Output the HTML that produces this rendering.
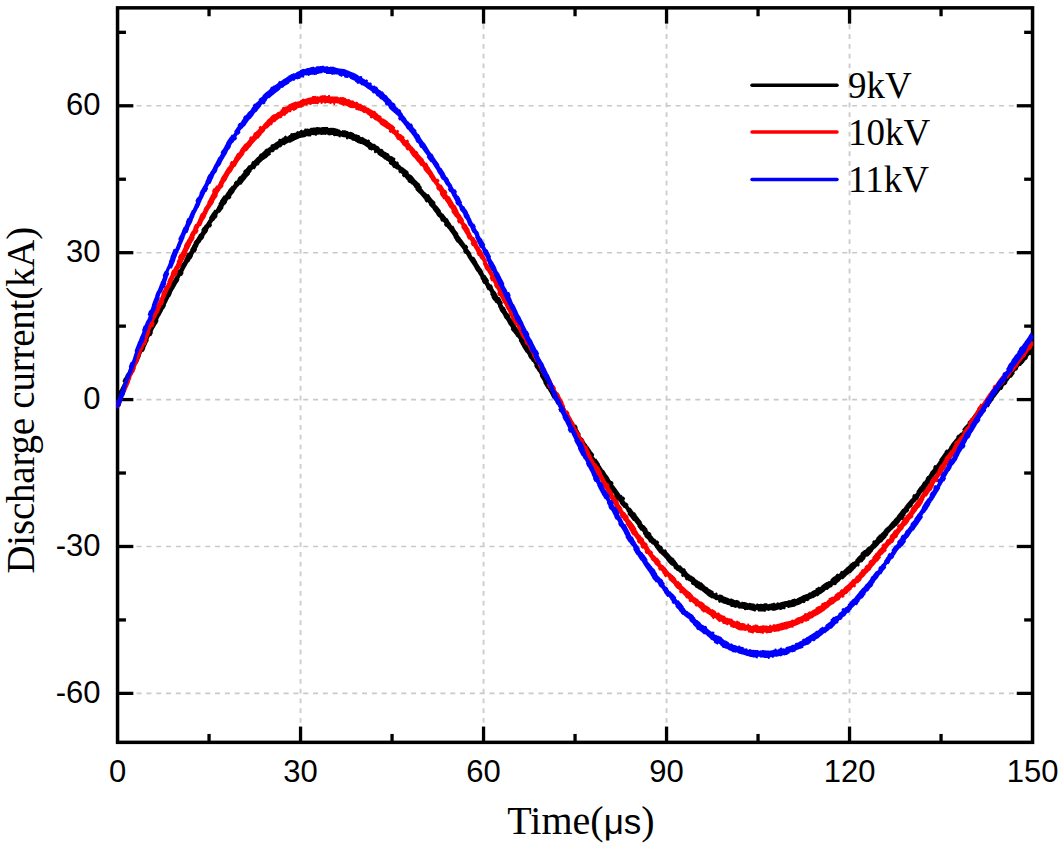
<!DOCTYPE html>
<html><head><meta charset="utf-8"><title>Discharge current</title><style>
html,body{margin:0;padding:0;background:#fff;width:1062px;height:848px;overflow:hidden}
svg{display:block}
text{fill:#000}
</style></head><body>
<svg width="1062" height="848" viewBox="0 0 1062 848">
<line x1="300.55" y1="742.35" x2="300.55" y2="7.85" stroke="#cdcdcd" stroke-width="1.9" stroke-dasharray="4.8 4.97" fill="none"/>
<line x1="483.55" y1="742.35" x2="483.55" y2="7.85" stroke="#cdcdcd" stroke-width="1.9" stroke-dasharray="4.8 4.97" fill="none"/>
<line x1="666.55" y1="742.35" x2="666.55" y2="7.85" stroke="#cdcdcd" stroke-width="1.9" stroke-dasharray="4.8 4.97" fill="none"/>
<line x1="849.55" y1="742.35" x2="849.55" y2="7.85" stroke="#cdcdcd" stroke-width="1.9" stroke-dasharray="4.8 4.97" fill="none"/>
<line x1="117.55" y1="693.38" x2="1032.55" y2="693.38" stroke="#c9c9c9" stroke-width="1.6" stroke-dasharray="5 4.8" stroke-dashoffset="0.5" fill="none"/>
<line x1="117.55" y1="546.48" x2="1032.55" y2="546.48" stroke="#c9c9c9" stroke-width="1.6" stroke-dasharray="5 4.8" stroke-dashoffset="0.5" fill="none"/>
<line x1="117.55" y1="399.58" x2="1032.55" y2="399.58" stroke="#c9c9c9" stroke-width="1.6" stroke-dasharray="5 4.8" stroke-dashoffset="0.5" fill="none"/>
<line x1="117.55" y1="252.68" x2="1032.55" y2="252.68" stroke="#c9c9c9" stroke-width="1.6" stroke-dasharray="5 4.8" stroke-dashoffset="0.5" fill="none"/>
<line x1="117.55" y1="105.78" x2="1032.55" y2="105.78" stroke="#c9c9c9" stroke-width="1.6" stroke-dasharray="5 4.8" stroke-dashoffset="0.5" fill="none"/>
<rect x="117.55" y="7.85" width="915.00" height="734.50" fill="none" stroke="#000" stroke-width="3.5"/>
<line x1="209.05" y1="742.35" x2="209.05" y2="733.95" stroke="#000" stroke-width="3.3"/>
<line x1="209.05" y1="7.85" x2="209.05" y2="16.25" stroke="#000" stroke-width="3.3"/>
<line x1="300.55" y1="742.35" x2="300.55" y2="726.55" stroke="#000" stroke-width="3.3"/>
<line x1="300.55" y1="7.85" x2="300.55" y2="23.65" stroke="#000" stroke-width="3.3"/>
<line x1="392.05" y1="742.35" x2="392.05" y2="733.95" stroke="#000" stroke-width="3.3"/>
<line x1="392.05" y1="7.85" x2="392.05" y2="16.25" stroke="#000" stroke-width="3.3"/>
<line x1="483.55" y1="742.35" x2="483.55" y2="726.55" stroke="#000" stroke-width="3.3"/>
<line x1="483.55" y1="7.85" x2="483.55" y2="23.65" stroke="#000" stroke-width="3.3"/>
<line x1="575.05" y1="742.35" x2="575.05" y2="733.95" stroke="#000" stroke-width="3.3"/>
<line x1="575.05" y1="7.85" x2="575.05" y2="16.25" stroke="#000" stroke-width="3.3"/>
<line x1="666.55" y1="742.35" x2="666.55" y2="726.55" stroke="#000" stroke-width="3.3"/>
<line x1="666.55" y1="7.85" x2="666.55" y2="23.65" stroke="#000" stroke-width="3.3"/>
<line x1="758.05" y1="742.35" x2="758.05" y2="733.95" stroke="#000" stroke-width="3.3"/>
<line x1="758.05" y1="7.85" x2="758.05" y2="16.25" stroke="#000" stroke-width="3.3"/>
<line x1="849.55" y1="742.35" x2="849.55" y2="726.55" stroke="#000" stroke-width="3.3"/>
<line x1="849.55" y1="7.85" x2="849.55" y2="23.65" stroke="#000" stroke-width="3.3"/>
<line x1="941.05" y1="742.35" x2="941.05" y2="733.95" stroke="#000" stroke-width="3.3"/>
<line x1="941.05" y1="7.85" x2="941.05" y2="16.25" stroke="#000" stroke-width="3.3"/>
<line x1="117.55" y1="32.33" x2="125.95" y2="32.33" stroke="#000" stroke-width="3.3"/>
<line x1="1032.55" y1="32.33" x2="1024.15" y2="32.33" stroke="#000" stroke-width="3.3"/>
<line x1="117.55" y1="105.78" x2="133.35" y2="105.78" stroke="#000" stroke-width="3.3"/>
<line x1="1032.55" y1="105.78" x2="1016.75" y2="105.78" stroke="#000" stroke-width="3.3"/>
<line x1="117.55" y1="179.23" x2="125.95" y2="179.23" stroke="#000" stroke-width="3.3"/>
<line x1="1032.55" y1="179.23" x2="1024.15" y2="179.23" stroke="#000" stroke-width="3.3"/>
<line x1="117.55" y1="252.68" x2="133.35" y2="252.68" stroke="#000" stroke-width="3.3"/>
<line x1="1032.55" y1="252.68" x2="1016.75" y2="252.68" stroke="#000" stroke-width="3.3"/>
<line x1="117.55" y1="326.13" x2="125.95" y2="326.13" stroke="#000" stroke-width="3.3"/>
<line x1="1032.55" y1="326.13" x2="1024.15" y2="326.13" stroke="#000" stroke-width="3.3"/>
<line x1="117.55" y1="399.58" x2="133.35" y2="399.58" stroke="#000" stroke-width="3.3"/>
<line x1="1032.55" y1="399.58" x2="1016.75" y2="399.58" stroke="#000" stroke-width="3.3"/>
<line x1="117.55" y1="473.03" x2="125.95" y2="473.03" stroke="#000" stroke-width="3.3"/>
<line x1="1032.55" y1="473.03" x2="1024.15" y2="473.03" stroke="#000" stroke-width="3.3"/>
<line x1="117.55" y1="546.48" x2="133.35" y2="546.48" stroke="#000" stroke-width="3.3"/>
<line x1="1032.55" y1="546.48" x2="1016.75" y2="546.48" stroke="#000" stroke-width="3.3"/>
<line x1="117.55" y1="619.93" x2="125.95" y2="619.93" stroke="#000" stroke-width="3.3"/>
<line x1="1032.55" y1="619.93" x2="1024.15" y2="619.93" stroke="#000" stroke-width="3.3"/>
<line x1="117.55" y1="693.38" x2="133.35" y2="693.38" stroke="#000" stroke-width="3.3"/>
<line x1="1032.55" y1="693.38" x2="1016.75" y2="693.38" stroke="#000" stroke-width="3.3"/>
<g>
<path d="M118.8 405.4l.4 -.9 .4 -.8 .4 -.9 .3 -.9 -.5 -1.6 .4 -.9 .4 -.9 .3 -.8 .4 -.9 .3 -1 .4 -.8 .3 -.9 .4 -.8 .4 -.9 1.1 -.3 .4 -.8 .4 -.9 .4 -.8 .4 -.9 .1 -.9 .4 -.9 .4 -.8 .4 -.8 .3 -.9 .6 -.6 .3 -.9 .4 -.8 .4 -.8 .4 -.9 .2 -.9 .4 -.9 .4 -.8 .4 -.8 .3 -.8 .8 -.7 .4 -.8 .4 -.8 .4 -.8 .3 -.9 .5 -.7 .3 -.9 .4 -.8 .4 -.8 .4 -.8 -.4 -1.2 .4 -.8 .4 -.8 .4 -.8 .3 -.8 1.1 -.5 .4 -.8 .3 -.8 .4 -.8 .4 -.8 .1 -.7 .4 -.8 .4 -.8 .4 -.8 .3 -.8 0 -1 .4 -.8 .4 -.8 .4 -.8 .4 -.8 1.5 -.5 .3 -.8 .4 -.8 .4 -.8 .4 -.8 -.1 -.7 .4 -.8 .4 -.8 .3 -.8 .4 -.8 .5 -1.2 .4 -.7 .4 -.8 .4 -.8 .4 -.8 -.5 -.7 .4 -.8 .4 -.8 .4 -.8 .3 -.8 1.4 -.2 .4 -.7 .4 -.8 .4 -.8 .3 -.8 -.1 -1.5 .4 -.8 .4 -.8 .3 -.8 .4 -.8 .5 -.4 .4 -.8 .4 -.7 .4 -.8 .4 -.8 .6 -.6 .4 -.7 .4 -.8 .4 -.8 .4 -.8 -.3 -1.5 .4 -.7 .3 -.8 .4 -.8 .4 -.8 .6 -.7 .4 -.8 .4 -.7 .4 -.8 .4 -.8 .3 -.4 .4 -.8 .4 -.8 .3 -.7 .4 -.8 .6 -.3 .4 -.8 .4 -.7 .4 -.8 .4 -.7 0 -1.3 .4 -.8 .4 -.7 .4 -.8 .4 -.7 .5 -1.2 .4 -.8 .4 -.7 .3 -.8 .4 -.7 .6 -.3 .4 -.8 .4 -.7 .3 -.8 .4 -.7 .2 -1.1 .3 -.7 .4 -.8 .4 -.7 .4 -.7 .4 -.4 .4 -.7 .4 -.7 .3 -.7 .4 -.8 .5 -.5 .3 -.8 .4 -.7 .4 -.7 .4 -.7 .8 -.9 .4 -.7 .4 -.7 .4 -.7 .3 -.7 -.4 -.7 .4 -.7 .4 -.7 .3 -.7 .4 -.7 1.5 -.3 .4 -.7 .3 -.7 .4 -.7 .4 -.7 -.4 -1.1 .4 -.7 .4 -.7 .4 -.7 .3 -.7 .3 -.6 .4 -.7 .4 -.7 .4 -.6 .4 -.7 .4 -.9 .4 -.7 .4 -.6 .4 -.7 .4 -.7 .7 -.3 .4 -.7 .4 -.7 .3 -.6 .4 -.7 .6 -.3 .4 -.6 .3 -.7 .4 -.7 .4 -.6 .2 -1.2 .3 -.7 .4 -.6 .4 -.7 .4 -.6 .9 -.1 .3 -.7 .4 -.6 .4 -.7 .4 -.6 -.2 -1.1 .3 -.6 .4 -.7 .4 -.6 .4 -.6 .1 -.8 .3 -.6 .4 -.7 .4 -.6 .4 -.6 .6 -.4 .3 -.6 .4 -.6 .4 -.7 .4 -.6 .8 -.4 .4 -.6 .4 -.7 .3 -.6 .4 -.6 0 -.9 .3 -.6 .4 -.6 .4 -.6 .4 -.7 .8 -.5 .4 -.7 .4 -.6 .4 -.6 .3 -.6 -.1 -.8 .4 -.6 .3 -.6 .4 -.6 .4 -.6 1 .1 .4 -.6 .4 -.6 .4 -.6 .4 -.6 -.6 -1.5 .4 -.6 .4 -.6 .4 -.6 .3 -.6 .9 -.2 .4 -.6 .4 -.6 .4 -.6 .3 -.6 .7 -.1 .4 -.6 .4 -.6 .3 -.6 .4 -.5 -.2 -1.4 .3 -.6 .4 -.5 .4 -.6 .4 -.6 .9 .4 .3 -.5 .4 -.6 .4 -.5 .4 -.6 .7 -.8 .4 -.5 .4 -.6 .4 -.5 .3 -.6 -.2 -.9 .3 -.5 .4 -.5 .4 -.6 .4 -.5 .7 -.3 .4 -.6 .3 -.5 .4 -.5 .4 -.6 .1 -.9 .3 -.6 .4 -.5 .4 -.5 .4 -.5 1.3 0 .4 -.5 .4 -.5 .3 -.5 .4 -.5 -.3 -1 .4 -.6 .4 -.5 .3 -.5 .4 -.5 .3 -.2 .4 -.5 .4 -.5 .4 -.5 .4 -.5 .2 -1.1 .4 -.5 .4 -.5 .4 -.4 .4 -.5 -.1 0 .4 -.5 .4 -.5 .3 -.5 .4 -.4 .8 -.8 .4 -.4 .4 -.5 .4 -.5 .3 -.4 1.1 .4 .4 -.5 .3 -.4 .4 -.5 .4 -.5 .3 -.5 .4 -.5 .4 -.4 .3 -.5 .4 -.4 .4 -.6 .4 -.4 .4 -.5 .3 -.4 .4 -.5 .1 -.2 .4 -.5 .4 -.4 .3 -.4 .4 -.5 .6 -.5 .4 -.4 .4 -.5 .4 -.4 .3 -.4 0 -.8 .4 -.5 .4 -.4 .4 -.4 .4 -.4 0 -.9 .3 -.4 .4 -.4 .4 -.5 .4 -.4 1.2 .5 .4 -.4 .3 -.4 .4 -.4 .4 -.4 .1 -1.1 .4 -.4 .4 -.4 .4 -.4 .4 -.4 .4 .6 .4 -.4 .4 -.3 .3 -.4 .4 -.4 .2 -.8 .3 -.4 .4 -.3 .4 -.4 .4 -.4 .6 -.5 .4 -.3 .3 -.4 .4 -.3 .4 -.4 .4 -.1 .4 -.3 .4 -.3 .4 -.4 .3 -.3 .8 -.1 .3 -.3 .4 -.3 .4 -.3 .4 -.4 .1 -.2 .3 -.4 .4 -.3 .4 -.3 .4 -.3 .5 -.2 .4 -.3 .4 -.3 .4 -.3 .3 -.3 -.5 -1.3 .4 -.3 .4 -.3 .3 -.3 .4 -.3 .9 .5 .4 -.3 .3 -.2 .4 -.3 .4 -.3 .2 -.8 .4 -.2 .4 -.3 .4 -.3 .3 -.2 .7 .4 .4 -.3 .4 -.2 .3 -.3 .4 -.2 0 -.6 .4 -.3 .4 -.2 .3 -.3 .4 -.2 .5 .1 .4 -.2 .4 -.2 .3 -.2 .4 -.3 .3 -.7 .3 -.2 .4 -.3 .4 -.2 .4 -.2 .5 .5 .4 -.2 .4 -.2 .3 -.2 .4 -.2 .2 -.5 .4 -.2 .4 -.2 .3 -.2 .4 -.1 .4 -.3 .4 -.2 .3 -.1 .4 -.2 .4 -.2 .6 .6 .3 -.2 .4 -.1 .4 -.2 .3 -.2 .3 -.3 .4 -.2 .3 -.1 .4 -.2 .3 -.1 .5 -.4 .3 -.1 .4 -.2 .4 -.1 .3 -.2 .3 -.3 .3 -.1 .4 -.1 .4 -.2 .3 -.1 .4 -.2 .3 -.1 .4 -.2 .4 -.1 .3 -.1 .4 -.4 .4 -.1 .3 -.2 .4 -.1 .4 -.1 .2 0 .4 -.1 .3 -.1 .4 -.1 .4 -.1 .5 .1 .4 -.1 .3 -.1 .4 -.1 .4 -.1 .3 0 .4 -.1 .3 0 .4 -.1 .4 -.1 .3 -.6 .4 -.1 .4 0 .3 -.1 .4 -.1 .4 .5 .4 -.1 .4 -.1 .3 0 .4 -.1 .4 .2 .3 0 .4 -.1 .4 -.1 .3 0 .3 -1.2 .3 -.1 .4 0 .4 -.1 .3 0 .4 .4 .4 -.1 .4 0 .3 0 .4 -.1 .5 .7 .3 0 .4 0 .3 -.1 .4 0 .3 -.9 .4 -.1 .3 0 .4 0 .4 0 .3 -.2 .4 0 .4 0 .3 -.1 .4 0 .4 .6 .3 -.1 .4 0 .3 0 .4 0 .4 -.1 .3 0 .4 0 .4 0 .3 0 .4 0 .4 0 .3 0 .4 .1 .4 0 .3 -.3 .4 0 .3 0 .4 0 .4 0 .3 .7 .4 0 .4 0 .3 0 .4 .1 .4 -.2 .3 0 .4 .1 .4 0 .3 0 .4 -.4 .3 .1 .4 0 .4 .1 .3 0 .4 1 .3 0 .4 .1 .4 0 .3 .1 .4 -.4 .4 .1 .3 0 .4 .1 .4 .1 .4 -.1 .3 .1 .4 .1 .4 0 .3 .1 .3 .8 .4 .1 .4 0 .3 .1 .4 .1 .5 -1 .4 .1 .4 .1 .4 .1 .3 .1 .3 .1 .4 .1 .3 .1 .4 .1 .4 .1 .4 -.2 .4 .1 .4 .1 .4 .1 .3 .1 0 1.5 .4 .1 .3 .1 .4 .2 .4 .1 .6 -1 .4 .1 .3 .1 .4 .1 .4 .2 .4 0 .4 .2 .3 .1 .4 .1 .4 .2 .2 .6 .4 .2 .4 .1 .3 .1 .4 .2 .4 -.2 .4 .1 .4 .2 .4 .1 .3 .2 .3 .5 .4 .2 .3 .1 .4 .2 .4 .1 .3 .4 .4 .2 .4 .1 .3 .2 .4 .2 .3 -.1 .4 .2 .4 .2 .3 .2 .4 .1 .7 -.2 .4 .1 .4 .2 .3 .2 .4 .2 .3 .2 .4 .1 .4 .2 .4 .2 .3 .2 .2 .4 .4 .2 .4 .2 .3 .2 .4 .2 .4 .4 .4 .2 .3 .2 .4 .2 .4 .2 0 1.1 .4 .3 .3 .2 .4 .2 .4 .2 .5 -.1 .3 .2 .4 .3 .4 .2 .3 .2 1.2 -.8 .3 .2 .4 .2 .4 .3 .4 .2 -.4 1.6 .4 .2 .3 .3 .4 .2 .4 .3 .8 -.8 .4 .3 .4 .2 .4 .3 .3 .3 0 .7 .4 .3 .3 .2 .4 .3 .4 .3 .3 .3 .4 .2 .4 .3 .4 .3 .3 .3 .8 .2 .4 .3 .4 .3 .3 .3 .4 .3 .2 .3 .4 .3 .4 .3 .4 .3 .3 .3 .6 0 .4 .3 .3 .3 .4 .3 .4 .3 .5 -.1 .3 .3 .4 .3 .4 .4 .4 .3 -.2 1.4 .4 .3 .4 .3 .3 .3 .4 .4 .6 0 .4 .3 .4 .4 .4 .3 .3 .3 0 .7 .3 .3 .4 .3 .4 .4 .4 .3 .9 -.2 .3 .4 .4 .3 .4 .4 .4 .3 .8 -.2 .4 .3 .4 .4 .3 .3 .4 .4 -.2 1.3 .4 .4 .3 .3 .4 .4 .4 .4 .9 -.3 .4 .4 .4 .3 .4 .4 .3 .4 -.3 1.2 .4 .3 .4 .4 .3 .4 .4 .4 .9 -.2 .4 .4 .3 .4 .4 .4 .4 .4 .2 .4 .3 .4 .4 .4 .4 .4 .4 .4 .1 .8 .3 .4 .4 .4 .4 .4 .4 .4 .9 -.1 .4 .4 .4 .4 .3 .4 .4 .4 .6 0 .4 .4 .4 .5 .4 .4 .4 .4 .1 .7 .4 .4 .4 .4 .4 .4 .4 .5 -.1 .9 .3 .4 .4 .5 .4 .4 .4 .4 .6 .6 .4 .4 .4 .5 .4 .4 .3 .4 .6 .2 .4 .5 .4 .4 .4 .5 .4 .4 .2 .3 .4 .5 .4 .4 .4 .5 .4 .4 .2 .5 .4 .4 .4 .5 .4 .4 .3 .5 .2 1 .4 .4 .4 .5 .4 .4 .3 .5 1 -.7 .4 .4 .4 .5 .4 .5 .4 .4 -.1 .8 .3 .5 .4 .5 .4 .5 .4 .4 .7 .6 .4 .5 .4 .4 .4 .5 .4 .5 .2 .7 .4 .5 .4 .5 .4 .5 .4 .5 .2 .3 .4 .5 .4 .5 .4 .5 .3 .5 .4 .8 .4 .5 .4 .5 .4 .5 .4 .5 .4 0 .4 .5 .4 .4 .4 .5 .4 .5 .1 1.1 .4 .5 .4 .5 .4 .5 .3 .5 1.1 -.4 .3 .5 .4 .5 .4 .5 .4 .5 -.4 1.2 .4 .5 .4 .5 .4 .5 .4 .5 1 .3 .4 .6 .3 .5 .4 .5 .4 .5 .2 0 .3 .5 .4 .5 .4 .5 .4 .6 .6 .7 .4 .6 .3 .5 .4 .5 .4 .5 .4 .8 .4 .5 .3 .5 .4 .6 .4 .5 -.2 .6 .3 .6 .4 .5 .4 .5 .4 .6 .3 .7 .4 .6 .4 .5 .3 .5 .4 .6 .8 .1 .4 .5 .4 .6 .4 .5 .4 .6 .6 .5 .4 .5 .4 .6 .3 .5 .4 .6 .5 .5 .4 .6 .4 .5 .4 .6 .3 .6 -.2 1 .3 .6 .4 .6 .4 .5 .4 .6 1.1 .3 .4 .6 .4 .6 .4 .5 .3 .6 .2 .8 .4 .6 .3 .5 .4 .6 .4 .6 .3 .4 .4 .6 .3 .6 .4 .6 .4 .6 .4 .5 .4 .5 .4 .6 .4 .6 .4 .6 .3 .5 .4 .6 .3 .6 .4 .6 .4 .6 .4 1.1 .4 .6 .4 .6 .3 .6 .4 .6 .4 0 .4 .6 .4 .6 .3 .7 .4 .6 .5 .8 .4 .6 .4 .6 .4 .7 .4 .6 0 1.1 .3 .6 .4 .6 .4 .6 .4 .7 0 .7 .4 .6 .4 .6 .4 .6 .4 .7 1 .1 .3 .7 .4 .6 .4 .7 .4 .6 .1 1 .4 .6 .3 .6 .4 .7 .4 .6 1.2 .1 .4 .6 .4 .7 .4 .6 .4 .7 -.3 1.4 .4 .6 .4 .6 .3 .7 .4 .6 -.1 .9 .4 .6 .4 .7 .4 .6 .3 .7 .8 .1 .4 .6 .4 .7 .4 .6 .3 .7 1.2 .2 .4 .6 .4 .7 .4 .6 .3 .6 0 1.1 .4 .7 .4 .6 .4 .7 .3 .6 0 .5 .3 .7 .4 .6 .4 .6 .4 .7 .8 .6 .3 .6 .4 .6 .4 .7 .4 .6 .3 1 .4 .6 .3 .7 .4 .6 .4 .6 .5 .2 .4 .6 .4 .6 .4 .6 .4 .7 .2 .7 .4 .6 .3 .7 .4 .6 .4 .6 .7 .7 .4 .6 .4 .6 .4 .6 .3 .7 -.5 .9 .4 .6 .4 .6 .4 .6 .4 .6 .6 .2 .4 .6 .4 .6 .4 .6 .3 .6 .7 .5 .4 .6 .3 .6 .4 .6 .4 .6 1 .4 .4 .6 .3 .6 .4 .6 .4 .6 -.3 1 .4 .6 .4 .6 .4 .6 .4 .6 0 .4 .3 .6 .4 .6 .4 .7 .4 .6 .3 .8 .4 .6 .4 .6 .3 .6 .4 .6 .7 .9 .3 .7 .4 .6 .4 .6 .4 .6 .6 .1 .4 .6 .4 .7 .4 .6 .4 .6 .2 1.1 .4 .6 .4 .7 .4 .6 .3 .7 .7 .2 .4 .6 .4 .7 .3 .6 .4 .7 .9 .3 .4 .7 .4 .6 .4 .7 .4 .6 -.3 1.3 .4 .6 .4 .7 .4 .7 .3 .6 .6 .2 .3 .6 .4 .7 .4 .7 .4 .6 .6 .5 .4 .7 .4 .7 .4 .6 .3 .7 0 1.5 .4 .7 .4 .7 .4 .6 .4 .7 .4 .4 .4 .7 .3 .7 .4 .7 .4 .6 0 1.1 .4 .7 .4 .6 .4 .7 .4 .7 .4 .5 .4 .7 .4 .7 .3 .7 .4 .6 .6 .1 .3 .6 .4 .7 .4 .7 .4 .7 .6 .9 .4 .7 .3 .6 .4 .7 .4 .7 .2 .8 .4 .7 .4 .6 .4 .7 .4 .6 .9 .1 .3 .7 .4 .6 .4 .7 .4 .6 .1 .7 .4 .7 .4 .6 .4 .7 .3 .6 .9 .4 .4 .7 .4 .6 .4 .7 .3 .6 -1 1.8 .4 .6 .4 .7 .3 .6 .4 .7 1.3 0 .4 .7 .4 .6 .4 .7 .4 .6 .3 .7 .4 .6 .4 .7 .3 .6 .4 .6 0 1 .4 .6 .4 .6 .3 .7 .4 .6 1.1 .7 .4 .7 .4 .6 .4 .6 .4 .6 .5 .1 .3 .7 .4 .6 .4 .6 .4 .7 -.2 .7 .4 .6 .4 .6 .4 .6 .4 .7 -.3 1.6 .4 .6 .4 .6 .4 .6 .3 .6 .9 -.2 .4 .6 .4 .6 .3 .6 .4 .6 .9 .8 .4 .6 .4 .6 .3 .6 .4 .6 -.3 1.4 .3 .6 .4 .6 .4 .6 .4 .7 .7 -.2 .4 .6 .4 .6 .4 .6 .3 .6 .4 .9 .4 .6 .4 .6 .4 .6 .4 .6 .4 .3 .4 .6 .4 .6 .4 .6 .3 .6 .1 .8 .4 .6 .3 .6 .4 .6 .4 .6 1 .3 .4 .6 .4 .6 .4 .6 .3 .6 -.1 1.2 .4 .6 .4 .5 .3 .6 .4 .6 .3 .4 .4 .5 .4 .6 .4 .6 .3 .6 .9 .6 .4 .6 .4 .6 .3 .6 .4 .5 1.1 0 .4 .6 .3 .6 .4 .6 .4 .6 -.2 .8 .4 .6 .3 .5 .4 .6 .4 .6 .2 1 .4 .6 .4 .6 .4 .6 .4 .5 1 -.4 .4 .6 .4 .5 .3 .6 .4 .6 -.1 1.2 .4 .6 .4 .5 .4 .6 .4 .6 .3 .7 .4 .5 .3 .6 .4 .5 .4 .6 -.1 .6 .4 .6 .3 .5 .4 .6 .4 .5 .9 .5 .4 .5 .4 .6 .4 .5 .3 .6 0 .7 .4 .5 .3 .6 .4 .5 .4 .6 1.1 .4 .4 .5 .3 .5 .4 .6 .4 .5 -.6 1.2 .4 .5 .4 .6 .4 .5 .3 .5 .2 .6 .4 .6 .3 .5 .4 .5 .4 .6 1.1 -.6 .4 .5 .4 .5 .4 .5 .3 .6 .2 .8 .4 .6 .4 .5 .4 .5 .4 .5 .9 .7 .4 .5 .4 .5 .4 .5 .3 .5 1 -.1 .4 .6 .4 .5 .4 .5 .4 .5 -.1 .7 .4 .5 .4 .5 .4 .5 .4 .5 -.6 1 .4 .5 .4 .5 .4 .5 .4 .5 .6 .4 .4 .5 .3 .5 .4 .5 .4 .5 .5 .6 .4 .5 .4 .5 .4 .5 .3 .5 .9 0 .4 .5 .4 .5 .3 .5 .4 .5 .5 .5 .3 .5 .4 .5 .4 .5 .4 .5 -.1 1 .4 .5 .4 .5 .3 .5 .4 .4 .3 .5 .3 .5 .4 .5 .4 .5 .4 .4 .8 0 .4 .5 .4 .5 .4 .5 .4 .4 -.2 1.1 .4 .5 .4 .5 .4 .5 .3 .4 .1 .9 .4 .5 .4 .4 .4 .5 .4 .5 .6 .1 .4 .4 .4 .5 .4 .4 .4 .5 0 .6 .4 .5 .4 .5 .3 .4 .4 .5 .8 0 .4 .4 .4 .5 .3 .4 .4 .5 1 0 .4 .5 .4 .4 .3 .5 .4 .4 .2 .6 .3 .5 .4 .4 .4 .5 .4 .4 .3 .8 .4 .4 .4 .5 .3 .4 .4 .4 .4 .6 .3 .5 .4 .4 .4 .4 .4 .5 .4 -.2 .4 .5 .4 .4 .4 .4 .3 .4 .5 .3 .4 .4 .4 .4 .4 .5 .4 .4 .5 .6 .4 .4 .4 .4 .4 .4 .4 .4 .1 .7 .4 .4 .4 .4 .3 .4 .4 .4 .2 .5 .4 .4 .4 .4 .4 .4 .4 .4 .2 .2 .4 .4 .3 .4 .4 .4 .4 .4 .9 -.1 .4 .4 .4 .3 .3 .4 .4 .4 0 1 .4 .4 .3 .4 .4 .4 .4 .3 .5 .1 .4 .4 .3 .4 .4 .3 .4 .4 1 .2 .4 .3 .3 .4 .4 .4 .4 .3 .3 -.1 .3 .3 .4 .4 .4 .3 .4 .4 -.3 1.8 .4 .4 .4 .4 .4 .3 .4 .4 .9 -.7 .4 .3 .3 .4 .4 .3 .4 .4 0 1.2 .4 .4 .4 .3 .4 .4 .3 .3 1.1 -.3 .4 .3 .4 .3 .3 .4 .4 .3 .5 -.3 .4 .3 .4 .3 .4 .3 .3 .4 -.3 1.1 .4 .3 .4 .4 .4 .3 .3 .3 .8 0 .4 .4 .4 .3 .4 .3 .4 .3 .1 .6 .3 .3 .4 .3 .4 .3 .4 .3 .6 .1 .4 .3 .4 .3 .4 .3 .4 .3 .4 0 .4 .3 .4 .3 .4 .3 .4 .2 .7 .1 .3 .2 .4 .3 .4 .3 .4 .3 .3 .4 .3 .2 .4 .3 .4 .3 .4 .2 .2 .4 .4 .3 .4 .2 .4 .3 .4 .2 .4 .8 .4 .2 .4 .3 .4 .2 .4 .3 .1 .3 .4 .3 .4 .2 .4 .2 .4 .3 .5 .1 .4 .2 .4 .3 .4 .2 .4 .2 .7 -.4 .3 .2 .4 .3 .4 .2 .4 .2 .3 .5 .3 .2 .4 .2 .4 .2 .4 .2 .5 -.5 .5 .2 .4 .2 .3 .2 .4 .2 -.1 1.4 .4 .2 .4 .2 .4 .2 .4 .2 .9 -.7 .4 .2 .4 .2 .4 .1 .3 .2 .4 .3 .4 .2 .4 .2 .4 .1 .4 .2 .5 -.2 .4 .2 .4 .1 .4 .2 .4 .1 .4 .4 .4 .1 .4 .1 .3 .2 .4 .1 .4 -.1 .4 .1 .4 .2 .4 .1 .4 .1 .1 1 .4 .1 .4 .2 .4 .1 .4 .1 .5 -.2 .4 .1 .4 .1 .4 .1 .4 .1 .3 .3 .4 .1 .4 .1 .4 .1 .3 .1 .7 -.6 .4 .1 .4 .1 .4 0 .4 .1 .2 .7 .4 .1 .4 .1 .4 .1 .4 .1 .4 -.3 .4 .1 .4 0 .4 .1 .4 .1 .4 0 .4 0 .4 .1 .4 .1 .4 .1 .2 1 .4 0 .4 .1 .4 .1 .4 0 .6 -.5 .4 .1 .3 0 .4 .1 .4 .1 .5 -.4 .3 .1 .4 0 .4 .1 .4 .1 .4 .2 .4 .1 .4 0 .4 .1 .3 0 .4 .3 .4 .1 .4 0 .4 .1 .4 0 .4 .5 .4 0 .3 0 .4 .1 .4 0 .5 -1.4 .4 .1 .4 0 .4 0 .4 0 .3 1.3 .4 0 .4 .1 .4 0 .4 0 .4 -.2 .4 0 .4 0 .4 0 .4 0 .4 0 .4 0 .4 0 .4 0 .4 0 .4 .3 .4 0 .4 0 .4 0 .4 0 .4 -1.1 .4 -.1 .4 0 .4 0 .4 0 .4 .4 .4 0 .4 -.1 .4 0 .4 0 .3 -.5 .4 -.1 .4 0 .4 0 .4 -.1 .5 .7 .4 0 .3 -.1 .4 0 .4 0 .5 .1 .4 0 .4 -.1 .4 0 .4 -.1 .3 -.4 .4 0 .4 -.1 .4 0 .4 -.1 .4 -.4 .4 0 .4 -.1 .3 0 .4 -.1 .5 .8 .4 -.1 .4 0 .4 -.1 .4 -.1 .4 -.6 .3 -.1 .4 0 .4 -.1 .4 -.1 .5 .4 .4 -.1 .4 -.1 .4 -.1 .3 0 .2 -1.9 .3 -.1 .4 -.1 .4 -.1 .4 -.1 .6 1.3 .4 0 .4 -.1 .4 -.1 .4 -.1 .5 -.2 .4 -.1 .4 -.1 .3 -.1 .4 -.1 .4 .1 .4 -.1 .4 -.1 .4 -.2 .4 -.1 .4 .2 .4 -.1 .4 -.2 .4 -.1 .4 -.1 .3 -.6 .4 -.1 .4 -.2 .4 -.1 .4 -.1 .4 -.1 .4 -.2 .4 -.1 .4 -.1 .4 -.2 .3 -.2 .4 -.1 .4 -.2 .4 -.1 .4 -.2 .4 -.6 .4 -.1 .4 -.2 .3 -.1 .4 -.2 .7 .5 .4 -.2 .4 -.1 .4 -.2 .4 -.2 0 -.9 .4 -.1 .4 -.2 .4 -.2 .4 -.2 .7 .3 .4 -.2 .4 -.2 .4 -.2 .4 -.2 0 -.8 .4 -.2 .4 -.1 .4 -.2 .4 -.2 .4 -.1 .4 -.2 .4 -.2 .4 -.2 .4 -.2 .4 .2 .4 -.3 .4 -.2 .4 -.2 .4 -.2 .4 -.4 .4 -.2 .4 -.2 .4 -.2 .3 -.2 .8 .4 .4 -.2 .3 -.3 .4 -.2 .4 -.2 .2 -.7 .4 -.3 .4 -.2 .3 -.2 .4 -.3 .5 -.2 .4 -.3 .4 -.2 .3 -.3 .4 -.2 .2 -.2 .4 -.3 .4 -.2 .4 -.2 .4 -.3 .4 -.7 .4 -.2 .4 -.3 .4 -.2 .4 -.3 .7 .3 .3 -.2 .4 -.3 .4 -.3 .4 -.2 .1 -.5 .4 -.2 .4 -.3 .3 -.3 .4 -.2 .7 0 .3 -.2 .4 -.3 .4 -.3 .4 -.2 -.1 -.7 .4 -.3 .4 -.3 .4 -.3 .3 -.2 1 .7 .4 -.3 .4 -.2 .4 -.3 .4 -.3 .3 -.9 .4 -.3 .4 -.3 .4 -.3 .4 -.3 .1 -.2 .4 -.3 .4 -.3 .4 -.3 .4 -.3 .1 -.7 .4 -.3 .4 -.3 .3 -.3 .4 -.3 1 .5 .4 -.4 .4 -.3 .4 -.3 .4 -.3 .3 -.6 .4 -.3 .3 -.3 .4 -.3 .4 -.4 .3 -.4 .3 -.3 .4 -.4 .4 -.3 .4 -.3 .6 -.3 .4 -.3 .4 -.4 .4 -.3 .3 -.3 .4 .2 .4 -.3 .4 -.4 .4 -.3 .4 -.3 .2 -.4 .4 -.4 .3 -.3 .4 -.3 .4 -.4 .4 -.6 .4 -.4 .4 -.3 .4 -.4 .4 -.3 .2 -.7 .4 -.3 .4 -.4 .4 -.3 .4 -.4 .7 .8 .4 -.4 .4 -.3 .3 -.4 .4 -.4 -.4 -1.6 .4 -.4 .4 -.4 .3 -.3 .4 -.4 .9 .4 .4 -.4 .4 -.3 .4 -.4 .4 -.4 .4 -.7 .4 -.4 .4 -.3 .4 -.4 .4 -.4 0 -1.1 .4 -.4 .4 -.4 .4 -.3 .4 -.4 .9 .4 .4 -.4 .4 -.3 .4 -.4 .3 -.4 .4 -.3 .3 -.4 .4 -.4 .4 -.4 .4 -.4 .3 -.6 .3 -.4 .4 -.4 .4 -.4 .4 -.4 .1 -.8 .4 -.3 .4 -.4 .3 -.4 .4 -.4 .5 -.2 .4 -.4 .4 -.4 .4 -.4 .4 -.4 .5 -.5 .4 -.4 .4 -.4 .4 -.5 .4 -.4 .2 -.3 .4 -.4 .3 -.4 .4 -.5 .4 -.4 1 -.2 .4 -.4 .4 -.4 .3 -.4 .4 -.4 .2 -.4 .3 -.4 .4 -.4 .4 -.4 .4 -.4 .2 0 .4 -.4 .4 -.5 .4 -.4 .3 -.4 .1 -.7 .4 -.4 .4 -.4 .4 -.4 .4 -.4 .1 -1.2 .4 -.4 .4 -.4 .3 -.4 .4 -.4 .3 -.3 .4 -.4 .3 -.4 .4 -.4 .4 -.5 .5 -.1 .4 -.4 .3 -.5 .4 -.4 .4 -.4 .5 -.2 .4 -.4 .4 -.4 .4 -.4 .3 -.5 .7 -.3 .4 -.4 .4 -.4 .4 -.5 .4 -.4 .4 -.4 .4 -.5 .4 -.4 .3 -.4 .4 -.5 .4 -.8 .4 -.5 .4 -.4 .3 -.5 .4 -.4 1 .7 .4 -.5 .4 -.4 .4 -.5 .3 -.4 .1 -1.5 .3 -.5 .4 -.5 .4 -.4 .4 -.5 -.3 -.8 .4 -.4 .4 -.5 .3 -.5 .4 -.5 .8 -.1 .3 -.4 .4 -.5 .4 -.5 .4 -.5 -.4 -.8 .4 -.5 .3 -.5 .4 -.5 .4 -.4 1.1 -.3 .4 -.5 .4 -.5 .3 -.5 .4 -.5 -.2 -.8 .4 -.5 .4 -.5 .4 -.5 .3 -.5 .8 -.3 .4 -.5 .4 -.5 .4 -.5 .4 -.6 .9 -.3 .4 -.5 .4 -.6 .4 -.5 .4 -.5 -.1 -.6 .4 -.6 .4 -.5 .4 -.5 .4 -.6 .2 -.6 .3 -.6 .4 -.5 .4 -.5 .4 -.6 1.1 .5 .3 -.6 .4 -.5 .4 -.6 .4 -.5 .3 -1.1 .4 -.6 .4 -.5 .3 -.5 .4 -.6 .4 -.5 .4 -.6 .3 -.5 .4 -.5 .4 -.6 .2 0 .4 -.5 .4 -.5 .4 -.6 .3 -.5 0 -1.2 .4 -.5 .3 -.6 .4 -.5 .4 -.5 .7 -.2 .4 -.5 .4 -.5 .4 -.6 .3 -.5 .1 -.8 .4 -.6 .4 -.5 .4 -.5 .3 -.6 .9 -.5 .4 -.5 .3 -.5 .4 -.6 .4 -.5 .5 -.2 .4 -.5 .3 -.6 .4 -.5 .4 -.5 .3 -.8 .4 -.5 .4 -.5 .4 -.5 .4 -.5 .3 -.7 .4 -.5 .4 -.5 .3 -.5 .4 -.5 0 -.7 .4 -.5 .4 -.5 .4 -.5 .4 -.6 .5 -.2 .4 -.5 .3 -.5 .4 -.6 .4 -.5 .6 -.6 .4 -.5 .3 -.5 .4 -.5 .4 -.5 .5 -.2 .4 -.5 .4 -.5 .4 -.5 .4 -.5 .1 -.9 .4 -.5 .4 -.5 .4 -.5 .3 -.5 .1 -.5 .4 -.5 .4 -.5 .4 -.5 .4 -.5 .8 -.4 .4 -.5 .4 -.5 .4 -.4 .3 -.5 .3 -.6 .4 -.5 .4 -.5 .4 -.5 .4 -.4 0 -.7 .4 -.5 .4 -.5 .3 -.5 .4 -.5 1 -.3 .4 -.5 .3 -.4 .4 -.5 .4 -.5 .2 -.2 .4 -.5 .4 -.5 .4 -.5 .4 -.5 -.2 -.9 .3 -.5 .4 -.5 .4 -.5 .4 -.4 1.3 -.1 .4 -.5 .4 -.5 .4 -.4 .3 -.5 -.3 -.5 .4 -.4 .4 -.5 .4 -.5 .4 -.5 .9 0 .4 -.5 .3 -.4 .4 -.5 .4 -.5 -.1 -.9 .4 -.5 .4 -.5 .4 -.4 .4 -.5 .3 -1 .3 -.5 .4 -.4 .4 -.5 .4 -.5 1.1 .3 .4 -.5 .4 -.5 .4 -.5 .4 -.5 .3 -.4 .4 -.5 .4 -.5 .4 -.5 .4 -.5 .3 -.4 .4 -.5 .4 -.5 .4 -.5 .3 -.4 -.2 -1.1 .3 -.5 .4 -.5 .4 -.5 .4 -.4 1 .3 .4 -.5 .4 -.5 .4 -.4 .4 -.5 -.7 -1.7 .4 -.5 .4 -.5 .3 -.5 .4 -.5 1.3 .6 .4 -.5 .4 -.5 .4 -.5 .3 -.5 .1 -1 .4 -.5 .4 -.5 .4 -.5 .3 -.5 .4 -.4 .4 -.5 .4 -.5 .4 -.5 .4 -.5 .4 -.9 .3 -.5 .4 -.5 .4 -.5 .4 -.5 0 -.2 .4 -.5 .4 -.5 .3 -.5 .4 -.5 .7 -.9 .4 -.5 .4 -.5 .4 -.5 .4 -.5 .1 -.3 .4 -.5 .4 -.5 .4 -.5 .4 -.5 .9 .3 .4 -.5 .4 -.5 .3 -.5 .4 -.4 0 -1 .4 -.5 .3 -.5 .4 -.5 .4 -.4 1 -.1 .4 -.5 .4 -.5 .4 -.5 .4 -.4 -.1 -1.1 .4 -.5 .4 -.4 .3 -.5 .4 -.5 .2 -.5 .4 -.5 .4 -.5 .4 -.5 .3 -.4 .9 0 .4 -.4 .4 -.5 .4 -.5 .3 -.4 .4 -.6 .3 -.4 .4 -.5 .4 -.5 .4 -.4 -.4 -1.2 .4 -.5 .4 -.4 .4 -.5 .3 -.4 .8 .1 .3 -.4 .4 -.5 .4 -.4 .4 -.5 -.1 -1 .4 -.5 .3 -.4 .4 -.5 .4 -.4 1.1 0 .4 -.4 .4 -.5 .3 -.4 .4 -.5 .6 -.4 .4 -.4 .4 -.4 .3 -.5 .4 -.4 0 -.3 .4 -.5 .4 -.4 .4 -.4 .4 -.5 .5 -.2 .4 -.5 .4 -.4 .4 -.4 .4 -.5 -.1 -1.3 .4 -.4 .4 -.4 .4 -.4 .4 -.5 .9 .1 .4 -.4 .4 -.4 .4 -.5 .4 -.4 -.2 -.6 .4 -.4 .4 -.4 .4 -.4 .3 -.5 0 -.4 0 -.4 0 -.4 0 -.4 0 -.5 0 -1 -1.9 -3.7 -.6 .6 -.4 .4 -.4 .5 -.4 .4 -.3 .4 .1 1 -.4 .4 -.4 .4 -.4 .5 -.4 .4 -.5 -.1 -.4 .4 -.4 .5 -.4 .4 -.4 .4 -.8 .1 -.4 .4 -.4 .5 -.3 .4 -.4 .4 .4 1.7 -.4 .4 -.3 .5 -.4 .4 -.4 .5 -.2 .6 -.4 .4 -.3 .5 -.4 .4 -.4 .4 -1.2 -.7 -.4 .4 -.4 .5 -.4 .4 -.4 .5 -.5 .5 -.4 .4 -.3 .5 -.4 .4 -.4 .5 -.3 .6 -.4 .4 -.4 .5 -.4 .5 -.4 .4 -.8 .3 -.4 .4 -.4 .5 -.4 .4 -.3 .5 -.3 .2 -.4 .5 -.4 .4 -.3 .5 -.4 .5 .3 1.1 -.4 .5 -.4 .4 -.4 .5 -.4 .5 -.4 .4 -.4 .5 -.4 .4 -.4 .5 -.4 .5 -.2 .5 -.3 .5 -.4 .5 -.4 .4 -.4 .5 -.6 .2 -.4 .5 -.4 .5 -.3 .5 -.4 .5 .2 1.1 -.4 .5 -.4 .5 -.3 .5 -.4 .5 -1.1 0 -.4 .5 -.4 .5 -.4 .5 -.4 .5 -.6 .4 -.4 .5 -.3 .5 -.4 .5 -.4 .5 -.2 .2 -.4 .5 -.4 .5 -.4 .5 -.4 .5 -.8 -.1 -.3 .5 -.4 .5 -.4 .5 -.4 .5 .8 2 -.4 .5 -.4 .5 -.4 .5 -.3 .5 -1 -.5 -.4 .5 -.4 .5 -.4 .5 -.3 .5 -.2 1.1 -.3 .5 -.4 .5 -.4 .5 -.4 .5 -.8 0 -.4 .5 -.4 .5 -.4 .5 -.4 .5 -.6 .7 -.3 .4 -.4 .5 -.4 .5 -.4 .5 .5 .8 -.3 .5 -.4 .5 -.4 .5 -.4 .5 -1.4 0 -.4 .5 -.3 .5 -.4 .5 -.4 .5 0 .4 -.4 .5 -.4 .5 -.4 .5 -.3 .4 -.7 .3 -.4 .5 -.4 .5 -.3 .5 -.4 .5 -.5 .3 -.3 .5 -.4 .5 -.4 .4 -.4 .5 -.2 .7 -.3 .4 -.4 .5 -.4 .5 -.4 .4 -.2 .6 -.3 .5 -.4 .4 -.4 .5 -.4 .5 -.9 .5 -.4 .4 -.4 .5 -.4 .5 -.3 .4 0 1 -.3 .5 -.4 .4 -.4 .5 -.4 .5 -.6 .3 -.4 .4 -.4 .5 -.4 .5 -.3 .5 -.2 .1 -.4 .4 -.3 .5 -.4 .5 -.4 .5 .5 1.5 -.4 .5 -.4 .5 -.4 .4 -.4 .5 -.9 .1 -.4 .4 -.4 .5 -.4 .5 -.4 .5 -.8 -.3 -.4 .5 -.4 .5 -.4 .5 -.4 .5 .1 1.1 -.4 .5 -.3 .5 -.4 .5 -.4 .5 -.5 .3 -.3 .5 -.4 .6 -.4 .4 -.4 .5 -.4 .5 -.4 .5 -.4 .5 -.3 .5 -.4 .5 -.3 .8 -.4 .5 -.4 .5 -.4 .5 -.3 .6 0 .4 -.4 .6 -.4 .5 -.4 .5 -.4 .5 -1.5 -.1 -.3 .5 -.4 .5 -.4 .5 -.4 .5 0 .6 -.4 .5 -.4 .5 -.3 .5 -.4 .5 -.5 .7 -.3 .5 -.4 .6 -.4 .5 -.4 .5 -.3 .4 -.4 .5 -.4 .5 -.4 .6 -.3 .5 .2 .8 -.4 .5 -.4 .5 -.4 .6 -.4 .5 -.2 .7 -.4 .5 -.4 .5 -.4 .5 -.3 .6 -1.6 -.1 -.3 .5 -.4 .5 -.4 .5 -.4 .6 .5 .9 -.4 .5 -.4 .5 -.4 .6 -.4 .5 -.7 .6 -.4 .5 -.4 .5 -.4 .6 -.4 .5 -.1 .8 -.3 .6 -.4 .5 -.4 .5 -.4 .6 -.8 .1 -.3 .5 -.4 .5 -.4 .6 -.4 .5 -.1 1.1 -.3 .6 -.4 .5 -.4 .5 -.4 .6 -.4 -.2 -.4 .5 -.4 .6 -.4 .5 -.4 .6 -.1 .6 -.4 .6 -.4 .5 -.4 .5 -.4 .6 -.9 .6 -.4 .6 -.4 .5 -.4 .5 -.3 .6 -.1 .2 -.4 .6 -.4 .5 -.4 .5 -.3 .6 .1 .8 -.4 .6 -.4 .5 -.4 .5 -.4 .5 -1.3 -.3 -.4 .5 -.4 .5 -.3 .5 -.4 .5 .3 1.3 -.4 .5 -.4 .5 -.4 .5 -.4 .5 -.7 .3 -.4 .6 -.4 .5 -.4 .5 -.4 .5 -.3 .2 -.4 .5 -.4 .5 -.4 .4 -.4 .5 -.5 .7 -.4 .5 -.4 .5 -.4 .5 -.4 .4 0 .4 -.4 .5 -.3 .5 -.4 .4 -.4 .5 -.7 .1 -.4 .5 -.3 .4 -.4 .5 -.4 .4 -.1 .5 -.4 .5 -.4 .4 -.3 .5 -.4 .4 -.7 .9 -.4 .4 -.4 .5 -.3 .4 -.4 .5 .2 .3 -.4 .4 -.4 .5 -.4 .4 -.4 .4 -.6 .6 -.4 .4 -.4 .5 -.4 .4 -.3 .4 -.4 .5 -.4 .4 -.4 .4 -.4 .4 -.4 .5 -.5 .4 -.3 .5 -.4 .4 -.4 .4 -.4 .4 -.1 .5 -.4 .4 -.4 .5 -.3 .4 -.4 .4 -.6 .1 -.4 .4 -.4 .4 -.4 .4 -.3 .4 -.4 .2 -.4 .4 -.3 .4 -.4 .4 -.4 .4 -.4 1 -.4 .4 -.4 .4 -.3 .4 -.4 .4 -.5 .3 -.4 .4 -.4 .4 -.3 .5 -.4 .4 -.5 -.2 -.3 .4 -.4 .4 -.4 .4 -.4 .4 -.2 .3 -.4 .4 -.4 .4 -.4 .4 -.4 .4 -.1 1 -.3 .4 -.4 .4 -.4 .4 -.4 .4 -.9 -.3 -.4 .4 -.4 .4 -.4 .4 -.4 .4 .3 1.3 -.4 .4 -.4 .4 -.3 .4 -.4 .4 -.3 .4 -.4 .4 -.4 .4 -.3 .4 -.4 .4 -.9 -.1 -.4 .4 -.4 .4 -.4 .4 -.3 .4 -.4 .5 -.4 .4 -.4 .4 -.3 .4 -.4 .3 -.8 -.1 -.4 .4 -.4 .3 -.3 .4 -.4 .4 -.4 .1 -.4 .3 -.4 .4 -.4 .4 -.4 .3 .1 1.2 -.4 .4 -.4 .4 -.4 .3 -.3 .4 -.7 .5 -.3 .4 -.4 .3 -.4 .4 -.4 .4 0 .4 -.4 .4 -.4 .3 -.4 .4 -.3 .3 -.2 1.1 -.4 .3 -.4 .4 -.3 .3 -.4 .4 -.5 -.6 -.4 .4 -.4 .3 -.3 .4 -.4 .3 -.6 .3 -.4 .4 -.4 .3 -.3 .3 -.4 .4 -.4 .6 -.4 .3 -.3 .4 -.4 .3 -.4 .3 -.4 .2 -.4 .3 -.4 .3 -.3 .3 -.4 .3 0 .2 -.4 .4 -.4 .3 -.3 .3 -.4 .3 -.3 .6 -.4 .3 -.4 .3 -.4 .3 -.4 .3 -.9 -.4 -.4 .3 -.3 .3 -.4 .3 -.4 .3 0 1 -.4 .3 -.4 .3 -.3 .3 -.4 .3 -1.2 -.7 -.3 .3 -.4 .3 -.4 .3 -.4 .3 -.1 .7 -.4 .2 -.4 .3 -.3 .3 -.4 .3 -.3 .1 -.4 .2 -.3 .3 -.4 .3 -.4 .3 -.5 .5 -.4 .3 -.4 .3 -.4 .2 -.3 .3 .2 1 -.4 .3 -.3 .2 -.4 .3 -.4 .3 -.5 -.2 -.4 .2 -.4 .3 -.3 .2 -.4 .3 -.6 -.1 -.4 .3 -.4 .2 -.4 .3 -.3 .2 -.3 .1 -.4 .3 -.4 .2 -.4 .3 -.3 .2 -.3 .3 -.4 .3 -.4 .2 -.4 .2 -.3 .3 -.3 .9 -.3 .3 -.4 .2 -.4 .2 -.4 .3 -.7 -.7 -.4 .2 -.4 .2 -.3 .2 -.4 .3 -.5 .2 -.4 .2 -.3 .2 -.4 .2 -.4 .2 0 1 -.3 .2 -.4 .2 -.4 .2 -.4 .3 -.5 -.1 -.4 .2 -.3 .2 -.4 .2 -.4 .2 -.3 .5 -.4 .2 -.3 .2 -.4 .2 -.4 .2 -.4 -.1 -.4 .2 -.3 .1 -.4 .2 -.4 .2 -.2 .5 -.3 .2 -.4 .1 -.4 .2 -.4 .2 -.4 -.1 -.4 .2 -.4 .1 -.3 .2 -.4 .2 -.6 -.1 -.4 .2 -.4 .1 -.4 .2 -.3 .1 -.2 .5 -.4 .1 -.4 .2 -.3 .1 -.4 .2 -.3 .3 -.4 .1 -.3 .2 -.4 .1 -.4 .1 -.4 .4 -.4 .2 -.3 .1 -.4 .1 -.4 .2 -.2 .4 -.3 .1 -.4 .2 -.4 .1 -.4 .1 -.6 -.7 -.4 .1 -.3 .1 -.4 .2 -.4 .1 -.4 .1 -.4 .1 -.3 .1 -.4 .1 -.4 .1 -.2 .6 -.4 .1 -.4 .1 -.3 .1 -.4 .1 -.4 -.4 -.4 .1 -.3 .1 -.4 .1 -.4 .1 -.4 .4 -.3 .1 -.4 0 -.4 .1 -.3 .1 -.3 -.1 -.4 .1 -.4 .1 -.4 .1 -.3 0 -.5 .2 -.4 .1 -.3 .1 -.4 0 -.4 .1 -.3 .2 -.4 .1 -.3 0 -.4 .1 -.4 .1 -.3 .3 -.4 .1 -.4 .1 -.3 0 -.4 .1 -.5 -.7 -.3 .1 -.4 0 -.4 .1 -.3 0 -.3 .9 -.4 .1 -.4 0 -.3 .1 -.4 0 -.5 -.9 -.3 .1 -.4 0 -.4 .1 -.3 0 -.4 .4 -.4 .1 -.3 0 -.4 0 -.4 .1 -.3 .3 -.4 0 -.3 .1 -.4 0 -.4 0 -.3 .3 -.4 0 -.3 .1 -.4 0 -.4 0 -.4 -1 -.4 0 -.3 0 -.4 .1 -.4 0 -.3 -.1 -.4 0 -.4 0 -.3 0 -.4 0 -.4 .7 -.3 0 -.4 0 -.4 0 -.3 0 -.4 -.1 -.4 0 -.3 -.1 -.4 0 -.4 0 -.3 .2 -.4 0 -.4 0 -.3 0 -.4 0 -.4 -.5 -.3 0 -.4 0 -.4 0 -.3 0 -.5 1 -.3 0 -.4 0 -.4 -.1 -.3 0 -.3 -.7 -.4 -.1 -.4 0 -.3 0 -.4 -.1 -.4 0 -.4 -.1 -.3 0 -.4 -.1 -.4 0 -.3 -.2 -.4 -.1 -.3 0 -.4 -.1 -.4 0 -.4 .5 -.4 -.1 -.3 0 -.4 -.1 -.4 -.1 -.3 -.5 -.4 -.1 -.4 0 -.4 -.1 -.3 0 -.4 -.1 -.4 -.1 -.3 0 -.4 -.1 -.4 -.1 -.4 0 -.3 -.1 -.4 0 -.4 -.1 -.3 -.1 -.6 .8 -.3 0 -.4 -.1 -.4 -.1 -.4 -.1 -.1 -1.2 -.3 -.1 -.4 -.1 -.4 -.1 -.3 -.1 -.5 -.3 -.4 -.1 -.3 -.1 -.4 -.1 -.4 -.1 -.4 .5 -.4 -.1 -.4 -.1 -.3 -.1 -.4 -.1 -.3 -.4 -.4 -.1 -.3 -.1 -.4 -.1 -.4 -.1 -.3 -.4 -.3 -.1 -.4 -.1 -.4 -.1 -.3 -.1 -.5 .6 -.4 -.1 -.4 -.1 -.3 -.1 -.4 -.2 -.3 -.3 -.4 -.1 -.3 -.2 -.4 -.1 -.4 -.1 -.4 -.2 -.4 -.2 -.3 -.1 -.4 -.1 -.3 -.2 -.5 0 -.3 -.2 -.4 -.1 -.4 -.2 -.3 -.1 -.3 -.7 -.3 -.2 -.4 -.1 -.4 -.2 -.3 -.2 -.6 0 -.3 -.1 -.4 -.2 -.4 -.2 -.3 -.1 -.8 1 -.3 -.2 -.4 -.2 -.4 -.2 -.4 -.1 .3 -1.4 -.4 -.2 -.3 -.2 -.4 -.2 -.4 -.2 -1 1.1 -.4 -.2 -.4 -.3 -.3 -.2 -.4 -.2 .1 -1.1 -.4 -.2 -.4 -.2 -.3 -.2 -.4 -.2 -.3 -.2 -.3 -.2 -.4 -.2 -.4 -.3 -.4 -.2 -.7 -.2 -.3 -.3 -.4 -.2 -.4 -.3 -.4 -.2 -.1 -.5 -.3 -.3 -.4 -.2 -.4 -.3 -.4 -.2 -.4 -.1 -.4 -.2 -.4 -.3 -.3 -.2 -.4 -.3 -.2 -.7 -.3 -.3 -.4 -.2 -.4 -.3 -.4 -.3 -.1 -.5 -.3 -.2 -.4 -.3 -.4 -.3 -.4 -.3 -.7 .1 -.3 -.3 -.4 -.3 -.4 -.3 -.4 -.3 -.5 0 -.3 -.3 -.4 -.3 -.4 -.2 -.4 -.3 -.6 -.3 -.4 -.3 -.4 -.3 -.3 -.3 -.4 -.3 -.1 -.6 -.4 -.3 -.3 -.3 -.4 -.4 -.4 -.3 -.3 .2 -.4 -.3 -.4 -.3 -.4 -.4 -.3 -.3 -.8 .1 -.4 -.4 -.4 -.3 -.3 -.3 -.4 -.4 -.7 -.4 -.3 -.4 -.4 -.3 -.4 -.3 -.4 -.4 .1 -.4 -.3 -.4 -.4 -.3 -.4 -.4 -.4 -.3 -.1 -1.3 -.4 -.4 -.4 -.3 -.4 -.4 -.4 -.3 -.6 .5 -.3 -.3 -.4 -.4 -.4 -.3 -.4 -.4 -.4 -.7 -.4 -.3 -.4 -.4 -.4 -.4 -.4 -.3 -.9 .4 -.4 -.4 -.3 -.3 -.4 -.4 -.4 -.4 -.1 -.8 -.4 -.4 -.4 -.4 -.3 -.4 -.4 -.3 -.1 -.7 -.4 -.4 -.4 -.3 -.4 -.4 -.3 -.4 0 -.5 -.4 -.3 -.4 -.4 -.3 -.4 -.4 -.4 -.8 0 -.4 -.4 -.3 -.4 -.4 -.3 -.4 -.4 -.3 -.6 -.4 -.4 -.3 -.4 -.4 -.4 -.4 -.4 -.5 -.6 -.4 -.4 -.4 -.4 -.3 -.4 -.4 -.4 0 -.8 -.4 -.4 -.3 -.4 -.4 -.4 -.4 -.4 -1.1 .7 -.4 -.4 -.4 -.4 -.4 -.4 -.4 -.4 .2 -1.1 -.4 -.4 -.4 -.4 -.4 -.4 -.4 -.5 -1 0 -.4 -.5 -.4 -.4 -.4 -.4 -.4 -.5 .7 -1.3 -.4 -.4 -.3 -.5 -.4 -.4 -.4 -.4 -1.1 0 -.4 -.4 -.4 -.5 -.3 -.4 -.4 -.5 -.7 0 -.4 -.5 -.4 -.4 -.3 -.4 -.4 -.5 -.3 -.4 -.4 -.5 -.4 -.4 -.3 -.5 -.4 -.4 .3 -.9 -.4 -.5 -.4 -.4 -.4 -.5 -.3 -.4 -1.1 -.1 -.4 -.5 -.3 -.4 -.4 -.5 -.4 -.5 .1 -1 -.4 -.5 -.4 -.5 -.4 -.4 -.4 -.5 -.3 -.4 -.4 -.5 -.4 -.4 -.3 -.5 -.4 -.5 -.8 0 -.4 -.5 -.3 -.5 -.4 -.5 -.4 -.5 .1 -1 -.4 -.5 -.4 -.5 -.3 -.5 -.4 -.4 -.5 -.5 -.4 -.5 -.4 -.5 -.3 -.5 -.4 -.5 -.4 -.4 -.4 -.5 -.4 -.5 -.4 -.5 -.3 -.4 -.2 -.9 -.4 -.5 -.4 -.5 -.3 -.5 -.4 -.5 -1 -.1 -.3 -.5 -.4 -.5 -.4 -.5 -.4 -.5 -.2 -.4 -.4 -.5 -.4 -.5 -.4 -.5 -.3 -.5 -.9 0 -.4 -.5 -.3 -.6 -.4 -.5 -.4 -.5 .3 -.9 -.3 -.5 -.4 -.5 -.4 -.5 -.4 -.5 -1.3 -.4 -.4 -.5 -.4 -.6 -.4 -.5 -.3 -.5 1 -1.8 -.4 -.5 -.3 -.5 -.4 -.5 -.4 -.5 -.8 .3 -.4 -.5 -.3 -.5 -.4 -.5 -.4 -.6 -.9 0 -.4 -.5 -.4 -.6 -.3 -.5 -.4 -.5 -.3 -.6 -.4 -.6 -.3 -.5 -.4 -.5 -.4 -.5 -.6 -.8 -.4 -.5 -.4 -.5 -.4 -.6 -.4 -.5 -.3 -.4 -.4 -.6 -.4 -.5 -.4 -.5 -.4 -.6 .5 -1.3 -.4 -.6 -.4 -.5 -.4 -.6 -.4 -.5 -.9 .1 -.4 -.5 -.4 -.6 -.4 -.5 -.4 -.6 -.2 -.8 -.3 -.5 -.4 -.6 -.4 -.5 -.4 -.6 -.7 -.7 -.4 -.5 -.4 -.6 -.3 -.6 -.4 -.5 0 -.3 -.4 -.6 -.4 -.5 -.3 -.6 -.4 -.6 -1 -.6 -.3 -.5 -.4 -.6 -.4 -.6 -.4 -.5 -.2 -.6 -.4 -.6 -.4 -.5 -.4 -.6 -.3 -.6 0 -.7 -.4 -.6 -.4 -.5 -.4 -.6 -.3 -.6 -.7 -.8 -.4 -.5 -.3 -.6 -.4 -.6 -.4 -.6 -1 .2 -.4 -.6 -.4 -.6 -.4 -.6 -.4 -.6 .7 -1.5 -.4 -.6 -.4 -.6 -.4 -.6 -.3 -.6 -.8 -.4 -.3 -.6 -.4 -.6 -.4 -.6 -.4 -.6 -.4 -.6 -.4 -.6 -.4 -.6 -.3 -.6 -.4 -.6 -.5 -.2 -.4 -.6 -.4 -.6 -.3 -.6 -.4 -.6 -.8 -.7 -.4 -.6 -.3 -.6 -.4 -.6 -.4 -.6 .1 -.4 -.4 -.6 -.3 -.6 -.4 -.6 -.4 -.6 -1.2 -.5 -.3 -.6 -.4 -.6 -.4 -.6 -.4 -.6 .4 -1.5 -.4 -.6 -.4 -.6 -.4 -.6 -.4 -.6 0 -.3 -.4 -.6 -.4 -.6 -.3 -.6 -.4 -.6 .1 -1.6 -.4 -.6 -.4 -.6 -.3 -.6 -.4 -.7 -1.4 .3 -.4 -.6 -.4 -.6 -.4 -.6 -.4 -.7 0 -.3 -.4 -.7 -.4 -.6 -.4 -.6 -.3 -.7 -.4 -1.1 -.4 -.6 -.4 -.7 -.4 -.6 -.4 -.6 -.6 -.6 -.4 -.6 -.3 -.6 -.4 -.7 -.4 -.6 -.7 -.4 -.4 -.7 -.4 -.6 -.4 -.7 -.4 -.6 .3 -1 -.4 -.6 -.4 -.7 -.3 -.6 -.4 -.7 -.9 -.6 -.3 -.7 -.4 -.6 -.4 -.7 -.4 -.6 -.5 -.6 -.4 -.6 -.4 -.7 -.4 -.6 -.3 -.7 -.4 -.5 -.4 -.7 -.4 -.6 -.3 -.7 -.4 -.7 -.1 -.5 -.4 -.7 -.4 -.6 -.3 -.7 -.4 -.6 -.5 -.7 -.4 -.7 -.3 -.7 -.4 -.6 -.4 -.7 -.3 -1.1 -.4 -.7 -.4 -.6 -.4 -.7 -.4 -.7 0 -.3 -.4 -.7 -.3 -.7 -.4 -.6 -.4 -.7 -.7 -.4 -.3 -.7 -.4 -.7 -.4 -.6 -.4 -.7 -.2 -1 -.4 -.6 -.3 -.7 -.4 -.7 -.4 -.7 -.9 -.1 -.4 -.7 -.4 -.7 -.4 -.6 -.3 -.7 -.8 -1.1 -.4 -.7 -.4 -.6 -.3 -.7 -.4 -.7 .5 -1.1 -.4 -.7 -.4 -.7 -.4 -.6 -.3 -.7 -.5 -.2 -.4 -.6 -.4 -.7 -.4 -.6 -.4 -.7 -1 -.5 -.4 -.7 -.3 -.7 -.4 -.6 -.4 -.7 0 -.8 -.4 -.6 -.4 -.7 -.4 -.7 -.4 -.6 -.6 -.3 -.4 -.6 -.4 -.7 -.4 -.6 -.3 -.6 0 -1.3 -.3 -.6 -.4 -.7 -.4 -.6 -.4 -.7 -.3 -.3 -.4 -.6 -.4 -.6 -.3 -.6 -.4 -.7 -.2 -1.1 -.4 -.7 -.4 -.6 -.4 -.6 -.3 -.7 -.9 -.4 -.4 -.6 -.4 -.6 -.4 -.7 -.3 -.6 -.5 -.2 -.4 -.6 -.4 -.6 -.3 -.6 -.4 -.6 -.6 -.4 -.4 -.6 -.4 -.6 -.4 -.6 -.4 -.6 .1 -1.1 -.4 -.6 -.4 -.6 -.4 -.6 -.3 -.6 -.2 -.7 -.4 -.6 -.4 -.6 -.4 -.6 -.4 -.6 -.6 -.3 -.4 -.6 -.4 -.6 -.4 -.6 -.4 -.5 .1 -.7 -.3 -.6 -.4 -.6 -.4 -.6 -.4 -.6 -.4 -.9 -.4 -.6 -.4 -.6 -.4 -.6 -.4 -.7 -.9 -.3 -.4 -.6 -.3 -.6 -.4 -.6 -.4 -.6 .3 -.7 -.4 -.6 -.4 -.6 -.4 -.6 -.4 -.7 -1 -.6 -.4 -.6 -.3 -.6 -.4 -.6 -.4 -.7 -.2 -.9 -.4 -.6 -.4 -.7 -.3 -.6 -.4 -.6 -.7 -.1 -.3 -.6 -.4 -.7 -.4 -.6 -.4 -.7 .6 -1.4 -.4 -.6 -.4 -.6 -.4 -.7 -.4 -.6 -.2 -.8 -.4 -.6 -.4 -.7 -.3 -.6 -.4 -.7 -1.1 .1 -.4 -.7 -.3 -.6 -.4 -.7 -.4 -.6 -.2 -.7 -.3 -.6 -.4 -.7 -.4 -.6 -.4 -.7 -.9 -.7 -.4 -.6 -.3 -.7 -.4 -.6 -.4 -.7 .1 -.8 -.4 -.7 -.3 -.6 -.4 -.7 -.4 -.6 -1.4 -.2 -.4 -.7 -.4 -.6 -.3 -.6 -.4 -.7 .4 -1 -.3 -.7 -.4 -.6 -.4 -.6 -.4 -.7 -.4 -.4 -.4 -.6 -.4 -.7 -.4 -.6 -.4 -.6 -1 -.5 -.4 -.6 -.4 -.6 -.3 -.7 -.4 -.6 -.1 -1.1 -.4 -.6 -.4 -.6 -.3 -.7 -.4 -.6 -.3 -.1 -.4 -.6 -.4 -.6 -.4 -.6 -.4 -.6 -.6 -.9 -.4 -.6 -.3 -.6 -.4 -.6 -.4 -.6 -.1 -.7 -.4 -.6 -.4 -.6 -.3 -.6 -.4 -.6 -.2 -.6 -.4 -.6 -.4 -.6 -.4 -.6 -.4 -.6 -1.2 .2 -.4 -.6 -.4 -.6 -.3 -.5 -.4 -.6 .1 -1 -.4 -.5 -.4 -.6 -.3 -.6 -.4 -.6 -.7 -.6 -.4 -.6 -.4 -.5 -.4 -.6 -.4 -.6 .7 -1.3 -.4 -.6 -.4 -.5 -.4 -.6 -.4 -.6 -1.1 0 -.4 -.6 -.4 -.6 -.4 -.5 -.4 -.6 -.4 -.6 -.4 -.6 -.4 -.5 -.3 -.6 -.4 -.5 -.4 -.4 -.4 -.6 -.4 -.5 -.4 -.6 -.4 -.5 -.5 -.6 -.4 -.6 -.3 -.5 -.4 -.6 -.4 -.5 .3 -.7 -.4 -.5 -.4 -.6 -.4 -.5 -.3 -.5 -.7 -.6 -.3 -.5 -.4 -.6 -.4 -.5 -.4 -.5 -.2 -1.1 -.4 -.5 -.3 -.6 -.4 -.5 -.4 -.5 -.6 .3 -.4 -.5 -.4 -.5 -.3 -.5 -.4 -.6 -.4 -.8 -.4 -.5 -.4 -.5 -.4 -.5 -.3 -.5 -.2 -.8 -.4 -.5 -.4 -.6 -.4 -.5 -.3 -.5 -.6 .1 -.4 -.5 -.4 -.5 -.3 -.5 -.4 -.5 -.6 -.8 -.4 -.5 -.3 -.5 -.4 -.5 -.4 -.5 -.7 .2 -.4 -.5 -.4 -.5 -.3 -.4 -.4 -.5 -.1 -1.2 -.3 -.5 -.4 -.5 -.4 -.5 -.4 -.5 -.3 -.3 -.3 -.5 -.4 -.5 -.4 -.5 -.4 -.5 -.7 -.4 -.3 -.5 -.4 -.5 -.4 -.4 -.4 -.5 .2 -1.4 -.4 -.4 -.4 -.5 -.4 -.5 -.3 -.5 -.6 -.2 -.4 -.5 -.4 -.5 -.4 -.5 -.4 -.4 -.1 0 -.4 -.5 -.3 -.5 -.4 -.4 -.4 -.5 -.3 -.9 -.4 -.5 -.4 -.4 -.3 -.5 -.4 -.4 -1.2 .3 -.4 -.4 -.4 -.5 -.4 -.5 -.4 -.4 -.6 -.1 -.3 -.4 -.4 -.5 -.4 -.4 -.4 -.5 -.3 -.4 -.4 -.5 -.4 -.4 -.4 -.5 -.3 -.4 .1 -1.3 -.4 -.4 -.4 -.4 -.3 -.5 -.4 -.4 0 -.9 -.4 -.4 -.4 -.4 -.4 -.5 -.4 -.4 -.6 -.3 -.4 -.4 -.4 -.4 -.4 -.5 -.4 -.4 -.4 -.2 -.4 -.4 -.4 -.4 -.4 -.4 -.4 -.4 -.2 -.6 -.4 -.4 -.3 -.4 -.4 -.5 -.4 -.4 -.4 -.5 -.4 -.4 -.4 -.4 -.4 -.4 -.4 -.4 -.7 .2 -.4 -.4 -.4 -.4 -.4 -.4 -.4 -.4 .3 -1 -.4 -.4 -.4 -.4 -.3 -.4 -.4 -.4 -.7 -.2 -.4 -.3 -.4 -.4 -.4 -.4 -.4 -.4 -.5 -.1 -.4 -.4 -.4 -.4 -.4 -.3 -.4 -.4 -.9 -.2 -.4 -.3 -.4 -.4 -.3 -.4 -.4 -.3 -.3 -.3 -.4 -.4 -.4 -.4 -.4 -.3 -.4 -.4 .3 -1.1 -.4 -.3 -.4 -.4 -.4 -.3 -.4 -.4 -.8 .4 -.4 -.3 -.4 -.4 -.4 -.3 -.4 -.4 .7 -1.5 -.4 -.4 -.4 -.3 -.4 -.3 -.3 -.4 -.9 -.2 -.4 -.4 -.4 -.3 -.3 -.3 -.4 -.3 -.8 .4 -.4 -.3 -.4 -.3 -.4 -.3 -.4 -.4 .1 -.7 -.4 -.4 -.4 -.3 -.4 -.3 -.3 -.3 -.7 .1 -.4 -.3 -.3 -.3 -.4 -.3 -.4 -.3 -.9 -.2 -.4 -.3 -.4 -.3 -.3 -.3 -.4 -.3 -.1 -.7 -.3 -.3 -.4 -.3 -.4 -.3 -.4 -.2 -.8 .3 -.4 -.2 -.4 -.3 -.3 -.3 -.4 -.3 .1 -.7 -.4 -.3 -.3 -.3 -.4 -.2 -.4 -.3 -.6 -.2 -.4 -.2 -.4 -.3 -.4 -.2 -.3 -.3 -.3 -.5 -.4 -.2 -.4 -.3 -.4 -.2 -.4 -.3 -.7 .5 -.4 -.3 -.4 -.2 -.4 -.2 -.4 -.3 -.3 -.5 -.4 -.3 -.4 -.2 -.4 -.2 -.4 -.2 .1 -1.2 -.4 -.2 -.4 -.3 -.4 -.2 -.4 -.2 -.7 .6 -.4 -.2 -.4 -.3 -.4 -.2 -.4 -.2 -.3 -.2 -.4 -.2 -.4 -.2 -.4 -.2 -.4 -.2 -.3 -.5 -.4 -.2 -.4 -.2 -.4 -.2 -.4 -.2 -.6 .5 -.3 -.2 -.4 -.2 -.4 -.2 -.4 -.2 -.2 -.9 -.4 -.1 -.4 -.2 -.4 -.2 -.4 -.2 -.5 0 -.4 -.2 -.4 -.1 -.3 -.2 -.4 -.2 -.5 .2 -.4 -.1 -.4 -.2 -.4 -.2 -.4 -.1 -.2 -.8 -.4 -.1 -.4 -.2 -.4 -.1 -.4 -.2 -.4 -.2 -.4 -.2 -.4 -.1 -.4 -.1 -.4 -.2 -.5 .6 -.4 -.1 -.4 -.2 -.4 -.1 -.4 -.1 -.3 -.4 -.4 -.2 -.4 -.1 -.4 -.1 -.4 -.1 -.4 -.3 -.4 -.1 -.4 -.1 -.4 -.1 -.4 -.1 -.4 .3 -.4 -.1 -.4 -.1 -.4 -.1 -.4 -.1 -.6 .9 -.4 -.1 -.4 -.1 -.4 -.1 -.4 -.1 -.3 -.9 -.4 -.1 -.3 -.1 -.4 0 -.4 -.1 -.4 -.4 -.4 -.1 -.4 -.1 -.4 0 -.4 -.1 -.3 -.2 -.4 -.1 -.4 0 -.4 -.1 -.4 -.1 -.5 -.2 -.4 0 -.4 -.1 -.4 0 -.4 -.1 -.4 .2 -.4 -.1 -.4 0 -.4 -.1 -.4 0 -.4 .4 -.4 -.1 -.4 0 -.4 0 -.4 0 -.4 -1.1 -.4 0 -.4 0 -.4 0 -.4 -.1 -.4 .1 -.4 0 -.4 0 -.4 0 -.4 0 -.4 0 -.4 0 -.4 0 -.4 0 -.4 0 -.4 .4 -.4 0 -.4 0 -.4 .1 -.4 0 -.4 -.1 -.4 0 -.4 0 -.4 0 -.4 0 -.4 -.2 -.4 0 -.4 0 -.4 0 -.4 .1 -.4 .1 -.4 .1 -.4 0 -.4 0 -.4 .1 -.4 0 -.4 .1 -.4 0 -.4 .1 -.4 0 -.4 0 -.4 0 -.4 .1 -.4 0 -.4 .1 -.4 .7 -.4 .1 -.4 0 -.4 .1 -.3 .1 -.5 -.4 -.4 .1 -.4 0 -.4 .1 -.4 .1 -.5 -.3 -.3 0 -.4 .1 -.4 .1 -.5 .1 -.2 1.3 -.4 .1 -.4 .1 -.4 .1 -.4 .1 -.6 -.9 -.4 .1 -.4 .1 -.4 .1 -.4 .1 -.3 .9 -.4 .1 -.4 .2 -.4 .1 -.4 .1 -.4 -.4 -.4 .1 -.3 .1 -.4 .2 -.4 .1 -.3 .9 -.4 .1 -.4 .2 -.4 .1 -.4 .1 -.5 -.2 -.4 .2 -.4 .1 -.4 .2 -.4 .1 -.6 -.4 -.3 .2 -.4 .1 -.4 .2 -.4 .1 -.2 1.2 -.4 .2 -.4 .1 -.4 .2 -.4 .2 -.1 .7 -.4 .1 -.4 .2 -.4 .2 -.4 .2 -1 -1.4 -.4 .2 -.4 .2 -.4 .2 -.4 .2 -.2 .8 -.4 .2 -.4 .2 -.4 .2 -.4 .2 -.3 .4 -.4 .2 -.4 .3 -.4 .2 -.4 .2 -.7 -.6 -.4 .3 -.4 .2 -.4 .3 -.4 .2 0 1.2 -.4 .2 -.4 .3 -.4 .3 -.4 .2 -.4 .2 -.3 .2 -.4 .3 -.4 .2 -.4 .3 -.3 .3 -.4 .3 -.4 .3 -.4 .2 -.4 .3 -.7 -.4 -.4 .3 -.4 .3 -.4 .3 -.4 .3 0 1.1 -.4 .3 -.3 .3 -.4 .3 -.4 .3 -.5 .1 -.3 .3 -.4 .3 -.4 .4 -.4 .3 -.8 -.3 -.4 .3 -.4 .4 -.4 .3 -.4 .3 -.2 .7 -.4 .3 -.4 .4 -.4 .3 -.3 .3 -.2 .3 -.4 .3 -.4 .4 -.4 .3 -.4 .4 -.8 0 -.3 .3 -.4 .4 -.4 .4 -.4 .3 .1 .7 -.4 .4 -.4 .4 -.4 .3 -.4 .4 -.6 .5 -.4 .4 -.4 .4 -.4 .4 -.3 .4 -.5 .5 -.4 .4 -.4 .4 -.4 .4 -.3 .4 -.4 -.5 -.4 .4 -.4 .4 -.3 .4 -.4 .4 -.1 1.3 -.4 .4 -.3 .4 -.4 .4 -.4 .4 -.9 -.2 -.4 .4 -.4 .5 -.4 .4 -.4 .4 -.3 .7 -.4 .4 -.4 .4 -.3 .4 -.4 .5 -.7 .2 -.4 .4 -.4 .5 -.4 .4 -.4 .4 .2 1.3 -.4 .4 -.4 .5 -.4 .4 -.3 .5 -.2 .2 -.4 .4 -.4 .5 -.3 .5 -.4 .4 -1 .1 -.3 .5 -.4 .4 -.4 .5 -.4 .5 .1 .8 -.4 .5 -.4 .5 -.4 .4 -.3 .5 -.8 -.1 -.4 .4 -.4 .5 -.4 .5 -.3 .5 -.1 1.3 -.4 .5 -.4 .4 -.4 .5 -.4 .5 -.4 -.3 -.3 .5 -.4 .4 -.4 .5 -.4 .5 -.8 .7 -.4 .5 -.4 .5 -.4 .5 -.3 .5 -.1 .5 -.4 .5 -.4 .5 -.4 .5 -.4 .6 -.3 .6 -.4 .5 -.3 .5 -.4 .5 -.4 .5 -1 .2 -.4 .5 -.4 .6 -.4 .5 -.3 .5 -.5 .8 -.4 .5 -.3 .6 -.4 .5 -.4 .5 -.2 .8 -.3 .5 -.4 .6 -.4 .5 -.4 .6 .4 .9 -.4 .6 -.4 .5 -.4 .6 -.3 .6 -.4 1 -.4 .6 -.3 .6 -.4 .5 -.4 .6 -.9 -.5 -.4 .6 -.4 .6 -.4 .6 -.4 .5 -.6 .8 -.4 .6 -.4 .6 -.4 .6 -.4 .5 -.2 .5 -.4 .6 -.4 .6 -.4 .6 -.3 .6 .3 1 -.4 .6 -.4 .5 -.4 .6 -.4 .6 -.5 .9 -.4 .6 -.4 .6 -.3 .6 -.4 .6 -.7 .1 -.4 .6 -.4 .6 -.4 .6 -.4 .6 -.6 .4 -.4 .6 -.3 .6 -.4 .6 -.4 .7 .3 1.3 -.4 .6 -.4 .6 -.3 .6 -.4 .6 -.9 .4 -.4 .6 -.4 .6 -.3 .7 -.4 .6 -.4 .7 -.4 .6 -.3 .6 -.4 .7 -.4 .6 -.7 .3 -.3 .7 -.4 .6 -.4 .6 -.4 .7 0 .8 -.4 .6 -.4 .7 -.3 .6 -.4 .7 -.3 .7 -.4 .7 -.4 .6 -.4 .7 -.4 .6 .2 .7 -.4 .7 -.4 .6 -.4 .7 -.3 .7 -1.4 .4 -.4 .7 -.4 .7 -.4 .6 -.4 .7 0 .6 -.4 .7 -.3 .6 -.4 .7 -.4 .7 -.1 .7 -.3 .7 -.4 .7 -.4 .6 -.4 .7 -.9 .7 -.4 .6 -.4 .7 -.4 .7 -.3 .7 .2 .9 -.3 .7 -.4 .7 -.4 .7 -.4 .7 -1 .4 -.4 .7 -.4 .7 -.4 .7 -.4 .7 .3 1.2 -.4 .7 -.4 .7 -.4 .7 -.4 .7 -.3 .3 -.4 .7 -.4 .7 -.4 .7 -.3 .7 -.9 .9 -.4 .7 -.4 .7 -.4 .7 -.4 .8 -.7 .4 -.3 .7 -.4 .8 -.4 .7 -.4 .7 .4 .8 -.4 .7 -.3 .8 -.4 .7 -.4 .7 -.5 .9 -.4 .8 -.4 .7 -.4 .8 -.4 .7 -.6 .3 -.4 .8 -.4 .7 -.3 .8 -.4 .7 -.5 1.3 -.4 .7 -.4 .8 -.3 .8 -.4 .7 -.7 .9 -.4 .8 -.4 .8 -.4 .7 -.4 .8 .1 .7 -.4 .7 -.3 .8 -.4 .8 -.4 .7 0 .7 -.4 .7 -.4 .8 -.4 .8 -.4 .8 -1 .5 -.3 .8 -.4 .7 -.4 .8 -.4 .8 .1 1.4 -.4 .7 -.4 .8 -.4 .8 -.4 .8 -.2 .8 -.3 .8 -.4 .7 -.4 .8 -.4 .8 -1 .2 -.4 .8 -.4 .7 -.3 .8 -.4 .8 .3 1.7 -.4 .7 -.3 .8 -.4 .8 -.4 .8 -.7 .5 -.4 .8 -.4 .8 -.3 .8 -.4 .8 -.4 .3 -.4 .8 -.4 .8 -.4 .7 -.3 .8 -.5 1.2 -.4 .8 -.3 .8 -.4 .8 -.4 .8 -.4 .5 -.4 .8 -.4 .8 -.4 .8 -.4 .8 -.2 1 -.4 .8 -.4 .8 -.4 .8 -.4 .8 -.6 .8 -.4 .8 -.3 .8 -.4 .8 -.4 .8 -.4 .6 -.4 .8 -.4 .8 -.3 .8 -.4 .8 -.5 .8 -.4 .8 -.3 .8 -.4 .8 -.4 .8 -.5 .8 -.4 .8 -.3 .8 -.4 .8 -.4 .8 0 1 -.4 .8 -.4 .9 -.4 .8 -.3 .8 -1 .6 -.4 .8 -.4 .8 -.3 .9 -.4 .8 -.8 .7 -.4 .8 -.4 .9 -.4 .8 -.4 .8 1.1 1.4 -.4 .9 -.4 .8 -.4 .8 -.3 .9 -.6 .8 -.4 .8 -.4 .9 -.4 .8 -.4 .9 -.8 .4 -.3 .9 -.4 .8 -.4 .9 -.4 .8 -.3 1 -.4 .8 -.4 .9 -.1 .9 0 .8 0 1.3 0 .9 0 .8 0 .9 0 .9Z" fill="#000000"/>
<path d="M116.3 407.9l.1 0 .4 0 .4 0 .4 0 1.8 -.3 1.5 -2.3 .3 -1.5 .4 -1 .4 -.9 -.2 -1.3 .4 -.9 .4 -1 .3 -.9 .4 -1 .5 -1 .4 -.9 .4 -1 .3 -.9 .4 -.9 .8 -.8 .3 -1 .4 -.9 .4 -1 .4 -.9 .7 -1.3 .3 -.9 .4 -.9 .4 -1 .4 -.9 0 -.6 .4 -.9 .4 -1 .4 -.9 .4 -.9 -.1 -1 .4 -.9 .4 -.9 .4 -1 .4 -.9 1.2 -.9 .4 -.9 .4 -1 .3 -.9 .4 -.9 -.1 -.9 .4 -.9 .3 -.9 .4 -1 .4 -.9 .6 -.9 .3 -.9 .4 -.9 .4 -.9 .4 -1 .1 -1 .4 -.9 .3 -.9 .4 -1 .4 -.9 .1 -.7 .4 -.9 .4 -.9 .3 -1 .4 -.9 .9 -1.4 .3 -.9 .4 -.9 .4 -1 .4 -.9 1.2 -.5 .3 -.9 .4 -.9 .4 -.9 .4 -.9 -.4 -1 .3 -.9 .4 -.9 .4 -.9 .4 -.9 .5 -1.1 .3 -.9 .4 -.9 .4 -.9 .4 -.9 -.4 -1 .3 -.9 .4 -.9 .4 -.9 .4 -.9 1.7 -.6 .4 -.9 .3 -.9 .4 -.9 .4 -.9 -1 -1.4 .4 -.9 .4 -.9 .4 -.9 .4 -.9 .7 -.6 .4 -.9 .3 -.9 .4 -.9 .4 -.9 .7 -.5 .4 -.9 .4 -.8 .4 -.9 .4 -.9 .3 -1 .4 -.8 .3 -.9 .4 -.9 .4 -.9 1.1 -.7 .4 -.9 .4 -.9 .3 -.8 .4 -.9 -.2 -1.2 .4 -.9 .4 -.9 .4 -.8 .4 -.9 .3 -.8 .4 -.9 .3 -.8 .4 -.9 .4 -.8 .4 -1.1 .4 -.8 .4 -.9 .4 -.8 .4 -.9 .6 -.2 .4 -.9 .4 -.8 .4 -.8 .4 -.8 0 -.9 .4 -.8 .4 -.8 .3 -.8 .4 -.8 .4 -1 .3 -.9 .4 -.8 .4 -.8 .4 -.8 1.3 -.2 .4 -.8 .3 -.8 .4 -.8 .4 -.8 -.2 -1 .4 -.8 .4 -.8 .4 -.8 .4 -.7 .9 -.6 .4 -.8 .4 -.8 .3 -.8 .4 -.7 0 -1 .4 -.7 .4 -.8 .4 -.8 .3 -.8 .6 -.7 .4 -.7 .3 -.8 .4 -.8 .4 -.7 .5 -.6 .4 -.8 .3 -.8 .4 -.7 .4 -.8 -.1 -1.1 .3 -.8 .4 -.7 .4 -.8 .4 -.7 .6 -1 .3 -.7 .4 -.8 .4 -.7 .4 -.8 .2 -.7 .4 -.8 .4 -.7 .4 -.8 .3 -.7 .7 -.6 .4 -.7 .3 -.8 .4 -.7 .4 -.8 -.3 -1.3 .4 -.7 .4 -.8 .3 -.7 .4 -.8 1.2 .1 .3 -.8 .4 -.7 .4 -.7 .4 -.8 -.6 -1.3 .4 -.7 .4 -.7 .4 -.8 .3 -.7 1.4 -.5 .4 -.7 .3 -.7 .4 -.7 .4 -.8 .1 -.8 .3 -.7 .4 -.7 .4 -.8 .4 -.7 .6 -.5 .4 -.8 .4 -.7 .4 -.7 .4 -.7 -.1 -.7 .4 -.7 .4 -.7 .4 -.8 .3 -.7 .4 -.9 .3 -.7 .4 -.7 .4 -.7 .4 -.7 .5 -.4 .4 -.7 .4 -.7 .4 -.6 .3 -.7 .9 -.7 .4 -.7 .4 -.7 .4 -.7 .4 -.7 0 -.7 .4 -.7 .4 -.7 .3 -.6 .4 -.7 .7 -.5 .4 -.7 .4 -.7 .4 -.7 .3 -.6 0 -1.6 .4 -.6 .3 -.7 .4 -.7 .4 -.6 .5 -.3 .4 -.7 .3 -.6 .4 -.7 .4 -.6 .8 -.2 .4 -.6 .4 -.7 .4 -.6 .3 -.7 -.1 -1.2 .4 -.6 .4 -.6 .3 -.7 .4 -.6 .7 -.4 .4 -.7 .3 -.6 .4 -.6 .4 -.6 0 -.6 .4 -.6 .4 -.7 .4 -.6 .4 -.6 .3 -.7 .3 -.6 .4 -.6 .4 -.6 .4 -.6 .6 -.3 .4 -.6 .4 -.6 .4 -.6 .4 -.5 .3 -1 .4 -.5 .3 -.6 .4 -.6 .4 -.5 .6 0 .4 -.5 .4 -.6 .3 -.5 .4 -.6 .1 -.7 .4 -.5 .4 -.6 .4 -.5 .3 -.6 .5 -.7 .3 -.5 .4 -.6 .4 -.5 .4 -.5 .7 -.6 .3 -.5 .4 -.6 .4 -.5 .4 -.5 .3 -.3 .3 -.5 .4 -.5 .4 -.5 .4 -.5 .2 -1.1 .4 -.5 .3 -.5 .4 -.5 .4 -.4 .8 .1 .4 -.5 .3 -.4 .4 -.5 .4 -.5 .1 -.2 .4 -.5 .4 -.4 .4 -.5 .4 -.4 .5 -.5 .4 -.5 .4 -.4 .4 -.5 .4 -.4 .1 -.5 .4 -.5 .4 -.4 .4 -.4 .3 -.5 .5 -.4 .4 -.4 .4 -.5 .3 -.4 .4 -.4 .4 -.4 .4 -.4 .4 -.4 .3 -.4 .4 -.4 .7 .1 .4 -.4 .4 -.4 .4 -.4 .3 -.4 .3 -.7 .4 -.4 .4 -.4 .4 -.4 .4 -.4 0 -.7 .4 -.3 .3 -.4 .4 -.4 .4 -.4 .5 -.3 .4 -.4 .3 -.4 .4 -.3 .4 -.4 -.2 -.8 .4 -.4 .4 -.3 .4 -.4 .3 -.3 .8 -.2 .4 -.3 .4 -.4 .3 -.3 .4 -.3 .4 -.7 .4 -.3 .4 -.3 .3 -.4 .4 -.3 .7 .2 .3 -.4 .4 -.3 .4 -.3 .4 -.3 -.2 -.9 .4 -.4 .4 -.3 .4 -.3 .3 -.3 .6 .4 .4 -.3 .3 -.3 .4 -.3 .4 -.3 .4 -.7 .4 -.3 .4 -.2 .4 -.3 .3 -.3 .5 -.2 .3 -.2 .4 -.3 .4 -.3 .4 -.2 .6 .3 .4 -.2 .3 -.3 .4 -.2 .4 -.3 0 -.8 .4 -.3 .3 -.2 .4 -.2 .4 -.3 .6 .7 .3 -.3 .4 -.2 .4 -.2 .3 -.2 .3 -.9 .4 -.2 .4 -.2 .3 -.2 .4 -.2 .3 -.8 .3 -.2 .4 -.2 .4 -.2 .4 -.2 .5 .5 .4 -.2 .3 -.2 .4 -.2 .4 -.2 0 -1 .4 -.2 .4 -.2 .3 -.2 .4 -.1 .7 1 .4 -.2 .3 -.2 .4 -.1 .4 -.2 .4 -.4 .3 -.1 .4 -.2 .4 -.1 .3 -.2 .1 -.7 .4 -.1 .4 -.2 .3 -.1 .4 -.2 .4 0 .4 -.2 .4 -.1 .3 -.1 .4 -.2 .4 .5 .4 -.1 .3 -.2 .4 -.1 .4 -.1 .3 -.6 .4 -.1 .3 -.1 .4 -.1 .4 -.1 .2 -.8 .4 -.1 .4 -.1 .4 -.1 .3 -.1 .4 .5 .4 -.1 .3 -.1 .4 -.1 .4 -.1 .2 -.9 .4 -.1 .4 -.1 .3 0 .4 -.1 .6 1 .4 -.1 .4 0 .4 -.1 .3 -.1 .2 -.8 .4 0 .3 -.1 .4 -.1 .4 0 .5 .2 .3 -.1 .4 0 .3 -.1 .4 -.1 .4 .4 .4 -.1 .3 0 .4 -.1 .4 0 .3 .2 .4 0 .4 0 .3 -.1 .4 0 .2 -1.4 .4 0 .4 0 .3 -.1 .4 0 .5 1.5 .3 0 .4 0 .4 0 .3 -.1 .3 -1.2 .4 0 .3 0 .4 -.1 .4 0 .4 1 .3 0 .4 0 .4 -.1 .3 0 .4 -.6 .3 0 .4 0 .4 0 .3 0 .4 .3 .3 0 .4 0 .4 0 .3 .1 .4 .6 .3 0 .4 0 .4 0 .3 .1 .5 -1 .3 .1 .4 0 .3 0 .4 .1 .2 1.5 .4 0 .4 .1 .3 0 .4 .1 .5 -1.9 .4 .1 .4 0 .4 .1 .3 0 .4 .1 .3 0 .4 .1 .4 0 .3 .1 .3 .7 .4 0 .4 .1 .3 .1 .4 .1 .3 .1 .4 .1 .3 .1 .4 0 .4 .1 .3 .6 .3 .1 .4 .1 .4 .1 .3 0 .6 -.7 .3 .1 .4 .1 .4 .1 .3 .1 .3 .3 .3 .1 .4 .1 .4 .1 .3 .1 .3 .7 .4 .1 .4 .1 .3 .2 .4 .1 .3 .2 .4 .1 .3 .1 .4 .2 .4 .1 .5 -.3 .4 .1 .4 .2 .3 .1 .4 .1 .6 -.7 .4 .2 .4 .1 .3 .2 .4 .1 -.1 1.3 .3 .1 .4 .2 .4 .1 .3 .2 .6 -.1 .3 .2 .4 .1 .4 .2 .3 .2 .6 -.2 .4 .2 .3 .1 .4 .2 .4 .2 .3 -.1 .4 .2 .4 .2 .3 .1 .4 .2 .3 .6 .4 .2 .4 .2 .4 .2 .3 .2 .7 -.5 .4 .2 .3 .2 .4 .2 .4 .2 .3 .6 .3 .3 .4 .2 .4 .2 .4 .2 .2 .5 .4 .2 .3 .3 .4 .2 .4 .2 -.3 1.1 .3 .3 .4 .2 .4 .2 .4 .3 1 -.5 .4 .2 .4 .3 .4 .2 .3 .3 .2 .3 .3 .3 .4 .2 .4 .3 .4 .3 .6 -.1 .4 .3 .4 .3 .3 .2 .4 .3 .5 .4 .4 .3 .4 .3 .4 .3 .3 .3 -.1 .7 .4 .3 .3 .3 .4 .3 .4 .3 .5 .2 .3 .3 .4 .3 .4 .3 .4 .3 .6 .1 .4 .3 .4 .3 .4 .3 .3 .4 .4 0 .4 .3 .4 .4 .4 .3 .3 .3 .6 -.2 .4 .3 .4 .4 .4 .3 .4 .3 -.5 1.4 .3 .3 .4 .3 .4 .4 .4 .3 1.1 -.3 .3 .4 .4 .3 .4 .4 .4 .3 .6 .2 .4 .4 .3 .4 .4 .3 .4 .4 -.1 .5 .4 .4 .4 .4 .3 .3 .4 .4 0 1 .4 .4 .4 .3 .4 .4 .3 .4 .9 -.2 .4 .4 .4 .3 .4 .4 .4 .4 .3 .8 .4 .4 .3 .4 .4 .4 .4 .4 0 .6 .4 .4 .4 .4 .4 .4 .3 .4 .7 .2 .3 .4 .4 .4 .4 .4 .4 .4 -.1 1 .4 .4 .3 .5 .4 .4 .4 .4 1.2 -.5 .4 .5 .4 .4 .4 .4 .4 .5 -.1 .7 .3 .5 .4 .4 .4 .5 .4 .4 .1 .7 .4 .4 .4 .5 .3 .4 .4 .5 .7 .4 .4 .4 .4 .5 .3 .4 .4 .5 .4 .4 .3 .5 .4 .5 .4 .4 .4 .5 .5 .5 .4 .4 .4 .5 .4 .5 .4 .5 .1 .4 .4 .5 .4 .5 .4 .5 .3 .5 1 -.1 .4 .5 .4 .5 .4 .5 .4 .5 -.1 1 .4 .6 .4 .5 .3 .5 .4 .5 .4 .2 .4 .5 .4 .5 .4 .5 .4 .6 .5 .2 .3 .5 .4 .5 .4 .6 .4 .5 .5 1.1 .4 .5 .4 .5 .4 .6 .4 .5 .1 .6 .4 .6 .4 .5 .3 .6 .4 .5 .7 .2 .3 .6 .4 .5 .4 .6 .4 .5 .4 .3 .3 .6 .4 .6 .4 .5 .4 .6 -.5 1.2 .4 .6 .4 .5 .3 .6 .4 .6 .9 .1 .4 .6 .4 .6 .4 .5 .4 .6 -.4 1.3 .4 .6 .4 .5 .3 .6 .4 .6 .7 .7 .4 .6 .4 .6 .3 .6 .4 .6 .7 -.4 .4 .6 .4 .6 .4 .6 .3 .6 .7 .8 .4 .6 .4 .6 .4 .6 .4 .6 .2 .8 .4 .6 .4 .6 .3 .6 .4 .6 .6 .3 .4 .6 .4 .6 .4 .6 .4 .6 -.5 1.1 .4 .6 .4 .6 .4 .6 .4 .7 .6 .4 .4 .7 .4 .6 .4 .6 .4 .6 .9 .3 .3 .6 .4 .6 .4 .6 .4 .7 -.5 1.3 .4 .6 .4 .6 .4 .7 .3 .6 1.5 -.4 .3 .7 .4 .6 .4 .6 .4 .7 -.2 1.3 .3 .7 .4 .6 .4 .7 .4 .6 .5 .5 .4 .6 .4 .7 .3 .6 .4 .7 .5 .6 .4 .7 .4 .6 .4 .7 .3 .6 0 1 .4 .6 .4 .7 .4 .6 .4 .7 1.2 -.1 .4 .7 .4 .6 .4 .7 .4 .7 -.6 1.2 .4 .6 .4 .7 .4 .7 .4 .6 1 .3 .4 .7 .4 .6 .4 .7 .3 .7 .6 .8 .4 .7 .4 .7 .3 .6 .4 .7 -.3 .7 .4 .7 .4 .7 .3 .7 .4 .6 1.1 .4 .3 .7 .4 .7 .4 .7 .4 .7 1.1 .6 .4 .7 .4 .7 .4 .7 .4 .7 -.5 1.4 .4 .7 .3 .7 .4 .7 .4 .7 .1 .8 .4 .7 .4 .7 .4 .7 .4 .8 .9 .3 .4 .7 .3 .7 .4 .7 .4 .7 .4 .4 .3 .7 .4 .7 .4 .8 .4 .7 -.6 1.2 .4 .8 .3 .7 .4 .7 .4 .7 1.6 .5 .4 .8 .3 .7 .4 .7 .4 .7 -.3 .9 .4 .7 .4 .8 .4 .7 .4 .7 .7 .4 .4 .8 .4 .7 .4 .7 .4 .8 -.7 1.9 .3 .7 .4 .7 .4 .8 .4 .7 1.1 -.2 .3 .7 .4 .7 .4 .8 .4 .7 .5 1.2 .4 .7 .4 .7 .4 .8 .3 .7 .6 .5 .4 .7 .4 .7 .3 .8 .4 .7 .2 .7 .4 .7 .4 .8 .4 .7 .3 .7 .5 .5 .4 .7 .4 .7 .4 .8 .3 .7 .1 .8 .3 .7 .4 .7 .4 .7 .4 .7 .2 .9 .4 .7 .4 .7 .3 .7 .4 .7 .6 .9 .4 .7 .3 .7 .4 .6 .4 .8 1.1 .1 .4 .7 .4 .7 .4 .7 .4 .7 .1 .5 .4 .7 .4 .7 .4 .7 .3 .7 .1 .9 .4 .7 .3 .6 .4 .7 .4 .7 .3 1.1 .4 .7 .4 .7 .3 .6 .4 .7 .7 .2 .4 .6 .3 .7 .4 .7 .4 .7 .1 1.2 .4 .7 .4 .6 .3 .7 .4 .7 .9 -.1 .4 .7 .4 .7 .4 .7 .3 .7 .2 .8 .3 .7 .4 .7 .4 .7 .4 .7 .5 .8 .4 .7 .4 .7 .4 .7 .4 .7 0 .9 .4 .7 .4 .7 .4 .7 .3 .7 .3 .6 .4 .8 .3 .7 .4 .7 .4 .7 1 .2 .4 .7 .3 .8 .4 .7 .4 .7 .1 1.1 .4 .7 .4 .7 .3 .7 .4 .7 .1 .8 .4 .8 .3 .7 .4 .7 .4 .7 .6 .6 .4 .8 .3 .7 .4 .7 .4 .7 .7 .4 .4 .7 .4 .7 .4 .8 .4 .7 .8 .8 .4 .8 .4 .7 .4 .7 .4 .7 -1.2 1.6 .4 .7 .4 .7 .4 .7 .3 .8 .7 .5 .4 .7 .3 .8 .4 .7 .4 .7 1 .1 .4 .8 .4 .7 .4 .7 .4 .7 0 1.2 .4 .7 .4 .7 .3 .7 .4 .8 .3 .8 .4 .8 .4 .7 .4 .7 .4 .7 .4 .4 .4 .8 .4 .7 .4 .7 .3 .7 1 .6 .4 .7 .4 .7 .4 .8 .3 .7 -.2 1.1 .4 .7 .4 .7 .4 .8 .4 .7 -.1 .8 .4 .8 .3 .7 .4 .7 .4 .7 1.2 .3 .4 .8 .4 .7 .3 .7 .4 .7 .5 .5 .4 .7 .3 .8 .4 .7 .4 .7 .2 .7 .4 .7 .4 .7 .4 .8 .4 .7 .5 .6 .4 .7 .4 .7 .3 .7 .4 .7 .2 1.1 .3 .7 .4 .7 .4 .8 .4 .7 .3 .7 .3 .7 .4 .7 .4 .7 .4 .8 .7 .2 .4 .7 .3 .7 .4 .7 .4 .7 -.1 .9 .4 .7 .4 .7 .4 .6 .3 .7 .5 1.3 .4 .7 .4 .7 .4 .7 .3 .7 .9 .2 .4 .7 .4 .7 .3 .7 .4 .7 .1 .4 .3 .7 .4 .6 .4 .7 .4 .7 .1 1.5 .4 .7 .4 .7 .3 .6 .4 .7 .4 .8 .4 .7 .4 .7 .4 .7 .4 .7 1.2 .3 .3 .7 .4 .6 .4 .7 .4 .7 .2 .6 .4 .7 .4 .7 .3 .6 .4 .7 .5 .4 .4 .7 .4 .7 .4 .7 .3 .6 0 1.2 .4 .7 .4 .7 .4 .7 .4 .6 .3 .4 .4 .7 .4 .7 .3 .7 .4 .6 .6 .3 .4 .7 .4 .7 .4 .6 .3 .7 .3 1.1 .3 .7 .4 .7 .4 .7 .4 .6 .3 .9 .4 .7 .3 .6 .4 .7 .4 .7 .7 .2 .3 .6 .4 .7 .4 .7 .4 .6 .3 .9 .4 .6 .4 .7 .3 .7 .4 .6 .1 1.2 .4 .7 .3 .6 .4 .7 .4 .6 .7 .2 .4 .7 .4 .6 .4 .7 .4 .6 .2 .6 .4 .7 .4 .6 .4 .6 .4 .7 .4 .9 .3 .6 .4 .6 .4 .7 .4 .6 .5 .4 .3 .6 .4 .6 .4 .7 .4 .6 .3 .4 .4 .6 .4 .6 .4 .6 .4 .6 .1 1.3 .3 .7 .4 .6 .4 .6 .4 .6 .5 0 .4 .6 .4 .6 .4 .6 .4 .6 .8 .5 .4 .6 .4 .6 .3 .6 .4 .6 -.3 .6 .4 .6 .4 .5 .4 .6 .4 .6 .4 .7 .4 .6 .4 .6 .4 .5 .4 .6 .3 1 .4 .6 .4 .5 .4 .6 .4 .6 .1 .6 .4 .6 .4 .5 .4 .6 .3 .6 1 -.1 .4 .6 .4 .6 .3 .5 .4 .6 .5 .6 .4 .6 .4 .5 .4 .6 .4 .5 -.4 1.1 .4 .5 .4 .6 .3 .5 .4 .5 1 0 .4 .5 .4 .6 .3 .5 .4 .5 -.2 1 .3 .5 .4 .5 .4 .6 .4 .5 1.4 -.2 .4 .6 .4 .5 .3 .5 .4 .5 -.5 1.3 .4 .5 .3 .5 .4 .5 .4 .5 1.3 .1 .4 .5 .4 .5 .4 .5 .4 .5 0 .2 .4 .5 .4 .5 .4 .5 .4 .5 .2 .9 .4 .5 .4 .5 .4 .5 .3 .5 .5 -.1 .3 .5 .4 .4 .4 .5 .4 .5 .2 .7 .4 .5 .4 .5 .4 .4 .3 .5 .8 .2 .4 .5 .4 .4 .4 .5 .3 .5 -.1 1.3 .4 .4 .4 .5 .3 .4 .4 .5 1 -.5 .4 .4 .4 .5 .4 .4 .4 .5 -.1 .8 .4 .5 .4 .4 .4 .5 .4 .4 .1 1 .4 .5 .4 .4 .3 .4 .4 .5 1.6 -1.1 .4 .4 .4 .5 .4 .4 .4 .4 -.2 1.2 .3 .4 .4 .4 .4 .5 .4 .4 .4 .1 .4 .4 .4 .4 .4 .4 .4 .4 .6 .4 .4 .4 .4 .4 .4 .4 .4 .4 -.2 .6 .4 .4 .4 .4 .4 .3 .3 .4 .3 .7 .4 .4 .4 .4 .4 .3 .4 .4 .7 0 .4 .4 .4 .4 .4 .4 .4 .3 -.5 1.5 .4 .4 .4 .3 .4 .4 .4 .4 1.1 -.5 .3 .4 .4 .4 .4 .3 .4 .4 .3 .5 .4 .4 .4 .3 .4 .4 .3 .4 0 .6 .4 .4 .4 .3 .3 .4 .4 .3 .8 -.1 .4 .3 .4 .4 .4 .3 .3 .3 -.2 1.3 .4 .4 .4 .3 .4 .3 .3 .4 1.2 -.7 .4 .4 .4 .3 .4 .3 .4 .3 .2 .3 .4 .3 .4 .3 .4 .3 .4 .3 -.2 1 .4 .3 .4 .3 .4 .3 .4 .3 1 -.5 .4 .3 .3 .3 .4 .3 .4 .3 .2 .4 .4 .3 .4 .3 .4 .3 .4 .3 .2 1.1 .4 .3 .4 .3 .4 .3 .4 .3 .1 .3 .4 .3 .3 .2 .4 .3 .4 .3 1 -.7 .4 .3 .3 .2 .4 .3 .4 .3 .5 .4 .4 .3 .4 .2 .4 .3 .3 .2 .4 .1 .4 .3 .4 .2 .4 .3 .4 .2 .1 .7 .4 .2 .3 .3 .4 .2 .4 .3 .2 1 .4 .2 .3 .3 .4 .2 .4 .2 1 -1.3 .4 .3 .4 .2 .4 .2 .4 .2 .1 1 .4 .2 .4 .3 .4 .2 .4 .2 .2 .7 .4 .2 .4 .2 .4 .2 .4 .3 .8 -.9 .4 .2 .4 .2 .4 .2 .4 .2 .1 1.1 .4 .2 .3 .2 .4 .2 .4 .2 .5 -.2 .4 .2 .4 .2 .4 .1 .4 .2 .3 .2 .4 .2 .4 .2 .4 .1 .4 .2 .8 -1.2 .3 .2 .4 .2 .4 .1 .4 .2 0 1.6 .4 .2 .4 .2 .4 .1 .4 .2 .4 .1 .4 .2 .3 .1 .4 .2 .4 .1 .6 -.3 .4 .2 .4 .1 .4 .2 .4 .1 .2 .6 .4 .1 .4 .1 .4 .1 .4 .2 .4 .5 .4 .1 .4 .1 .4 .1 .4 .2 .4 -.1 .4 .1 .4 .1 .4 .1 .4 .1 .5 -.4 .4 .1 .4 .1 .4 .1 .4 0 .5 .1 .4 .1 .3 .1 .4 .1 .4 .1 .5 -.6 .4 .1 .4 .1 .4 .1 .4 0 .2 1.5 .4 .1 .4 .1 .4 0 .4 .1 .4 .2 .4 0 .4 .1 .4 0 .4 .1 .3 .3 .4 .1 .4 0 .4 .1 .4 0 .6 -1.3 .4 0 .4 .1 .4 0 .4 0 .3 .5 .4 .1 .4 0 .4 0 .4 .1 .4 -.1 .4 .1 .4 0 .4 0 .4 0 .4 .2 .4 0 .4 0 .4 0 .4 0 .4 .5 .5 0 .4 0 .4 0 .4 0 .3 -1.1 .4 0 .4 0 .4 0 .4 0 .5 .8 .4 0 .4 -.1 .4 0 .4 0 .4 -.2 .4 0 .4 0 .4 -.1 .4 0 .4 0 .4 0 .4 -.1 .4 0 .4 -.1 .3 -1 .4 -.1 .3 0 .4 -.1 .4 0 .5 .4 .4 0 .4 -.1 .4 -.1 .4 0 .4 0 .4 -.1 .4 -.1 .5 -.1 .4 0 .4 .1 .4 -.1 .4 -.1 .4 -.1 .4 -.1 .2 -.5 .4 0 .4 -.1 .4 -.1 .4 -.1 .5 0 .4 -.1 .3 -.1 .4 -.1 .4 -.2 .5 -.1 .4 -.1 .4 -.1 .4 -.2 .4 -.1 .4 .3 .4 -.1 .4 -.1 .4 -.2 .4 -.1 .3 -.4 .4 -.2 .4 -.1 .4 -.1 .4 -.2 .4 -.2 .4 -.1 .4 -.1 .4 -.2 .4 -.1 .5 .5 .4 -.2 .4 -.1 .4 -.2 .4 -.1 .1 -.9 .4 -.2 .4 -.1 .4 -.2 .4 -.2 .4 .1 .4 -.2 .4 -.1 .4 -.2 .4 -.2 .5 -.2 .4 -.2 .4 -.2 .4 -.2 .4 -.1 .2 -.3 .4 -.2 .4 -.2 .4 -.2 .4 -.1 .6 .4 .4 -.2 .4 -.2 .4 -.1 .4 -.2 .1 -.9 .3 -.2 .4 -.2 .4 -.2 .4 -.2 .9 .7 .4 -.2 .4 -.2 .4 -.2 .4 -.3 .4 .1 .4 -.2 .4 -.2 .4 -.2 .4 -.2 -.1 -.9 .4 -.2 .4 -.2 .4 -.2 .4 -.2 .6 0 .4 -.2 .4 -.2 .4 -.2 .4 -.3 .3 -.5 .4 -.3 .4 -.2 .3 -.2 .4 -.2 .5 0 .4 -.2 .3 -.3 .4 -.2 .4 -.3 .4 -.1 .3 -.2 .4 -.3 .4 -.2 .4 -.2 .5 -.4 .4 -.2 .4 -.3 .3 -.2 .4 -.3 .5 -.2 .4 -.3 .4 -.2 .3 -.3 .4 -.2 .3 -.2 .4 -.3 .4 -.2 .4 -.2 .4 -.3 .4 -.6 .4 -.3 .4 -.2 .4 -.3 .4 -.3 .3 -.3 .4 -.3 .4 -.2 .4 -.3 .4 -.3 .1 -.4 .3 -.2 .4 -.3 .4 -.3 .4 -.2 .4 -.5 .4 -.2 .4 -.3 .3 -.3 .4 -.3 .6 .2 .4 -.3 .4 -.3 .4 -.2 .3 -.3 .3 -.7 .4 -.3 .4 -.2 .4 -.3 .4 -.3 .2 -.2 .4 -.2 .4 -.3 .4 -.3 .3 -.3 .8 .1 .4 -.3 .3 -.3 .4 -.3 .4 -.3 -.1 -.8 .4 -.3 .4 -.3 .4 -.3 .4 -.3 1.2 .6 .4 -.3 .4 -.3 .4 -.3 .4 -.3 -.2 -1.4 .4 -.3 .4 -.3 .4 -.4 .4 -.3 .5 .3 .4 -.4 .3 -.3 .4 -.3 .4 -.4 .3 -.8 .4 -.3 .4 -.4 .4 -.3 .4 -.4 .4 -.1 .4 -.3 .4 -.4 .4 -.3 .4 -.4 .1 -.9 .4 -.3 .4 -.4 .4 -.4 .3 -.3 1.1 .7 .4 -.4 .4 -.4 .4 -.4 .4 -.4 -.7 -1.3 .4 -.3 .4 -.4 .4 -.4 .3 -.4 1.2 .1 .4 -.4 .3 -.4 .4 -.4 .4 -.4 .5 -.2 .4 -.4 .3 -.4 .4 -.4 .4 -.5 0 -.8 .3 -.4 .4 -.4 .4 -.4 .4 -.4 .5 -.3 .4 -.4 .4 -.5 .4 -.4 .4 -.4 .3 -.7 .4 -.4 .4 -.4 .3 -.5 .4 -.4 .4 -.1 .4 -.4 .4 -.4 .4 -.5 .3 -.4 .8 -.4 .4 -.4 .4 -.5 .4 -.4 .4 -.5 0 -.5 .4 -.5 .4 -.5 .4 -.4 .3 -.5 .7 -.8 .4 -.4 .4 -.5 .4 -.4 .4 -.5 .2 -.3 .4 -.5 .4 -.5 .3 -.4 .4 -.5 .6 0 .4 -.4 .4 -.5 .4 -.5 .4 -.4 .5 -.7 .3 -.5 .4 -.4 .4 -.5 .4 -.5 -.6 -.8 .4 -.5 .4 -.5 .4 -.5 .3 -.4 .9 -.2 .3 -.5 .4 -.5 .4 -.4 .4 -.5 .9 -.3 .4 -.5 .4 -.5 .4 -.4 .3 -.5 -.4 -1.1 .4 -.5 .4 -.5 .4 -.5 .3 -.5 .5 -.6 .3 -.4 .4 -.5 .4 -.5 .4 -.5 .7 0 .4 -.5 .4 -.5 .4 -.5 .3 -.4 .7 0 .4 -.5 .4 -.5 .4 -.4 .3 -.5 .1 -1.1 .3 -.4 .4 -.5 .4 -.5 .4 -.5 .8 -.1 .4 -.5 .4 -.5 .4 -.4 .4 -.5 -.3 -.7 .3 -.5 .4 -.4 .4 -.5 .4 -.5 .4 -.6 .4 -.5 .4 -.5 .4 -.5 .4 -.5 .7 -.5 .4 -.5 .3 -.4 .4 -.5 .4 -.5 .2 -.8 .4 -.5 .4 -.5 .3 -.5 .4 -.5 .5 .1 .4 -.5 .4 -.5 .4 -.5 .4 -.5 .4 -.4 .4 -.5 .4 -.5 .3 -.5 .4 -.5 .1 -.9 .4 -.5 .4 -.5 .4 -.5 .4 -.5 .9 0 .4 -.5 .4 -.5 .4 -.5 .4 -.5 -.3 -1.1 .4 -.5 .4 -.5 .4 -.6 .4 -.5 .6 -.6 .4 -.5 .4 -.5 .4 -.6 .3 -.5 .1 -.3 .4 -.5 .4 -.6 .4 -.5 .4 -.5 .7 -.3 .4 -.5 .3 -.5 .4 -.6 .4 -.5 .4 -.7 .4 -.5 .4 -.6 .4 -.6 .4 -.5 .1 -1 .3 -.6 .4 -.5 .4 -.6 .4 -.5 -.3 -.8 .4 -.5 .4 -.6 .3 -.6 .4 -.5 1.2 -.2 .4 -.5 .3 -.6 .4 -.6 .4 -.6 .5 -.8 .4 -.5 .4 -.6 .4 -.6 .4 -.6 .7 -.1 .4 -.6 .4 -.6 .4 -.6 .3 -.6 0 -.5 .3 -.6 .4 -.6 .4 -.6 .4 -.6 -.1 -1.2 .4 -.5 .4 -.6 .4 -.6 .3 -.6 1.4 .1 .3 -.6 .4 -.6 .4 -.6 .4 -.5 -.4 -1 .4 -.6 .4 -.6 .4 -.6 .3 -.5 .9 -.4 .4 -.6 .4 -.6 .3 -.6 .4 -.6 0 -.7 .4 -.6 .4 -.5 .4 -.6 .4 -.6 .8 -.6 .4 -.6 .3 -.6 .4 -.5 .4 -.6 -.1 -.7 .3 -.6 .4 -.5 .4 -.6 .4 -.6 .7 -.2 .4 -.5 .3 -.6 .4 -.6 .4 -.6 .2 -1.1 .4 -.6 .4 -.6 .4 -.5 .3 -.6 .4 -.4 .3 -.5 .4 -.6 .4 -.6 .4 -.6 .8 -.2 .3 -.6 .4 -.6 .4 -.6 .4 -.6 .5 -.6 .4 -.6 .3 -.6 .4 -.6 .4 -.5 .6 -.8 .4 -.6 .4 -.6 .4 -.5 .4 -.6 -.4 -.9 .4 -.6 .4 -.6 .4 -.6 .4 -.5 .6 -.7 .4 -.6 .4 -.5 .4 -.6 .3 -.6 0 -.7 .3 -.6 .4 -.5 .4 -.6 .4 -.6 .9 -.2 .3 -.6 .4 -.6 .4 -.6 .4 -.5 0 -.8 .4 -.6 .4 -.6 .3 -.5 .4 -.6 .7 -.5 .3 -.6 .4 -.6 .4 -.5 .4 -.6 .4 -.4 .4 -.6 .4 -.5 .3 -.6 .4 -.6 -.1 -1.4 .4 -.6 .4 -.6 .4 -.6 .4 -.5 .5 -.4 .4 -.5 .4 -.6 .3 -.6 .4 -.6 .7 -.1 .3 -.6 .4 -.5 .4 -.6 .4 -.6 .3 -.4 .4 -.6 .3 -.6 .4 -.5 .4 -.6 .7 -.9 .3 -.6 .4 -.5 .4 -.6 .4 -.5 .6 -.4 .3 -.6 .4 -.5 .4 -.6 .4 -.6 0 -.9 .4 -.6 .4 -.5 .4 -.6 .3 -.6 .3 0 .3 -.5 .4 -.6 .4 -.5 .4 -.6 .8 -.4 .4 -.6 .4 -.5 .4 -.6 .3 -.5 .2 -.9 .4 -.5 .4 -.6 .4 -.5 .4 -.6 0 -.1 .4 -.6 .3 -.5 .4 -.5 .4 -.6 .3 -1 .3 -.5 .4 -.5 .4 -.6 .4 -.5 1 -.4 .3 -.5 .4 -.6 .4 -.5 .4 -.5 -.3 -.8 .4 -.5 .4 -.5 .4 -.5 .4 -.5 .5 -.1 .4 -.5 .4 -.5 .4 -.5 .4 -.5 .8 -.1 .4 -.5 .4 -.5 .4 -.5 .4 -.4 .7 -.8 .4 -.5 .4 -.5 .3 -.5 .4 -.4 -.5 -.6 .4 -.4 .3 -.5 .4 -.5 .4 -.5 1.1 .1 .4 -.4 .4 -.5 .4 -.5 .4 -.5 .5 -.7 .4 -.4 .3 -.5 .4 -.5 .4 -.4 -.2 -.8 .4 -.4 .4 -.5 .4 -.5 .4 -.4 .7 -.1 .4 -.5 .4 -.5 .4 -.5 .4 -.4 .3 -.7 .4 -.4 .4 -.5 .4 -.5 .4 -.4 .6 -.4 .4 -.5 .3 -.5 .4 -.4 .4 -.5 -.2 -.7 .4 -.5 .3 -.5 .4 -.5 .4 -.5 .6 -.7 .4 -.5 .4 -.5 .4 -.4 .4 -.5 .2 -.5 .4 -.5 .3 -.4 .4 -.5 .4 -.5 .6 -.2 .4 -.5 .4 -.4 .4 -.5 .4 -.5 .2 -1.1 .4 -.5 .3 -.5 .4 -.4 .4 -.5 .3 -.4 .3 -.5 .4 -.5 .4 -.5 .4 -.5 .7 -.1 .4 -.4 .4 -.5 .4 -.5 .4 -.5 0 -1 .3 -.4 .4 -.5 .4 -.5 .2 -.5 0 0 0 -.5 0 -.4 0 -.5 0 -.5 0 -.7 -2.2 -3.7 -.4 .4 -.4 .5 -.4 .5 -.4 .4 -.3 .5 .3 .9 -.3 .5 -.4 .5 -.4 .5 -.4 .5 -1 .1 -.4 .5 -.4 .4 -.4 .5 -.3 .5 -1.1 -.1 -.4 .5 -.4 .5 -.3 .4 -.4 .5 0 .6 -.4 .5 -.4 .5 -.4 .5 -.3 .5 -.4 .9 -.4 .5 -.3 .5 -.4 .5 -.4 .4 -.1 .6 -.4 .5 -.4 .5 -.4 .5 -.3 .5 -.5 .2 -.4 .5 -.3 .5 -.4 .5 -.4 .5 -.4 .9 -.4 .4 -.4 .5 -.3 .5 -.4 .4 -.5 .3 -.3 .4 -.4 .5 -.4 .5 -.4 .5 .4 1.1 -.4 .5 -.4 .4 -.4 .5 -.3 .5 -1.2 -.1 -.4 .5 -.4 .5 -.4 .4 -.4 .5 .3 1 -.4 .4 -.3 .5 -.4 .5 -.4 .5 -.6 .1 -.4 .5 -.4 .4 -.3 .5 -.4 .5 -.3 .9 -.4 .5 -.3 .4 -.4 .5 -.4 .5 -1 0 -.4 .5 -.4 .5 -.4 .5 -.4 .4 0 .1 -.4 .5 -.4 .5 -.4 .5 -.4 .5 -.4 1 -.4 .5 -.4 .5 -.4 .5 -.3 .5 -.4 .5 -.4 .5 -.3 .5 -.4 .5 -.4 .5 -.9 -.2 -.4 .5 -.3 .6 -.4 .5 -.4 .5 .4 1 -.4 .5 -.4 .5 -.4 .5 -.4 .5 -.5 .8 -.4 .6 -.4 .5 -.3 .5 -.4 .6 -.7 .7 -.3 .5 -.4 .6 -.4 .5 -.4 .6 0 .1 -.4 .6 -.4 .5 -.4 .6 -.4 .5 -.3 .8 -.4 .5 -.4 .6 -.4 .5 -.4 .6 -.4 .7 -.4 .6 -.4 .5 -.4 .6 -.3 .5 -1.1 -.5 -.4 .6 -.3 .5 -.4 .6 -.4 .5 -.6 .7 -.3 .5 -.4 .6 -.4 .6 -.4 .5 .1 .8 -.4 .6 -.4 .5 -.4 .6 -.4 .6 -.2 1.2 -.4 .6 -.4 .5 -.3 .6 -.4 .6 -.5 .3 -.4 .6 -.4 .5 -.3 .6 -.4 .6 -.9 0 -.4 .5 -.4 .6 -.3 .6 -.4 .5 .1 .8 -.4 .6 -.4 .6 -.3 .5 -.4 .6 .2 1.6 -.3 .6 -.4 .5 -.4 .6 -.4 .6 -.8 .1 -.4 .5 -.4 .6 -.4 .6 -.4 .6 -.4 .6 -.4 .6 -.4 .6 -.4 .5 -.3 .6 .2 .9 -.4 .6 -.4 .6 -.4 .6 -.4 .5 -.7 .4 -.4 .5 -.4 .6 -.3 .6 -.4 .6 -.5 .3 -.4 .6 -.4 .5 -.4 .6 -.4 .6 -1.1 .3 -.4 .6 -.4 .6 -.4 .5 -.3 .6 .4 1 -.4 .6 -.4 .5 -.4 .6 -.3 .6 -.2 1.1 -.4 .5 -.4 .6 -.4 .6 -.3 .6 -.8 .5 -.4 .5 -.4 .6 -.4 .6 -.4 .6 -.5 .4 -.4 .6 -.4 .6 -.3 .6 -.4 .5 -.8 .1 -.4 .6 -.4 .5 -.3 .6 -.4 .6 0 1.3 -.4 .5 -.4 .6 -.4 .6 -.3 .6 -.3 .4 -.4 .6 -.4 .6 -.4 .6 -.3 .6 -.7 .1 -.3 .6 -.4 .6 -.4 .5 -.4 .6 -.2 1 -.4 .6 -.3 .6 -.4 .6 -.4 .6 .1 .7 -.4 .6 -.4 .6 -.4 .6 -.4 .6 -.5 .6 -.3 .6 -.4 .6 -.4 .6 -.4 .5 -.9 .2 -.3 .6 -.4 .6 -.4 .5 -.4 .6 0 .8 -.4 .5 -.4 .6 -.4 .6 -.3 .6 -.4 .9 -.4 .5 -.4 .6 -.4 .6 -.4 .6 -.3 .3 -.4 .5 -.4 .6 -.4 .6 -.4 .6 -.2 .5 -.4 .6 -.4 .5 -.4 .6 -.3 .6 -.8 .6 -.4 .6 -.4 .5 -.3 .6 -.4 .6 -.4 .6 -.4 .6 -.3 .6 -.4 .5 -.4 .6 -.1 .4 -.3 .6 -.4 .6 -.4 .5 -.4 .6 -.8 .5 -.4 .5 -.3 .5 -.4 .6 -.4 .5 -.4 .7 -.4 .5 -.4 .6 -.4 .5 -.3 .5 -.5 .4 -.4 .5 -.4 .5 -.4 .6 -.3 .5 -.3 .2 -.4 .5 -.4 .5 -.3 .5 -.4 .5 0 1.1 -.4 .5 -.4 .5 -.3 .5 -.4 .6 -.5 .5 -.4 .5 -.4 .5 -.4 .5 -.4 .4 -.5 .4 -.3 .5 -.4 .5 -.4 .5 -.4 .5 -.8 .3 -.4 .5 -.4 .5 -.4 .5 -.3 .5 0 .8 -.4 .5 -.4 .5 -.3 .5 -.4 .4 0 .4 -.4 .5 -.4 .5 -.3 .4 -.4 .5 -1.3 0 -.4 .4 -.4 .5 -.3 .5 -.4 .5 .5 1.5 -.4 .5 -.4 .4 -.3 .5 -.4 .5 -1.2 .1 -.4 .5 -.3 .4 -.4 .5 -.4 .5 -.1 .4 -.4 .5 -.3 .4 -.4 .5 -.4 .5 -.6 .3 -.4 .5 -.3 .5 -.4 .5 -.4 .4 .3 1.3 -.4 .5 -.4 .5 -.4 .5 -.3 .4 -1 -.2 -.4 .5 -.4 .4 -.3 .5 -.4 .5 0 .6 -.4 .5 -.4 .5 -.3 .4 -.4 .5 -1.3 0 -.4 .4 -.4 .5 -.4 .5 -.3 .5 .3 1 -.4 .5 -.4 .5 -.4 .4 -.4 .5 -.7 .4 -.4 .5 -.4 .5 -.3 .4 -.4 .5 -.4 .6 -.4 .4 -.4 .5 -.3 .5 -.4 .4 -.4 .1 -.4 .5 -.3 .5 -.4 .4 -.4 .5 -.5 .7 -.4 .4 -.3 .5 -.4 .5 -.4 .4 .3 .7 -.4 .5 -.4 .5 -.3 .4 -.4 .5 -.8 -.2 -.4 .5 -.4 .4 -.4 .5 -.4 .4 0 1.4 -.4 .4 -.3 .5 -.4 .4 -.4 .5 -.7 -.1 -.4 .5 -.4 .4 -.4 .4 -.4 .5 -.1 .9 -.4 .4 -.3 .5 -.4 .4 -.4 .4 -.8 -.3 -.4 .4 -.4 .4 -.3 .5 -.4 .4 -.2 .8 -.4 .4 -.4 .4 -.4 .4 -.3 .4 -.2 .6 -.4 .4 -.3 .5 -.4 .4 -.4 .4 -.6 .1 -.4 .4 -.3 .4 -.4 .4 -.4 .4 -.1 .6 -.4 .4 -.3 .4 -.4 .3 -.4 .4 -1 0 -.4 .3 -.4 .4 -.3 .4 -.4 .3 -.1 .6 -.3 .4 -.4 .3 -.4 .4 -.4 .3 -.1 .3 -.4 .3 -.4 .4 -.4 .3 -.4 .4 -.5 .4 -.3 .3 -.4 .4 -.4 .3 -.4 .3 -.4 .2 -.3 .3 -.4 .3 -.4 .3 -.4 .4 -.3 .7 -.4 .3 -.3 .4 -.4 .3 -.4 .3 -.6 -.4 -.3 .3 -.4 .3 -.4 .3 -.4 .3 -.2 .9 -.4 .3 -.4 .3 -.3 .3 -.4 .2 -.7 0 -.4 .3 -.4 .3 -.4 .3 -.3 .3 -.3 .3 -.4 .3 -.4 .3 -.3 .3 -.4 .3 .1 1 -.4 .2 -.4 .3 -.4 .3 -.3 .3 -.8 -.6 -.4 .3 -.3 .3 -.4 .3 -.4 .2 -.8 -.1 -.4 .3 -.3 .3 -.4 .2 -.4 .3 .1 .9 -.3 .3 -.4 .2 -.4 .3 -.4 .2 -.2 .7 -.4 .3 -.4 .2 -.3 .3 -.4 .2 -.6 -.4 -.4 .3 -.4 .2 -.4 .3 -.3 .2 -.6 .1 -.4 .2 -.4 .3 -.4 .2 -.3 .2 0 1.3 -.4 .3 -.4 .2 -.4 .3 -.4 .2 -.5 -.3 -.4 .2 -.4 .3 -.4 .2 -.3 .2 -.5 .2 -.4 .3 -.4 .2 -.4 .2 -.3 .3 -.2 .9 -.3 .2 -.4 .2 -.4 .3 -.4 .2 -.4 0 -.3 .2 -.4 .2 -.4 .2 -.4 .3 -.2 .3 -.4 .2 -.3 .2 -.4 .2 -.4 .2 -.7 -.3 -.4 .2 -.4 .2 -.4 .3 -.3 .2 -.4 .5 -.3 .2 -.4 .2 -.4 .2 -.4 .2 -.7 -.6 -.3 .2 -.4 .2 -.4 .2 -.4 .2 .1 .8 -.4 .2 -.3 .2 -.4 .2 -.4 .2 -.3 .4 -.4 .2 -.4 .2 -.3 .2 -.4 .2 -.4 .1 -.4 .1 -.4 .2 -.3 .2 -.4 .2 -.5 -.3 -.4 .2 -.4 .1 -.3 .2 -.4 .2 -.2 .3 -.4 .2 -.4 .2 -.3 .1 -.4 .2 -.3 .7 -.4 .1 -.4 .2 -.4 .1 -.3 .2 -.7 -.6 -.3 .1 -.4 .2 -.4 .1 -.3 .2 -.3 .5 -.4 .2 -.3 .1 -.4 .1 -.4 .2 -.4 -.2 -.3 .2 -.4 .1 -.4 .1 -.3 .1 -.5 -.1 -.4 .1 -.3 .1 -.4 .1 -.4 .2 -.4 0 -.4 .1 -.4 .1 -.3 .1 -.4 .1 -.2 .1 -.4 .1 -.4 .1 -.4 .1 -.3 .1 -.5 0 -.3 .1 -.4 .1 -.3 0 -.4 .1 -.3 .4 -.4 .1 -.4 .1 -.3 .1 -.4 .1 -.3 -.1 -.4 .1 -.3 .1 -.4 0 -.4 .1 -.3 .5 -.3 0 -.4 .1 -.4 0 -.3 .1 -.5 -.7 -.4 .1 -.3 .1 -.4 0 -.4 .1 -.2 1 -.4 .1 -.3 0 -.4 .1 -.4 0 -.4 -.8 -.4 0 -.3 0 -.4 .1 -.4 0 -.2 1.2 -.4 0 -.4 .1 -.3 0 -.4 0 -.4 -.6 -.4 0 -.4 0 -.3 0 -.4 0 -.4 -.1 -.3 0 -.4 0 -.4 .1 -.3 0 -.4 -.3 -.4 0 -.3 0 -.4 0 -.3 0 -.4 .6 -.4 0 -.3 0 -.4 0 -.4 0 -.3 .2 -.4 0 -.4 -.1 -.3 0 -.4 0 -.3 -1 -.4 0 -.3 -.1 -.4 0 -.4 0 -.3 -.2 -.4 -.1 -.3 0 -.4 0 -.4 -.1 -.4 .9 -.4 0 -.3 -.1 -.4 0 -.4 -.1 -.4 1 -.4 0 -.4 -.1 -.3 0 -.4 -.1 -.2 -.8 -.4 -.1 -.4 -.1 -.3 0 -.4 -.1 -.3 -1.1 -.3 -.1 -.4 0 -.4 -.1 -.3 -.1 -.6 1.5 -.4 -.1 -.3 -.1 -.4 0 -.4 -.1 -.2 -1 -.4 0 -.3 -.1 -.4 -.1 -.4 -.1 -.3 -.1 -.4 -.1 -.3 -.1 -.4 -.1 -.4 -.1 -.4 .4 -.4 -.1 -.4 -.1 -.3 -.1 -.4 -.1 -.2 -.8 -.3 -.2 -.4 -.1 -.4 -.1 -.3 -.1 -.3 -.5 -.3 -.2 -.4 -.1 -.4 -.1 -.3 -.1 -.8 1 -.4 -.1 -.4 -.2 -.3 -.1 -.4 -.1 -.3 -.3 -.3 -.2 -.4 -.1 -.4 -.2 -.3 -.1 -.3 -1.1 -.3 -.1 -.4 -.2 -.4 -.1 -.3 -.2 -.4 .4 -.4 -.2 -.3 -.1 -.4 -.2 -.4 -.1 -.5 .1 -.3 -.1 -.4 -.2 -.4 -.2 -.3 -.1 -.5 .1 -.4 -.1 -.4 -.2 -.3 -.2 -.4 -.2 -.1 -1 -.4 -.2 -.3 -.2 -.4 -.2 -.4 -.1 -.5 .3 -.4 -.2 -.4 -.2 -.3 -.2 -.4 -.2 -.4 -.3 -.4 -.2 -.4 -.2 -.4 -.2 -.3 -.2 -.3 -.7 -.4 -.3 -.4 -.2 -.3 -.2 -.4 -.2 -.6 .8 -.4 -.2 -.4 -.2 -.4 -.2 -.3 -.2 -.1 -1.1 -.4 -.2 -.4 -.3 -.4 -.2 -.3 -.2 -.4 -.2 -.4 -.3 -.3 -.2 -.4 -.2 -.4 -.3 -.6 .4 -.4 -.2 -.4 -.3 -.4 -.2 -.3 -.3 -.4 -.6 -.3 -.2 -.4 -.3 -.4 -.2 -.4 -.3 -.3 -.2 -.4 -.2 -.3 -.3 -.4 -.3 -.4 -.2 -.4 .1 -.3 -.3 -.4 -.3 -.4 -.2 -.4 -.3 -.3 -1 -.4 -.3 -.3 -.2 -.4 -.3 -.4 -.3 -.4 -.2 -.3 -.2 -.4 -.3 -.4 -.3 -.4 -.3 -.7 .2 -.4 -.2 -.4 -.3 -.4 -.3 -.4 -.3 -.1 -.6 -.4 -.3 -.3 -.3 -.4 -.3 -.4 -.3 -.4 0 -.4 -.3 -.4 -.3 -.4 -.3 -.3 -.3 -.7 0 -.3 -.3 -.4 -.4 -.4 -.3 -.4 -.3 -.1 -.9 -.4 -.3 -.4 -.3 -.3 -.3 -.4 -.4 -.2 -.5 -.4 -.3 -.3 -.3 -.4 -.4 -.4 -.3 -.4 -.2 -.4 -.3 -.4 -.3 -.3 -.4 -.4 -.3 -.6 -.3 -.4 -.3 -.4 -.4 -.3 -.3 -.4 -.4 -.3 -.3 -.4 -.4 -.3 -.3 -.4 -.4 -.4 -.4 -.6 -.3 -.4 -.4 -.4 -.4 -.3 -.3 -.4 -.4 .1 -.9 -.4 -.4 -.3 -.4 -.4 -.3 -.4 -.4 -.6 -.3 -.4 -.4 -.3 -.4 -.4 -.4 -.4 -.4 -.6 .3 -.4 -.4 -.4 -.4 -.4 -.4 -.4 -.4 .1 -1 -.4 -.4 -.4 -.4 -.3 -.4 -.4 -.4 -.3 -.3 -.4 -.4 -.4 -.4 -.4 -.4 -.3 -.4 -.7 -.3 -.4 -.4 -.4 -.4 -.4 -.5 -.4 -.4 -.5 .1 -.4 -.4 -.4 -.4 -.4 -.4 -.3 -.4 -.5 -.8 -.4 -.4 -.4 -.4 -.3 -.4 -.4 -.5 -.2 -.6 -.4 -.4 -.4 -.5 -.4 -.4 -.4 -.5 -.3 0 -.4 -.5 -.4 -.4 -.4 -.5 -.3 -.4 -1.1 -.2 -.4 -.5 -.4 -.4 -.4 -.5 -.3 -.4 .3 -1.2 -.4 -.4 -.4 -.5 -.3 -.4 -.4 -.5 -.4 -.6 -.4 -.5 -.3 -.4 -.4 -.5 -.4 -.5 -.7 .3 -.4 -.4 -.4 -.5 -.3 -.5 -.4 -.5 -.8 -.5 -.4 -.4 -.4 -.5 -.4 -.5 -.4 -.5 .5 -.6 -.4 -.5 -.3 -.5 -.4 -.5 -.4 -.5 -.9 -.4 -.4 -.5 -.4 -.5 -.3 -.5 -.4 -.5 -.2 -.7 -.4 -.5 -.4 -.5 -.4 -.5 -.3 -.5 .2 -1 -.4 -.6 -.4 -.5 -.4 -.5 -.3 -.5 -.9 -.2 -.4 -.5 -.3 -.5 -.4 -.5 -.4 -.6 .2 -.8 -.3 -.5 -.4 -.5 -.4 -.6 -.4 -.5 -.8 -.2 -.4 -.5 -.4 -.6 -.4 -.5 -.3 -.5 -.9 -.5 -.4 -.5 -.4 -.6 -.3 -.5 -.4 -.6 -.1 -.5 -.4 -.6 -.4 -.5 -.4 -.6 -.4 -.5 .2 -.9 -.3 -.5 -.4 -.6 -.4 -.6 -.4 -.5 -.5 -.9 -.4 -.6 -.4 -.5 -.3 -.6 -.4 -.6 -.6 -.6 -.4 -.5 -.4 -.6 -.4 -.6 -.4 -.6 -.5 0 -.4 -.6 -.4 -.6 -.4 -.6 -.4 -.5 .1 -1.1 -.4 -.6 -.3 -.6 -.4 -.6 -.4 -.6 -.6 0 -.4 -.6 -.3 -.6 -.4 -.6 -.4 -.6 -1.3 -.5 -.3 -.7 -.4 -.6 -.4 -.6 -.4 -.6 .2 -.7 -.4 -.6 -.4 -.6 -.4 -.6 -.4 -.7 -.5 -.3 -.4 -.6 -.4 -.6 -.4 -.6 -.4 -.7 .1 -1.1 -.3 -.7 -.4 -.6 -.4 -.7 -.4 -.6 -.7 -.3 -.4 -.7 -.4 -.6 -.3 -.6 -.4 -.7 -.5 -.3 -.4 -.7 -.4 -.6 -.4 -.7 -.3 -.6 -.2 -1.1 -.4 -.7 -.4 -.6 -.3 -.7 -.4 -.7 -.7 -.6 -.4 -.7 -.3 -.6 -.4 -.7 -.4 -.7 .5 -.8 -.4 -.7 -.4 -.6 -.3 -.7 -.4 -.7 -1.2 -.3 -.4 -.7 -.4 -.7 -.4 -.6 -.4 -.7 -.5 -1 -.4 -.6 -.4 -.7 -.3 -.7 -.4 -.6 -.2 -.6 -.4 -.6 -.3 -.7 -.4 -.7 -.4 -.7 .3 -.7 -.4 -.7 -.4 -.7 -.4 -.6 -.4 -.7 -.3 -1 -.4 -.7 -.4 -.6 -.4 -.7 -.4 -.7 -.8 -.2 -.4 -.7 -.4 -.6 -.4 -.7 -.4 -.7 -.9 -.2 -.4 -.7 -.4 -.6 -.3 -.7 -.4 -.7 -.5 -.7 -.4 -.7 -.3 -.7 -.4 -.7 -.4 -.7 -.1 -1 -.3 -.6 -.4 -.7 -.4 -.7 -.4 -.7 -.3 -1.3 -.4 -.7 -.4 -.7 -.4 -.7 -.4 -.7 .3 -.5 -.4 -.7 -.3 -.7 -.4 -.7 -.4 -.7 -1.1 -.1 -.3 -.7 -.4 -.7 -.4 -.7 -.4 -.7 .1 -1.5 -.4 -.7 -.4 -.7 -.4 -.7 -.3 -.7 -1.2 -.2 -.4 -.7 -.4 -.7 -.4 -.7 -.3 -.7 .3 -.8 -.4 -.7 -.3 -.7 -.4 -.7 -.4 -.7 -.8 -.5 -.4 -.7 -.4 -.7 -.4 -.7 -.3 -.7 -.8 -.8 -.4 -.7 -.3 -.7 -.4 -.7 -.4 -.7 .2 -1 -.3 -.8 -.4 -.7 -.4 -.7 -.4 -.7 -.5 -.6 -.4 -.7 -.3 -.7 -.4 -.7 -.4 -.7 -.5 -.5 -.3 -.8 -.4 -.7 -.4 -.7 -.4 -.7 .2 -1.1 -.4 -.7 -.4 -.7 -.4 -.7 -.4 -.7 -1.4 -.1 -.4 -.7 -.4 -.7 -.4 -.7 -.4 -.7 .3 -1.2 -.3 -.7 -.4 -.7 -.4 -.8 -.4 -.7 -.1 -1 -.4 -.7 -.3 -.7 -.4 -.8 -.4 -.7 -.4 -.4 -.3 -.8 -.4 -.7 -.4 -.7 -.4 -.7 -.3 -.9 -.3 -.8 -.4 -.7 -.4 -.7 -.4 -.7 -1.3 -.5 -.3 -.7 -.4 -.7 -.4 -.8 -.4 -.7 .4 -.8 -.4 -.8 -.4 -.7 -.4 -.7 -.4 -.7 -.9 -.5 -.3 -.7 -.4 -.7 -.4 -.7 -.4 -.8 0 -.9 -.4 -.7 -.4 -.7 -.4 -.8 -.3 -.7 -.9 -.8 -.4 -.8 -.4 -.7 -.4 -.7 -.4 -.7 -.7 -.4 -.4 -.7 -.3 -.7 -.4 -.8 -.4 -.7 .7 -1.3 -.4 -.7 -.4 -.7 -.4 -.7 -.4 -.8 -.9 -.3 -.4 -.7 -.4 -.8 -.3 -.7 -.4 -.7 -.1 -1.1 -.4 -.7 -.4 -.7 -.4 -.7 -.3 -.7 -.6 -.5 -.4 -.7 -.4 -.7 -.3 -.7 -.4 -.8 -.1 -.7 -.4 -.8 -.3 -.7 -.4 -.7 -.4 -.7 0 -.8 -.3 -.7 -.4 -.7 -.4 -.7 -.4 -.7 -.9 -.8 -.3 -.7 -.4 -.6 -.4 -.7 -.4 -.7 -.2 -.8 -.4 -.7 -.4 -.7 -.3 -.7 -.4 -.7 -1 .1 -.4 -.7 -.4 -.6 -.3 -.7 -.4 -.7 0 -1.3 -.4 -.7 -.3 -.7 -.4 -.6 -.4 -.7 -.3 -.4 -.3 -.7 -.4 -.6 -.4 -.7 -.4 -.7 -.6 -.9 -.4 -.7 -.4 -.7 -.3 -.6 -.4 -.7 -.5 -.7 -.3 -.7 -.4 -.7 -.4 -.6 -.4 -.7 -.4 -.5 -.4 -.6 -.3 -.7 -.4 -.7 -.4 -.7 -.6 -.5 -.4 -.6 -.3 -.7 -.4 -.7 -.4 -.7 -.6 -.9 -.4 -.7 -.4 -.7 -.4 -.7 -.3 -.7 -.2 -.8 -.4 -.7 -.4 -.7 -.4 -.7 -.4 -.7 -.3 -.7 -.4 -.7 -.4 -.7 -.3 -.7 -.4 -.7 -.7 -.4 -.4 -.7 -.4 -.7 -.4 -.8 -.3 -.7 -.3 -.6 -.4 -.8 -.4 -.7 -.4 -.7 -.4 -.7 -.3 -.6 -.4 -.8 -.4 -.7 -.4 -.7 -.3 -.7 0 -1.5 -.4 -.8 -.4 -.7 -.3 -.7 -.4 -.8 -.7 .1 -.4 -.8 -.3 -.7 -.4 -.7 -.4 -.8 .1 -1.5 -.4 -.8 -.4 -.7 -.4 -.7 -.4 -.8 -.5 -.5 -.4 -.7 -.4 -.7 -.4 -.8 -.4 -.7 -.6 -.4 -.4 -.7 -.3 -.8 -.4 -.7 -.4 -.7 -.1 -1.3 -.4 -.7 -.4 -.7 -.4 -.8 -.4 -.7 -.6 -.6 -.4 -.7 -.4 -.7 -.4 -.7 -.4 -.8 -.5 -.3 -.4 -.7 -.3 -.7 -.4 -.7 -.4 -.7 -.1 -.8 -.4 -.7 -.3 -.7 -.4 -.7 -.4 -.7 -.9 -.4 -.4 -.7 -.4 -.7 -.4 -.7 -.4 -.7 .2 -1.3 -.4 -.7 -.4 -.7 -.3 -.7 -.4 -.7 -.4 -1 -.4 -.7 -.4 -.7 -.4 -.7 -.4 -.7 -.2 -.8 -.4 -.7 -.4 -.7 -.4 -.7 -.3 -.7 -.4 -.2 -.4 -.7 -.4 -.7 -.4 -.7 -.4 -.7 -.7 -.7 -.4 -.7 -.4 -.7 -.4 -.6 -.3 -.7 .2 -1 -.4 -.7 -.4 -.6 -.4 -.7 -.4 -.7 -.5 -.5 -.4 -.7 -.4 -.7 -.4 -.6 -.4 -.7 -1.1 0 -.4 -.7 -.4 -.6 -.4 -.7 -.3 -.6 -.2 -.9 -.4 -.7 -.4 -.6 -.3 -.7 -.4 -.6 .1 -1 -.4 -.7 -.4 -.6 -.4 -.7 -.3 -.6 -.5 -.6 -.3 -.6 -.4 -.7 -.4 -.6 -.4 -.7 -1.1 -.5 -.4 -.7 -.4 -.6 -.4 -.6 -.3 -.7 .4 -.8 -.4 -.6 -.4 -.6 -.4 -.7 -.3 -.6 -.6 -.7 -.4 -.6 -.4 -.6 -.3 -.7 -.4 -.6 -.6 -.5 -.4 -.6 -.3 -.6 -.4 -.6 -.4 -.7 0 -.9 -.4 -.6 -.4 -.6 -.3 -.6 -.4 -.7 -.2 -.7 -.3 -.6 -.4 -.6 -.4 -.7 -.4 -.6 -.7 -.2 -.4 -.6 -.3 -.6 -.4 -.6 -.4 -.6 -.3 -.8 -.4 -.6 -.4 -.6 -.4 -.6 -.3 -.6 -.5 -.9 -.4 -.6 -.4 -.6 -.4 -.6 -.4 -.6 -.8 .4 -.4 -.6 -.4 -.6 -.3 -.6 -.4 -.6 .6 -1.5 -.4 -.6 -.4 -.6 -.3 -.6 -.4 -.6 -1.2 -.2 -.4 -.6 -.4 -.6 -.3 -.6 -.4 -.6 -.4 -.5 -.3 -.6 -.4 -.6 -.4 -.5 -.4 -.6 -1.3 -.1 -.3 -.5 -.4 -.6 -.4 -.6 -.4 -.5 1.1 -1.3 -.3 -.6 -.4 -.6 -.4 -.5 -.4 -.6 -1.4 .3 -.4 -.5 -.4 -.6 -.3 -.5 -.4 -.6 -.2 -.6 -.4 -.6 -.3 -.5 -.4 -.6 -.4 -.5 -.5 -1.1 -.4 -.6 -.3 -.5 -.4 -.6 -.4 -.5 -.3 -.4 -.3 -.5 -.4 -.6 -.4 -.5 -.4 -.5 0 -.5 -.4 -.6 -.4 -.5 -.4 -.5 -.3 -.5 -.2 -.9 -.4 -.5 -.4 -.5 -.4 -.5 -.4 -.5 -1 .1 -.3 -.5 -.4 -.6 -.4 -.5 -.4 -.4 .1 -.7 -.3 -.5 -.4 -.5 -.4 -.5 -.4 -.5 -.7 -.4 -.4 -.5 -.3 -.4 -.4 -.5 -.4 -.5 -.4 -.4 -.4 -.4 -.4 -.5 -.4 -.5 -.4 -.5 -.1 -.8 -.4 -.5 -.4 -.4 -.4 -.5 -.4 -.5 -.8 0 -.4 -.5 -.3 -.5 -.4 -.4 -.4 -.5 -.4 -.4 -.3 -.4 -.4 -.5 -.4 -.4 -.4 -.5 -.5 -.2 -.3 -.4 -.4 -.5 -.4 -.4 -.4 -.4 -.2 -.7 -.4 -.4 -.4 -.5 -.4 -.4 -.4 -.4 .5 -1.2 -.4 -.4 -.4 -.4 -.4 -.5 -.4 -.4 -1.6 .9 -.4 -.4 -.4 -.4 -.4 -.4 -.4 -.4 .4 -1.4 -.4 -.4 -.4 -.4 -.4 -.4 -.4 -.4 -.6 -.1 -.4 -.4 -.4 -.4 -.3 -.4 -.4 -.4 -1.1 0 -.4 -.3 -.3 -.4 -.4 -.4 -.4 -.4 .8 -1.3 -.4 -.4 -.3 -.3 -.4 -.4 -.4 -.4 -1.5 .7 -.3 -.4 -.4 -.4 -.4 -.3 -.4 -.4 .5 -1.4 -.4 -.4 -.4 -.4 -.3 -.3 -.4 -.4 -.4 -.4 -.4 -.3 -.4 -.4 -.4 -.3 -.4 -.4 -.5 .2 -.4 -.4 -.4 -.3 -.4 -.4 -.3 -.3 -.4 -.1 -.4 -.4 -.4 -.3 -.3 -.3 -.4 -.4 -.5 -.4 -.3 -.3 -.4 -.4 -.4 -.3 -.4 -.3 -.6 0 -.4 -.4 -.4 -.3 -.4 -.3 -.4 -.3 -.6 .2 -.4 -.3 -.4 -.3 -.4 -.3 -.3 -.3 0 -1.1 -.4 -.3 -.4 -.3 -.4 -.3 -.4 -.3 -.6 0 -.4 -.3 -.4 -.3 -.4 -.3 -.4 -.3 -.1 -.4 -.3 -.3 -.4 -.2 -.4 -.3 -.4 -.3 -.2 -.8 -.4 -.3 -.4 -.3 -.4 -.2 -.4 -.3 -.7 .4 -.4 -.3 -.4 -.2 -.3 -.3 -.4 -.2 -.5 -.2 -.4 -.2 -.4 -.2 -.4 -.3 -.4 -.2 -.4 -.4 -.4 -.3 -.4 -.2 -.4 -.2 -.4 -.3 -.4 .1 -.4 -.2 -.4 -.2 -.4 -.2 -.4 -.3 -.4 -.4 -.4 -.3 -.4 -.2 -.4 -.2 -.4 -.2 -.4 .3 -.4 -.2 -.4 -.2 -.4 -.2 -.4 -.2 -.2 -.6 -.4 -.1 -.4 -.2 -.4 -.2 -.4 -.2 -.6 .1 -.4 -.2 -.4 -.2 -.4 -.1 -.4 -.2 -.1 -.8 -.4 -.2 -.4 -.2 -.4 -.1 -.4 -.2 -.6 .7 -.4 -.2 -.4 -.1 -.4 -.2 -.4 -.1 -.2 -.7 -.4 -.1 -.4 -.2 -.4 -.1 -.4 -.2 -.5 .3 -.4 -.1 -.4 -.2 -.4 -.1 -.4 -.1 -.4 -.7 -.4 -.1 -.4 -.2 -.4 -.1 -.4 -.1 -.4 .4 -.4 -.1 -.4 -.1 -.4 -.1 -.4 -.1 -.2 -.9 -.4 -.1 -.4 -.1 -.4 -.1 -.4 -.1 -.4 -.3 -.4 -.1 -.4 -.1 -.4 -.1 -.4 -.1 -.4 .3 -.4 0 -.4 -.1 -.4 -.1 -.4 -.1 -.6 .6 -.4 -.1 -.4 -.1 -.4 0 -.4 -.1 -.3 -.5 -.4 -.1 -.4 0 -.4 -.1 -.4 0 -.4 .1 -.4 -.1 -.4 0 -.4 -.1 -.4 0 -.4 .1 -.4 -.1 -.4 0 -.4 0 -.4 -.1 -.4 .2 -.4 0 -.4 0 -.4 -.1 -.4 0 -.4 -1.4 -.4 0 -.4 0 -.4 -.1 -.4 0 -.4 1 -.4 0 -.4 0 -.4 0 -.4 0 -.4 -.7 -.4 0 -.4 0 -.4 0 -.4 0 -.5 0 -.4 0 -.4 0 -.4 0 -.4 0 -.3 .4 -.4 0 -.4 0 -.4 0 -.5 .1 -.3 .7 -.4 .1 -.4 0 -.4 .1 -.4 0 -.4 -.4 -.4 .1 -.5 0 -.4 .1 -.4 0 -.4 -.7 -.4 .1 -.4 .1 -.4 0 -.4 .1 -.4 -.1 -.4 .1 -.4 0 -.5 .1 -.3 .1 -.4 .9 -.3 .1 -.5 .1 -.4 .1 -.4 0 -.3 .1 -.4 0 -.4 .1 -.4 .1 -.4 .1 -.4 .2 -.4 .1 -.4 .1 -.4 .1 -.4 .1 -.4 .3 -.4 .1 -.4 .1 -.4 .1 -.4 .1 -.5 -.6 -.4 .2 -.4 .1 -.4 .1 -.4 .1 -.3 .6 -.4 .1 -.4 .1 -.4 .2 -.4 .1 -.3 .8 -.4 .1 -.4 .1 -.4 .2 -.4 .1 -.3 -.2 -.4 .2 -.4 .1 -.4 .2 -.4 .1 -.7 -.4 -.4 .2 -.4 .1 -.4 .2 -.4 .1 -.4 .2 -.4 .2 -.4 .2 -.3 .1 -.4 .2 -.6 .2 -.4 .1 -.4 .2 -.4 .2 -.4 .2 -.2 .1 -.4 .2 -.4 .2 -.4 .2 -.4 .2 -.2 .9 -.4 .2 -.4 .2 -.4 .2 -.4 .2 -.4 -.2 -.4 .2 -.4 .3 -.4 .2 -.4 .2 -.9 -.3 -.4 .3 -.4 .2 -.4 .3 -.4 .2 -.1 1.2 -.4 .3 -.4 .2 -.4 .3 -.4 .2 .3 .8 -.4 .3 -.4 .2 -.4 .3 -.4 .3 -.7 -.2 -.4 .3 -.4 .3 -.4 .3 -.4 .3 -.2 .2 -.4 .3 -.4 .3 -.4 .2 -.4 .3 -.9 -.3 -.4 .3 -.3 .3 -.4 .3 -.4 .3 -.7 .5 -.4 .3 -.3 .3 -.4 .4 -.4 .3 .1 .4 -.4 .3 -.4 .4 -.4 .3 -.4 .3 -.5 .3 -.4 .3 -.4 .3 -.4 .4 -.3 .3 -.1 .6 -.3 .4 -.4 .3 -.4 .4 -.4 .3 -.4 .6 -.4 .4 -.4 .3 -.4 .4 -.4 .4 -.1 .8 -.4 .4 -.4 .4 -.3 .4 -.4 .3 -1.4 -.8 -.4 .4 -.4 .4 -.4 .4 -.4 .4 .4 1.2 -.4 .4 -.4 .4 -.4 .4 -.3 .4 -.5 .3 -.4 .4 -.3 .4 -.4 .4 -.4 .4 -.9 .2 -.4 .4 -.3 .5 -.4 .4 -.4 .4 .3 .9 -.4 .4 -.4 .4 -.3 .5 -.4 .4 -1.3 -.4 -.4 .5 -.3 .4 -.4 .4 -.4 .5 .3 1.1 -.4 .5 -.4 .4 -.4 .5 -.4 .4 -.3 .4 -.3 .5 -.4 .5 -.4 .4 -.4 .5 -1 .2 -.4 .4 -.3 .5 -.4 .5 -.4 .5 -.1 .2 -.4 .5 -.4 .5 -.4 .5 -.4 .5 -.2 .3 -.4 .5 -.4 .5 -.3 .5 -.4 .5 -.3 1.1 -.4 .5 -.4 .5 -.4 .5 -.4 .5 -.7 0 -.4 .5 -.4 .6 -.3 .5 -.4 .5 -.3 1 -.4 .5 -.4 .5 -.3 .6 -.4 .5 -.1 1 -.4 .6 -.4 .5 -.3 .6 -.4 .5 -1.5 -.2 -.4 .6 -.3 .6 -.4 .6 -.4 .5 .5 .7 -.4 .6 -.4 .6 -.4 .6 -.3 .5 -.8 .7 -.4 .6 -.4 .6 -.4 .6 -.4 .6 -.3 .5 -.4 .6 -.3 .6 -.4 .6 -.4 .7 -.3 .7 -.4 .6 -.4 .6 -.4 .6 -.3 .6 -.4 .5 -.4 .6 -.4 .6 -.4 .7 -.3 .6 -.1 .8 -.4 .6 -.3 .7 -.4 .6 -.4 .7 -.2 1 -.4 .6 -.4 .7 -.4 .7 -.3 .6 -1.2 -.1 -.4 .7 -.4 .7 -.4 .6 -.4 .7 -1 0 -.4 .6 -.4 .7 -.3 .7 -.4 .7 .3 1.7 -.3 .6 -.4 .7 -.4 .7 -.4 .7 -.3 .7 -.4 .7 -.4 .7 -.3 .7 -.4 .7 -.2 .6 -.4 .7 -.4 .7 -.4 .7 -.4 .7 0 1.1 -.4 .7 -.4 .7 -.4 .7 -.3 .7 -.7 .3 -.4 .7 -.4 .7 -.3 .7 -.4 .7 -.1 1.1 -.4 .7 -.4 .7 -.4 .7 -.4 .7 -.9 .2 -.3 .8 -.4 .7 -.4 .7 -.4 .7 0 .9 -.4 .8 -.3 .7 -.4 .7 -.4 .7 -.1 .8 -.4 .8 -.4 .7 -.4 .7 -.4 .8 -1.3 .4 -.3 .8 -.4 .7 -.4 .7 -.4 .8 0 1 -.3 .7 -.4 .8 -.4 .7 -.4 .8 -.5 .2 -.4 .8 -.4 .7 -.4 .8 -.4 .7 -.2 1.1 -.4 .7 -.3 .8 -.4 .7 -.4 .8 -.5 .6 -.4 .7 -.4 .8 -.4 .7 -.3 .8 -.7 .5 -.4 .8 -.4 .7 -.4 .8 -.3 .8 0 1.2 -.4 .7 -.4 .8 -.4 .8 -.3 .7 -.4 .9 -.4 .7 -.4 .8 -.4 .8 -.4 .7 -1 .4 -.4 .7 -.4 .8 -.4 .8 -.3 .8 .3 1.1 -.4 .8 -.4 .7 -.4 .8 -.4 .8 .2 1 -.3 .8 -.4 .8 -.4 .8 -.4 .8 -.7 .7 -.3 .8 -.4 .7 -.4 .8 -.4 .8 -.9 .5 -.4 .8 -.4 .8 -.4 .8 -.4 .8 .2 1 -.3 .8 -.4 .8 -.4 .8 -.4 .8 -.6 .9 -.4 .8 -.4 .8 -.3 .9 -.4 .8 .1 .9 -.4 .8 -.3 .9 -.4 .8 -.4 .8 -.8 .2 -.4 .9 -.4 .8 -.4 .9 -.3 .8 -.8 1 -.3 .8 -.4 .9 -.4 .8 -.4 .9 .1 1 -.3 .9 -.4 .9 -.4 .8 -.4 .9 -.5 .9 -.4 .9 -.4 .9 -.3 .8 -.4 .9 -.8 .9 -.4 .9 -.4 .9 -.4 .9 -.3 .8 0 1.2 -.3 .8 -.4 .9 -.4 .9 -.4 .9 -.6 .6 -.4 .8 -.4 .9 -.4 .9 -.4 .9 .1 1 -.4 .9 -.4 .9 -.4 .9 -.4 .9 -1 .5 -.4 .9 -.4 .9 -.4 .9 -.3 .9 -.1 1.3 -.4 .9 -.4 .9 -.3 .9 -.4 .9 .4 1 -.4 .9 -.3 .9 -.4 .9 -.4 .9 -.6 1 -.4 1 -.4 .9 -.4 .9 -.4 .9 -1.1 .3 -.4 .9 -.4 .9 -.4 .9 -.4 .9 .5 1.2 -.4 .9 -.4 .9 -.3 .9 -.4 1 -1 1.4 -.4 .9 -.3 .9 -.4 .9 -.4 .9 -.3 .7 -.3 .9 -.4 .9 -.4 1 -.4 .9 .8 1.4 -.4 .9 -.4 .9 -.4 .9 -.4 1 -1.8 .3 -.3 .9 -.4 1 -.4 .9 -.4 .9 .2 .9 -.4 .9 -.4 1 -.4 .9 -.4 .9 -.9 1.1 -.4 .9 -.3 .9 -.4 1 -.4 .9 -.4 .8 -.4 .9 -.4 .9 -.3 1 -.4 .9 -.2 .5 -.4 1 -.3 .9 -.4 .9 -.4 1 -.3 1.4 -.4 .9 -.4 1 -.4 .9 -.4 1 -.4 .9 -.4 .9 -.4 1 -.4 .9 -.4 .9 -.1 1.2 -.3 .9 -.4 1 -.4 .9 -.4 1 -.2 1.1 -.4 .9 -.4 1 -.5 .5 .3 -1.4 .8 -.6 -.4 0 -.4 0 -.4 0 -.1 0Z" fill="#ff0000"/>
<path d="M116.3 408.2l.1 0 .4 0 .4 0 .4 0 .3 -.4 2.6 -1.9 .3 -1.9 .4 -1.1 .4 -1.1 .5 -.9 .4 -1.1 .4 -1 .3 -1.1 .4 -1.1 .8 -1.2 .4 -1.1 .3 -1.1 .4 -1 .4 -1.1 -.4 -1.4 .4 -1.1 .4 -1 .3 -1.1 .4 -1.1 .3 -1.3 .4 -1.1 .3 -1.1 .4 -1 .4 -1.1 .8 -1.2 .4 -1 .4 -1.1 .3 -1.1 .4 -1 .5 -.8 .4 -1 .4 -1.1 .4 -1.1 .4 -1 .4 -1 .4 -1.1 .4 -1 .3 -1.1 .4 -1 .2 -1.3 .4 -1.1 .3 -1 .4 -1.1 .4 -1 -.3 -1.3 .4 -1 .4 -1.1 .4 -1 .3 -1 .4 -.8 .4 -1 .4 -1.1 .4 -1 .4 -1 1 -1 .4 -1 .4 -1 .4 -1.1 .4 -1 .9 -.8 .3 -1.1 .4 -1 .4 -1 .4 -1 -.2 -1.5 .3 -1.1 .4 -1 .4 -1 .4 -1 .3 -1 .4 -1 .4 -1 .4 -1 .3 -1.1 .3 -1.4 .4 -1 .4 -1 .4 -1 .3 -1 1.5 -.7 .4 -1 .4 -1 .4 -1 .4 -1 -.6 -1 .4 -1 .4 -1 .4 -1 .4 -1 1 -1.1 .3 -1 .4 -1 .4 -1 .4 -1 -.3 -.9 .4 -1 .4 -1 .4 -.9 .3 -1 .7 -1.1 .3 -1 .4 -1 .4 -1 .4 -.9 -.5 -.8 .4 -.9 .4 -1 .3 -1 .4 -1 1.1 -.8 .4 -1 .4 -1 .4 -.9 .4 -1 1.1 -.9 .4 -1 .4 -.9 .4 -1 .4 -.9 -.3 -1.2 .3 -1 .4 -.9 .4 -1 .4 -.9 .1 -1 .4 -1 .4 -.9 .4 -1 .4 -.9 -.7 -1.7 .4 -.9 .4 -1 .4 -.9 .4 -.9 1.8 0 .4 -.9 .4 -.9 .4 -.9 .3 -1 .4 -.9 .4 -.9 .4 -.9 .4 -.9 .3 -.9 .2 -1.1 .4 -.9 .3 -.9 .4 -.9 .4 -.9 .2 -.8 .3 -.9 .4 -.9 .4 -.9 .4 -.9 .5 -.8 .4 -.9 .4 -.9 .4 -.9 .4 -.9 .2 -1 .4 -.9 .4 -.8 .4 -.9 .4 -.9 .5 -1.1 .4 -.9 .3 -.9 .4 -.9 .4 -.8 0 -.9 .4 -.8 .4 -.9 .4 -.9 .4 -.8 1.2 -.4 .4 -.9 .4 -.8 .3 -.9 .4 -.9 .1 -1 .3 -.9 .4 -.8 .4 -.9 .4 -.8 .7 -.9 .3 -.9 .4 -.8 .4 -.9 .4 -.8 0 -.7 .4 -.9 .4 -.8 .4 -.8 .4 -.9 .2 -1.1 .3 -.8 .4 -.8 .4 -.9 .4 -.8 .5 -.8 .4 -.8 .4 -.8 .4 -.8 .3 -.8 .6 -.5 .4 -.9 .4 -.8 .3 -.8 .4 -.8 .4 -1.3 .4 -.9 .4 -.8 .3 -.8 .4 -.8 .2 -.5 .4 -.8 .4 -.8 .4 -.8 .4 -.8 .2 -.6 .4 -.8 .4 -.8 .3 -.8 .4 -.8 1.1 -.6 .3 -.8 .4 -.8 .4 -.7 .4 -.8 -.5 -1.2 .4 -.8 .4 -.7 .4 -.8 .3 -.8 1.2 -.4 .4 -.7 .4 -.8 .3 -.7 .4 -.8 .3 -.9 .4 -.7 .4 -.8 .4 -.7 .3 -.8 .1 -.8 .4 -.7 .4 -.7 .4 -.8 .4 -.7 .7 -.4 .4 -.7 .4 -.7 .3 -.7 .4 -.7 0 -1 .4 -.8 .4 -.7 .4 -.7 .4 -.7 .8 -.3 .4 -.7 .4 -.7 .4 -.6 .3 -.7 .3 -1 .4 -.7 .4 -.7 .4 -.7 .3 -.6 .5 -.7 .4 -.7 .4 -.7 .3 -.6 .4 -.7 .4 -.5 .4 -.7 .4 -.7 .4 -.6 .4 -.6 .2 -1.1 .4 -.6 .4 -.7 .3 -.6 .4 -.6 .5 -.2 .4 -.7 .4 -.6 .4 -.6 .3 -.6 0 -1.1 .4 -.7 .4 -.6 .4 -.6 .3 -.6 .8 -.4 .4 -.5 .4 -.6 .3 -.6 .4 -.6 1 -.1 .4 -.5 .4 -.6 .4 -.6 .4 -.5 -1.1 -1.1 .4 -.6 .3 -.5 .4 -.6 .4 -.6 1.3 -.1 .3 -.6 .4 -.5 .4 -.6 .4 -.5 -.5 -1.3 .4 -.6 .4 -.5 .4 -.6 .4 -.5 .9 -.3 .4 -.5 .4 -.5 .3 -.6 .4 -.5 .6 -.1 .4 -.5 .4 -.5 .3 -.5 .4 -.5 .3 -.7 .4 -.5 .4 -.5 .4 -.5 .3 -.5 .1 -.3 .4 -.5 .4 -.5 .4 -.5 .3 -.4 1 -.5 .4 -.4 .4 -.5 .4 -.5 .3 -.4 .1 -.2 .4 -.5 .4 -.4 .4 -.5 .4 -.4 .1 -.8 .4 -.5 .4 -.4 .4 -.5 .3 -.4 1 -.5 .4 -.4 .3 -.5 .4 -.4 .4 -.4 0 -.5 .4 -.4 .4 -.4 .3 -.4 .4 -.4 .5 -.6 .4 -.4 .3 -.4 .4 -.4 .4 -.4 -.2 -.5 .4 -.4 .3 -.4 .4 -.4 .4 -.4 1.4 .6 .3 -.4 .4 -.4 .4 -.4 .4 -.4 -.1 -1.1 .4 -.4 .4 -.3 .4 -.4 .3 -.4 0 -.9 .4 -.3 .4 -.4 .3 -.4 .4 -.3 .7 .3 .4 -.3 .4 -.4 .4 -.3 .4 -.4 .5 -.4 .4 -.3 .4 -.4 .4 -.3 .3 -.3 .4 -.2 .4 -.3 .4 -.3 .3 -.4 .4 -.3 .3 -.3 .4 -.3 .4 -.3 .3 -.4 .4 -.3 .6 -.2 .4 -.3 .3 -.3 .4 -.3 .4 -.2 .3 -.4 .4 -.3 .4 -.3 .3 -.3 .4 -.3 0 -.4 .4 -.3 .3 -.3 .4 -.3 .4 -.2 .7 .1 .4 -.3 .4 -.2 .4 -.3 .3 -.3 .2 -.4 .3 -.3 .4 -.2 .4 -.3 .3 -.2 .5 -.1 .4 -.3 .4 -.2 .3 -.2 .4 -.2 .4 -.2 .3 -.2 .4 -.2 .4 -.3 .3 -.2 .1 -.8 .4 -.2 .3 -.2 .4 -.2 .4 -.2 .3 -.3 .4 -.2 .4 -.2 .3 -.2 .4 -.2 .8 .3 .4 -.2 .3 -.1 .4 -.2 .4 -.2 -.1 -.7 .4 -.1 .4 -.2 .3 -.2 .4 -.1 .7 .7 .4 -.2 .3 -.1 .4 -.2 .4 -.1 .4 0 .4 -.2 .3 -.1 .4 -.2 .4 -.1 0 -.8 .4 -.1 .4 -.1 .3 -.2 .4 -.1 .7 .7 .4 -.1 .3 -.1 .4 -.1 .3 -.2 0 -1.7 .4 -.1 .4 -.1 .3 -.1 .4 -.1 .5 .4 .4 -.1 .4 -.1 .3 -.1 .4 -.1 .5 .8 .3 -.1 .4 -.1 .3 -.1 .4 0 .3 -.6 .4 -.1 .3 -.1 .4 -.1 .3 0 .4 0 .4 0 .3 -.1 .4 0 .4 -.1 .4 .4 .4 0 .4 -.1 .3 0 .4 -.1 .3 .1 .3 -.1 .4 0 .4 0 .3 -.1 .4 -.7 .3 0 .4 0 .3 -.1 .4 0 .3 -.3 .4 0 .3 0 .4 -.1 .3 0 .4 -.2 .4 0 .3 0 .4 0 .4 0 .3 -.7 .4 0 .3 0 .4 0 .4 0 .3 .3 .4 0 .3 0 .4 0 .4 0 .3 .9 .4 .1 .3 0 .4 0 .3 0 .4 .1 .4 0 .3 0 .4 .1 .4 0 .3 -.1 .3 0 .4 .1 .4 0 .3 .1 .4 .4 .3 .1 .4 0 .3 .1 .4 0 .4 -.4 .4 .1 .4 .1 .3 0 .4 .1 .4 -.4 .3 0 .4 .1 .4 .1 .3 .1 .4 -.1 .4 0 .4 .1 .3 .1 .4 .1 .2 .8 .4 .1 .3 .1 .4 .1 .4 .1 .3 .5 .3 .1 .4 .1 .4 .1 .3 .1 .7 -1.2 .3 .1 .4 .1 .4 .1 .4 .2 0 1.1 .4 .1 .4 .1 .3 .2 .4 .1 .5 -.1 .4 .2 .3 .1 .4 .1 .4 .2 .6 -1.1 .4 .2 .4 .1 .4 .2 .3 .1 .3 .9 .4 .1 .3 .2 .4 .2 .4 .1 .1 .2 .4 .2 .4 .1 .4 .2 .3 .2 .5 .1 .4 .2 .3 .2 .4 .1 .4 .2 0 .9 .4 .2 .4 .2 .3 .2 .4 .1 .2 .8 .3 .2 .4 .2 .4 .2 .3 .2 .7 -1 .4 .2 .4 .3 .4 .2 .3 .2 .3 .7 .4 .2 .4 .2 .3 .2 .4 .2 .5 -.3 .3 .3 .4 .2 .4 .2 .3 .3 .5 .2 .4 .3 .4 .2 .3 .2 .4 .3 .3 .4 .4 .2 .3 .3 .4 .2 .4 .3 .7 .3 .3 .3 .4 .2 .4 .3 .4 .3 .2 .2 .4 .3 .4 .2 .3 .3 .4 .3 .1 .7 .4 .3 .3 .3 .4 .3 .4 .3 .9 -.3 .4 .3 .4 .3 .4 .3 .3 .3 .1 .9 .4 .3 .4 .3 .3 .3 .4 .3 .4 -.1 .4 .4 .3 .3 .4 .3 .4 .4 .3 .6 .4 .3 .4 .4 .4 .3 .3 .3 .5 -.2 .4 .3 .4 .4 .4 .3 .4 .4 .4 .5 .4 .4 .4 .4 .4 .3 .4 .4 -.3 1.1 .3 .4 .4 .4 .4 .3 .4 .4 .9 -.2 .3 .4 .4 .4 .4 .4 .4 .4 -.2 .9 .4 .4 .4 .4 .3 .4 .4 .4 .7 .4 .4 .5 .4 .4 .4 .4 .3 .4 .6 .1 .4 .5 .4 .4 .4 .4 .4 .4 .4 -.1 .3 .5 .4 .4 .4 .4 .4 .5 .7 .3 .4 .4 .3 .5 .4 .4 .4 .5 -.5 1.7 .4 .5 .4 .4 .3 .5 .4 .4 .9 -.3 .4 .4 .3 .5 .4 .5 .4 .4 .4 .5 .4 .5 .4 .5 .4 .5 .4 .5 .3 .3 .4 .5 .4 .5 .4 .5 .4 .5 0 .6 .4 .5 .3 .5 .4 .5 .4 .5 .8 .3 .4 .5 .4 .5 .3 .5 .4 .6 .5 .4 .4 .5 .4 .5 .4 .5 .4 .5 .3 .4 .4 .5 .4 .5 .4 .6 .3 .5 .3 .6 .4 .6 .3 .5 .4 .5 .4 .6 .1 1.2 .4 .5 .4 .5 .3 .6 .4 .5 .6 -.2 .4 .6 .4 .5 .4 .5 .4 .6 0 1 .4 .6 .4 .5 .3 .6 .4 .5 1 .1 .4 .6 .3 .5 .4 .6 .4 .5 .5 .6 .3 .6 .4 .5 .4 .6 .4 .6 .6 .5 .4 .6 .4 .5 .4 .6 .3 .6 -.6 .9 .3 .5 .4 .6 .4 .6 .4 .5 .7 .7 .4 .6 .4 .5 .4 .6 .4 .6 1 .1 .4 .5 .4 .6 .4 .6 .3 .6 .4 .7 .4 .5 .3 .6 .4 .6 .4 .6 .4 .6 .4 .5 .4 .6 .4 .6 .4 .6 0 .6 .4 .6 .4 .6 .3 .6 .4 .6 .3 .4 .4 .6 .4 .6 .4 .6 .3 .6 .3 1.1 .4 .6 .4 .6 .4 .6 .4 .6 1 .1 .4 .6 .4 .7 .4 .6 .4 .6 .1 .5 .4 .6 .4 .7 .3 .6 .4 .6 .7 .1 .4 .7 .3 .6 .4 .6 .4 .6 -.6 1.4 .4 .7 .4 .6 .4 .6 .4 .6 .9 .2 .4 .7 .4 .6 .4 .6 .4 .7 .2 1 .4 .6 .4 .6 .4 .7 .4 .6 .2 .5 .4 .7 .4 .7 .3 .6 .4 .7 -.1 1.3 .4 .7 .4 .7 .4 .6 .4 .7 1.1 -.1 .3 .7 .4 .6 .4 .7 .4 .7 -.1 .8 .4 .7 .4 .7 .4 .7 .4 .7 1 .6 .3 .7 .4 .6 .4 .7 .4 .7 -.1 1 .4 .7 .3 .7 .4 .6 .4 .7 .6 .1 .4 .7 .4 .7 .3 .7 .4 .7 .3 1.6 .4 .7 .3 .7 .4 .7 .4 .8 .7 .3 .4 .7 .4 .7 .4 .8 .3 .7 .1 .6 .3 .7 .4 .7 .4 .7 .4 .8 1.1 .6 .4 .7 .4 .8 .4 .7 .4 .7 -.4 .8 .3 .8 .4 .7 .4 .7 .4 .8 .3 .9 .4 .8 .4 .7 .4 .8 .3 .7 .3 .8 .4 .8 .3 .7 .4 .8 .4 .7 1 .3 .4 .8 .4 .7 .4 .8 .4 .7 .1 1.1 .3 .8 .4 .7 .4 .8 .4 .8 .6 .5 .4 .7 .4 .8 .3 .8 .4 .7 .1 1.3 .4 .8 .4 .7 .4 .8 .3 .8 0 .4 .4 .8 .4 .7 .4 .8 .4 .8 .4 .8 .4 .8 .4 .7 .4 .8 .4 .8 .8 .7 .4 .7 .3 .8 .4 .8 .4 .8 .1 .9 .4 .8 .4 .8 .4 .7 .4 .8 .3 .7 .4 .8 .3 .8 .4 .8 .4 .8 .3 .9 .4 .8 .4 .8 .4 .8 .3 .7 .6 .8 .4 .8 .4 .8 .4 .7 .3 .8 .5 .8 .4 .8 .3 .8 .4 .8 .4 .8 .1 .7 .4 .7 .4 .8 .4 .8 .4 .8 .5 1 .4 .8 .4 .8 .4 .7 .4 .8 .3 .6 .4 .8 .4 .8 .4 .8 .4 .8 .3 .8 .4 .8 .4 .7 .4 .8 .3 .8 .8 .7 .4 .8 .3 .8 .4 .8 .4 .8 -.2 .8 .4 .8 .4 .8 .4 .8 .4 .7 .3 1 .4 .8 .4 .8 .4 .8 .4 .7 .7 .4 .4 .7 .4 .8 .4 .8 .3 .8 1.2 .4 .4 .8 .4 .7 .3 .8 .4 .8 -.6 1.4 .4 .8 .4 .8 .3 .7 .4 .8 .5 .8 .4 .7 .3 .8 .4 .8 .4 .7 .3 .9 .4 .8 .3 .8 .4 .7 .4 .8 .7 .8 .3 .7 .4 .8 .4 .8 .4 .7 .2 .2 .4 .8 .4 .8 .4 .7 .3 .8 0 1.3 .4 .8 .4 .8 .4 .7 .4 .8 1 .5 .4 .8 .4 .8 .4 .8 .3 .7 0 1.2 .4 .8 .4 .8 .3 .8 .4 .8 .4 .8 .4 .8 .4 .8 .4 .8 .4 .8 1.1 .1 .4 .8 .4 .8 .4 .8 .4 .8 -.5 1 .4 .8 .3 .8 .4 .8 .4 .8 .6 .8 .3 .8 .4 .8 .4 .8 .4 .8 .5 .7 .4 .8 .4 .8 .4 .8 .4 .8 .8 .7 .4 .8 .4 .8 .3 .8 .4 .8 .1 .8 .4 .8 .4 .8 .4 .8 .4 .9 .2 1 .4 .8 .4 .8 .4 .8 .3 .8 .4 .9 .4 .8 .4 .8 .4 .8 .3 .8 -.3 1.2 .3 .8 .4 .8 .4 .8 .4 .8 .8 .3 .4 .8 .4 .8 .3 .8 .4 .8 1 1.1 .4 .8 .4 .8 .4 .8 .4 .8 -.3 1 .3 .8 .4 .8 .4 .8 .4 .8 .7 .6 .4 .8 .4 .8 .4 .8 .4 .8 -.1 .9 .3 .8 .4 .8 .4 .8 .4 .8 .7 .6 .4 .8 .4 .8 .4 .8 .3 .8 .6 1 .4 .8 .3 .8 .4 .7 .4 .8 -.6 1.1 .4 .8 .4 .8 .4 .8 .3 .8 1.9 .2 .4 .8 .4 .8 .3 .8 .4 .8 .2 .3 .4 .8 .4 .8 .4 .8 .4 .7 -.1 1.3 .4 .8 .4 .7 .4 .8 .3 .8 .6 .7 .4 .8 .4 .8 .4 .7 .4 .8 0 1 .3 .8 .4 .8 .4 .7 .4 .8 .4 .9 .4 .7 .4 .8 .3 .7 .4 .8 1 .7 .4 .7 .4 .8 .3 .7 .4 .8 .7 .2 .4 .8 .4 .7 .4 .8 .4 .8 -.2 1.2 .4 .7 .4 .8 .3 .7 .4 .8 .7 .5 .3 .8 .4 .7 .4 .7 .4 .8 .3 .5 .4 .7 .4 .8 .4 .7 .4 .7 .1 1 .4 .7 .4 .8 .3 .7 .4 .7 -.1 1.3 .3 .7 .4 .7 .4 .7 .4 .8 1.1 .1 .4 .7 .4 .7 .4 .7 .4 .8 -.1 .7 .4 .7 .4 .7 .4 .8 .3 .7 .5 1 .4 .7 .4 .8 .4 .7 .3 .7 .4 .6 .4 .7 .3 .7 .4 .7 .4 .7 .7 .8 .3 .7 .4 .7 .4 .7 .4 .7 .7 -.2 .4 .7 .4 .7 .4 .6 .4 .7 -.2 1.2 .4 .7 .4 .7 .4 .7 .4 .7 -.1 1 .4 .7 .3 .7 .4 .7 .4 .6 1.1 .5 .4 .7 .4 .6 .4 .7 .3 .7 .3 .7 .4 .7 .3 .7 .4 .6 .4 .7 0 .9 .4 .7 .4 .7 .4 .6 .4 .7 1 .1 .4 .7 .3 .6 .4 .7 .4 .7 -.2 1.5 .3 .6 .4 .7 .4 .7 .4 .6 .8 .3 .4 .6 .4 .7 .4 .6 .4 .7 .3 .5 .4 .6 .4 .6 .4 .7 .3 .6 .3 .9 .3 .6 .4 .7 .4 .6 .4 .6 -.2 1.1 .4 .7 .3 .6 .4 .6 .4 .7 .2 0 .3 .6 .4 .7 .4 .6 .4 .6 .9 .7 .4 .7 .4 .6 .4 .6 .4 .6 .9 .6 .4 .6 .4 .6 .3 .6 .4 .6 -.5 .7 .4 .7 .3 .6 .4 .6 .4 .6 .4 1 .4 .6 .4 .6 .4 .6 .4 .6 .6 .2 .4 .6 .3 .6 .4 .6 .4 .5 .3 .7 .4 .6 .4 .5 .4 .6 .4 .6 .7 .3 .4 .6 .3 .5 .4 .6 .4 .6 .3 .8 .4 .5 .4 .6 .3 .6 .4 .6 .5 .7 .4 .6 .4 .6 .4 .5 .4 .6 .3 .2 .3 .6 .4 .6 .4 .5 .4 .6 .3 .4 .3 .6 .4 .5 .4 .6 .4 .5 .3 .9 .3 .5 .4 .6 .4 .5 .4 .5 0 .7 .4 .6 .4 .5 .4 .5 .4 .6 .6 .4 .4 .5 .4 .5 .3 .5 .4 .6 1.1 -.3 .4 .5 .3 .5 .4 .5 .4 .6 .1 .7 .3 .6 .4 .5 .4 .5 .4 .5 .9 .3 .4 .5 .4 .5 .4 .4 .4 .5 0 .7 .4 .5 .4 .5 .4 .5 .4 .5 0 .8 .4 .4 .4 .5 .4 .5 .4 .5 .1 .3 .4 .5 .4 .5 .4 .4 .4 .5 1.2 -.2 .4 .5 .4 .5 .4 .4 .4 .5 .1 .7 .3 .4 .4 .5 .4 .4 .4 .5 -.1 1.2 .4 .4 .4 .5 .3 .4 .4 .5 .9 -.6 .4 .4 .3 .5 .4 .4 .4 .4 -.2 1.4 .4 .4 .4 .5 .4 .4 .4 .4 .5 .3 .3 .4 .4 .5 .4 .4 .4 .4 .2 .7 .4 .4 .4 .4 .4 .4 .4 .5 .3 .7 .4 .4 .4 .4 .4 .4 .4 .4 .7 -.2 .4 .4 .4 .4 .4 .4 .4 .4 .5 .2 .4 .3 .4 .4 .4 .4 .4 .4 .7 0 .4 .4 .4 .4 .4 .4 .4 .4 0 1 .4 .4 .4 .4 .3 .3 .4 .4 .6 .4 .4 .4 .4 .3 .4 .4 .3 .3 -.1 .5 .3 .4 .4 .3 .4 .4 .4 .3 .2 .4 .4 .4 .4 .3 .4 .4 .4 .3 .1 1.1 .4 .4 .4 .3 .3 .3 .4 .4 .8 -.3 .4 .3 .3 .3 .4 .4 .4 .3 .6 .2 .4 .3 .4 .4 .4 .3 .4 .3 .3 .4 .4 .4 .4 .3 .4 .3 .3 .3 .9 -.4 .4 .3 .4 .3 .4 .3 .4 .3 .2 .5 .4 .3 .4 .3 .4 .3 .4 .3 .2 .3 .4 .3 .4 .3 .4 .3 .4 .3 .2 .7 .4 .3 .3 .2 .4 .3 .4 .3 .6 -.1 .3 .3 .4 .3 .4 .2 .4 .3 -.2 1.2 .4 .3 .4 .2 .4 .3 .4 .2 .6 .2 .4 .2 .4 .3 .4 .2 .4 .3 .9 -1.2 .4 .3 .4 .2 .4 .2 .4 .3 .1 .8 .4 .3 .4 .2 .4 .2 .4 .3 0 .8 .4 .3 .4 .2 .4 .2 .4 .2 .5 -.1 .4 .2 .4 .2 .4 .2 .4 .2 .5 -.2 .4 .2 .4 .2 .4 .2 .4 .2 .5 .5 .4 .2 .4 .2 .4 .2 .4 .2 .3 0 .4 .2 .4 .2 .4 .1 .4 .2 .3 .5 .4 .2 .4 .2 .4 .1 .4 .2 .7 -.3 .4 .2 .4 .1 .4 .2 .4 .1 .4 -.5 .4 .1 .4 .1 .4 .2 .4 .1 .2 .5 .4 .1 .4 .2 .4 .1 .4 .1 .5 .1 .4 .1 .4 .1 .4 .2 .4 .1 .4 0 .4 .1 .4 .1 .4 .1 .4 .1 .4 .2 .4 .1 .4 .1 .4 .1 .4 .1 .3 .3 .4 .1 .4 .1 .4 .1 .4 0 .3 .2 .4 .1 .4 0 .4 .1 .4 .1 .5 .4 .4 0 .4 .1 .4 .1 .4 0 .3 .1 .5 0 .4 .1 .4 .1 .4 0 .4 0 .4 .1 .4 0 .4 .1 .4 0 .3 .6 .4 .1 .4 0 .4 .1 .4 0 .6 -1.7 .4 0 .3 0 .4 0 .4 .1 .4 .8 .4 0 .4 0 .4 0 .4 .1 .4 -.2 .4 .1 .4 0 .4 0 .4 0 .4 .3 .4 0 .4 0 .4 0 .4 0 .4 .1 .4 -.1 .4 0 .4 0 .4 0 .5 1 .4 0 .4 -.1 .4 0 .4 0 .3 -1.5 .4 -.1 .4 0 .4 -.1 .4 0 .4 .8 .4 -.1 .4 0 .4 -.1 .4 0 .4 -.9 .4 -.1 .4 0 .4 -.1 .4 0 .4 .3 .4 -.1 .4 -.1 .4 -.1 .4 0 .5 -.2 .4 -.1 .4 -.1 .4 -.1 .4 -.1 .4 .4 .4 -.1 .4 0 .4 -.1 .4 -.1 .4 -.6 .4 -.1 .4 -.1 .4 -.1 .4 -.1 .4 .4 .4 -.1 .4 -.1 .4 -.1 .4 -.1 .4 0 .4 -.1 .4 -.1 .4 -.2 .4 -.1 .3 -.6 .3 -.1 .4 -.1 .4 -.2 .4 -.1 .4 -1 .4 -.1 .4 -.2 .4 -.1 .4 -.2 .4 .6 .4 -.1 .4 -.2 .4 -.2 .4 -.1 .6 .1 .4 -.2 .4 -.1 .4 -.2 .4 -.2 0 -.8 .4 -.2 .4 -.1 .4 -.2 .4 -.2 .6 -.1 .3 -.1 .4 -.2 .4 -.2 .4 -.2 .4 .1 .4 -.2 .4 -.2 .4 -.2 .4 -.2 .5 .1 .4 -.2 .4 -.2 .4 -.2 .4 -.2 -.1 -1.3 .4 -.2 .4 -.2 .4 -.2 .3 -.2 .8 0 .4 -.2 .4 -.2 .4 -.2 .4 -.2 .6 .2 .4 -.3 .4 -.2 .4 -.2 .4 -.2 .1 -.5 .4 -.2 .4 -.2 .3 -.3 .4 -.2 .1 -.9 .4 -.2 .4 -.3 .3 -.2 .4 -.3 1 .8 .4 -.3 .4 -.2 .4 -.3 .4 -.2 .3 -.7 .4 -.2 .3 -.3 .4 -.2 .4 -.3 .4 -.1 .4 -.3 .4 -.2 .4 -.3 .3 -.3 .4 -.4 .4 -.3 .3 -.3 .4 -.3 .4 -.3 .4 -.3 .4 -.3 .4 -.3 .4 -.3 .4 -.3 .3 -.4 .4 -.3 .4 -.3 .3 -.3 .4 -.3 .5 .3 .4 -.3 .3 -.3 .4 -.3 .4 -.3 .5 -.4 .4 -.3 .3 -.3 .4 -.3 .4 -.3 .4 -.5 .4 -.3 .4 -.3 .4 -.3 .3 -.3 .8 .1 .4 -.3 .4 -.4 .4 -.3 .3 -.3 .3 -.6 .4 -.4 .3 -.3 .4 -.3 .4 -.4 .2 -.6 .4 -.3 .4 -.4 .4 -.3 .4 -.3 .5 .2 .4 -.3 .4 -.4 .4 -.3 .3 -.4 -.1 -1.1 .4 -.3 .3 -.4 .4 -.3 .4 -.4 .8 .2 .4 -.3 .4 -.4 .4 -.4 .4 -.3 .1 -.8 .3 -.3 .4 -.4 .4 -.3 .4 -.4 .5 0 .4 -.3 .4 -.4 .4 -.4 .4 -.4 .2 -.8 .4 -.4 .4 -.3 .4 -.4 .4 -.4 .8 .3 .4 -.4 .4 -.4 .3 -.4 .4 -.4 .2 -.8 .4 -.4 .4 -.4 .4 -.4 .4 -.4 -.1 -.5 .4 -.4 .4 -.4 .4 -.4 .4 -.4 .5 -.4 .4 -.4 .3 -.4 .4 -.4 .4 -.4 1.2 .4 .4 -.4 .4 -.5 .3 -.4 .4 -.4 0 -.6 .4 -.4 .4 -.4 .3 -.5 .4 -.4 .1 -.9 .4 -.4 .4 -.4 .4 -.5 .4 -.4 .8 -.1 .4 -.4 .4 -.5 .4 -.4 .4 -.4 .4 -.9 .4 -.4 .4 -.5 .4 -.4 .3 -.5 -.2 -.8 .4 -.4 .3 -.5 .4 -.4 .4 -.5 .9 0 .3 -.4 .4 -.5 .4 -.5 .4 -.4 .1 -.5 .4 -.5 .3 -.5 .4 -.4 .4 -.5 .8 -.4 .4 -.5 .4 -.5 .4 -.5 .3 -.5 0 -.9 .4 -.5 .4 -.5 .4 -.5 .4 -.4 0 -.9 .4 -.4 .4 -.5 .4 -.5 .4 -.5 .4 -.1 .4 -.5 .4 -.5 .4 -.5 .3 -.5 .5 -1 .4 -.5 .3 -.5 .4 -.5 .4 -.5 .8 .1 .4 -.5 .4 -.6 .3 -.5 .4 -.5 .3 -.9 .4 -.5 .4 -.5 .3 -.5 .4 -.5 .3 .1 .4 -.5 .4 -.6 .3 -.5 .4 -.5 -.4 -1.3 .4 -.5 .4 -.5 .4 -.5 .4 -.5 1 .2 .4 -.5 .4 -.5 .3 -.5 .4 -.5 .3 -1.2 .4 -.5 .4 -.5 .4 -.6 .4 -.5 .9 -.3 .4 -.5 .4 -.5 .4 -.5 .4 -.6 -.3 -.5 .4 -.5 .4 -.6 .4 -.5 .4 -.5 .3 -.8 .4 -.5 .4 -.5 .3 -.6 .4 -.5 .5 -.7 .3 -.5 .4 -.5 .4 -.5 .4 -.6 .7 .2 .4 -.5 .4 -.6 .3 -.5 .4 -.5 1 -.3 .4 -.5 .4 -.5 .4 -.5 .4 -.6 .3 -.5 .4 -.5 .4 -.6 .3 -.5 .4 -.5 -.5 -1 .4 -.5 .4 -.6 .4 -.5 .4 -.5 .6 -.3 .4 -.5 .4 -.6 .3 -.5 .4 -.5 .5 -.7 .4 -.6 .3 -.5 .4 -.5 .4 -.6 0 -.2 .4 -.5 .4 -.5 .4 -.6 .4 -.5 .9 -.2 .4 -.6 .4 -.5 .4 -.6 .3 -.5 .3 -.5 .4 -.6 .4 -.5 .4 -.6 .3 -.5 .6 -.7 .4 -.5 .4 -.6 .3 -.5 .4 -.6 .4 -.7 .4 -.5 .4 -.6 .4 -.6 .4 -.5 .4 -.5 .4 -.5 .3 -.6 .4 -.6 .4 -.6 -.7 -1.3 .4 -.6 .3 -.6 .4 -.6 .4 -.6 .8 -.2 .4 -.6 .4 -.6 .4 -.6 .4 -.6 .6 -.6 .4 -.6 .4 -.6 .3 -.6 .4 -.7 .4 -.6 .4 -.6 .4 -.6 .3 -.6 .4 -.7 .2 -.9 .4 -.6 .4 -.6 .4 -.7 .3 -.6 .6 -.4 .4 -.6 .4 -.6 .4 -.7 .3 -.6 .6 -.8 .3 -.7 .4 -.7 .4 -.6 .4 -.7 .2 -.2 .4 -.7 .4 -.7 .4 -.6 .4 -.7 .8 -1.1 .4 -.7 .4 -.7 .4 -.6 .4 -.7 -.3 -.6 .3 -.7 .4 -.7 .4 -.6 .4 -.7 .3 -.5 .4 -.7 .4 -.7 .4 -.6 .4 -.7 1.1 -.3 .4 -.6 .3 -.7 .4 -.7 .4 -.6 -.5 -1.2 .3 -.6 .4 -.7 .4 -.7 .4 -.6 .4 -.9 .4 -.7 .4 -.6 .4 -.7 .4 -.7 .9 -.5 .3 -.7 .4 -.7 .4 -.6 .4 -.7 .2 -.8 .3 -.7 .4 -.7 .4 -.6 .4 -.7 .7 -.1 .4 -.7 .4 -.7 .4 -.6 .4 -.7 .7 -.4 .3 -.7 .4 -.6 .4 -.7 .4 -.7 .1 -.8 .4 -.7 .4 -.7 .4 -.6 .4 -.7 .1 -.8 .4 -.6 .4 -.7 .3 -.7 .4 -.6 .5 -.7 .4 -.6 .4 -.7 .4 -.6 .4 -.7 1 .2 .3 -.7 .4 -.6 .4 -.7 .4 -.6 -.5 -1.7 .4 -.6 .4 -.7 .4 -.6 .4 -.7 .2 -.8 .4 -.6 .4 -.7 .4 -.6 .4 -.6 .8 -.2 .4 -.6 .4 -.7 .3 -.6 .4 -.7 0 -.7 .4 -.7 .3 -.6 .4 -.6 .4 -.7 .6 -.6 .4 -.6 .3 -.6 .4 -.7 .4 -.6 .6 -1.1 .4 -.7 .4 -.6 .4 -.6 .3 -.7 .1 -.3 .4 -.6 .4 -.6 .4 -.6 .4 -.7 .9 -.2 .3 -.7 .4 -.6 .4 -.6 .4 -.6 -.4 -1.1 .3 -.6 .4 -.6 .4 -.6 .4 -.6 .6 -.5 .4 -.6 .4 -.6 .4 -.6 .4 -.6 .5 -.8 .4 -.6 .4 -.6 .3 -.7 .4 -.6 0 -.7 .4 -.6 .4 -.6 .4 -.6 .4 -.7 .7 0 .4 -.6 .4 -.6 .3 -.6 .4 -.6 .7 -.7 .3 -.6 .4 -.6 .4 -.6 .4 -.6 -.4 -1 .4 -.6 .4 -.6 .4 -.6 .4 -.6 .6 -.6 .4 -.6 .3 -.6 .4 -.6 .4 -.6 .4 -.4 .4 -.6 .4 -.6 .4 -.6 .4 -.6 .3 -.7 .4 -.6 .4 -.6 .4 -.6 .4 -.6 .2 -.8 .4 -.6 .3 -.6 .4 -.5 .4 -.6 .6 -.4 .4 -.6 .4 -.5 .4 -.6 .4 -.6 .5 -.2 .4 -.6 .4 -.6 .3 -.5 .4 -.6 .7 0 .4 -.6 .4 -.6 .4 -.6 .4 -.5 -.2 -1.5 .3 -.6 .4 -.6 .4 -.5 .4 -.6 .5 -.2 .4 -.6 .4 -.5 .4 -.6 .4 -.6 .6 .1 .4 -.6 .4 -.5 .4 -.6 .3 -.6 .2 -1.4 .4 -.6 .3 -.5 .4 -.6 .4 -.6 .7 -.2 .4 -.6 .4 -.6 .4 -.5 .4 -.6 0 -.4 .4 -.5 .3 -.6 .4 -.6 .4 -.5 .9 -.9 .3 -.5 .4 -.6 .4 -.5 .4 -.6 .2 -.4 .4 -.6 .4 -.5 .4 -.6 .4 -.5 .3 -.3 .4 -.6 .4 -.6 .4 -.5 .3 -.6 .6 -.1 .3 -.6 .4 -.5 .4 -.6 .4 -.5 0 -1.1 .4 -.6 .3 -.5 .4 -.6 .4 -.5 -.1 -1 .4 -.6 .4 -.5 .4 -.6 .4 -.5 .7 -.6 .3 -.5 .4 -.5 .4 -.6 .4 -.5 .1 -.6 .4 -.5 .4 -.6 .4 -.5 .3 -.6 .1 .2 0 -.6 0 -.5 0 -.5 0 -.6 0 -.7 -1.9 -3.1 -.7 .1 -.4 .5 -.4 .5 -.4 .6 -.4 .5 -.2 .6 -.4 .5 -.3 .6 -.4 .5 -.4 .5 -.3 .5 -.3 .6 -.4 .5 -.4 .6 -.4 .5 -.5 .7 -.4 .5 -.4 .6 -.4 .5 -.3 .6 -.5 .6 -.4 .6 -.4 .5 -.4 .6 -.3 .5 -1.1 .4 -.4 .5 -.4 .6 -.4 .5 -.3 .6 .1 .6 -.4 .5 -.4 .6 -.4 .5 -.4 .6 .1 .6 -.4 .6 -.4 .5 -.4 .6 -.4 .5 -.6 .2 -.4 .5 -.3 .6 -.4 .6 -.4 .5 -.7 1 -.4 .5 -.4 .6 -.4 .6 -.4 .5 .1 .5 -.4 .5 -.3 .6 -.4 .6 -.4 .5 -.7 .4 -.3 .5 -.4 .6 -.4 .6 -.4 .5 -.3 1.3 -.4 .6 -.4 .6 -.4 .5 -.4 .6 .8 .9 -.4 .5 -.4 .6 -.4 .6 -.4 .6 -1.3 -.3 -.3 .5 -.4 .6 -.4 .6 -.4 .5 .1 1.4 -.4 .6 -.4 .6 -.3 .6 -.4 .5 -.4 .3 -.4 .6 -.4 .6 -.4 .5 -.4 .6 -.7 .1 -.4 .6 -.3 .6 -.4 .5 -.4 .6 0 .8 -.4 .6 -.3 .6 -.4 .6 -.4 .6 -.9 .4 -.4 .5 -.3 .6 -.4 .6 -.4 .6 -.5 .7 -.4 .5 -.4 .6 -.4 .6 -.4 .6 -.3 .5 -.3 .6 -.4 .6 -.4 .6 -.4 .6 -.1 1 -.4 .6 -.4 .6 -.3 .6 -.4 .6 -.8 .3 -.4 .6 -.4 .6 -.4 .6 -.4 .6 .2 1.1 -.4 .7 -.4 .6 -.4 .6 -.3 .6 -.8 .1 -.4 .6 -.3 .6 -.4 .6 -.4 .6 0 .8 -.4 .6 -.3 .6 -.4 .6 -.4 .6 -.8 .7 -.4 .6 -.4 .6 -.4 .6 -.4 .6 -.2 .7 -.4 .6 -.4 .7 -.4 .6 -.3 .6 -.5 .5 -.4 .6 -.4 .6 -.4 .7 -.3 .6 -.4 .6 -.3 .7 -.4 .6 -.4 .6 -.4 .7 -.2 .2 -.4 .6 -.3 .7 -.4 .6 -.4 .6 -.3 1.4 -.3 .6 -.4 .6 -.4 .7 -.4 .6 -.8 .4 -.4 .7 -.4 .6 -.4 .7 -.4 .6 -.6 .4 -.4 .6 -.3 .7 -.4 .6 -.4 .6 .1 .8 -.3 .6 -.4 .7 -.4 .6 -.4 .7 -.3 .7 -.4 .6 -.4 .7 -.4 .6 -.4 .7 -.5 1.1 -.4 .6 -.4 .7 -.4 .6 -.4 .7 -.3 .3 -.3 .6 -.4 .7 -.4 .6 -.4 .7 .1 1 -.4 .6 -.4 .7 -.4 .6 -.4 .7 -.4 .6 -.4 .7 -.4 .6 -.4 .7 -.4 .6 .1 1 -.4 .7 -.4 .6 -.4 .7 -.4 .7 -1.6 -.2 -.4 .7 -.4 .7 -.4 .6 -.4 .7 .2 .7 -.4 .6 -.4 .7 -.4 .7 -.4 .6 -.2 .8 -.4 .7 -.3 .7 -.4 .6 -.4 .7 -.5 .8 -.4 .7 -.4 .6 -.3 .7 -.4 .7 -1.1 .5 -.3 .7 -.4 .6 -.4 .7 -.4 .7 .2 .9 -.4 .7 -.4 .6 -.4 .7 -.3 .7 -1 .3 -.4 .7 -.4 .6 -.3 .7 -.4 .7 1 1.3 -.4 .7 -.3 .6 -.4 .7 -.4 .7 -1.6 -.5 -.4 .7 -.4 .6 -.4 .7 -.3 .6 0 1.7 -.4 .7 -.4 .6 -.4 .7 -.4 .6 -.7 0 -.3 .7 -.4 .7 -.4 .6 -.4 .7 .2 1.2 -.3 .6 -.4 .7 -.4 .6 -.4 .6 -.9 .2 -.3 .6 -.4 .7 -.4 .6 -.4 .6 -.6 .6 -.4 .6 -.4 .7 -.4 .6 -.4 .6 -.3 .6 -.3 .6 -.4 .6 -.4 .6 -.4 .6 0 1 -.4 .6 -.3 .6 -.4 .6 -.4 .6 -.3 .5 -.4 .6 -.4 .6 -.4 .6 -.3 .5 -.7 .4 -.4 .6 -.3 .6 -.4 .5 -.4 .6 -.4 .4 -.4 .6 -.4 .5 -.4 .6 -.4 .6 -.1 .8 -.4 .5 -.3 .6 -.4 .5 -.4 .6 -.8 .4 -.4 .6 -.4 .5 -.4 .5 -.3 .6 .1 .8 -.4 .5 -.4 .5 -.4 .6 -.3 .5 -.5 .6 -.4 .5 -.4 .5 -.4 .6 -.4 .5 -.5 -.1 -.3 .5 -.4 .5 -.4 .5 -.4 .5 -.1 1.1 -.4 .5 -.3 .5 -.4 .5 -.4 .5 -1.2 0 -.4 .5 -.3 .5 -.4 .5 -.4 .5 .1 .8 -.3 .5 -.4 .5 -.4 .5 -.4 .5 -.7 .3 -.4 .6 -.4 .5 -.4 .5 -.3 .5 .3 1.3 -.4 .5 -.4 .5 -.4 .5 -.3 .6 -.9 -.3 -.4 .6 -.3 .5 -.4 .5 -.4 .5 -.5 .7 -.3 .5 -.4 .5 -.4 .6 -.4 .5 .4 1.3 -.4 .5 -.4 .5 -.4 .5 -.4 .6 -1.2 -.6 -.4 .6 -.4 .5 -.4 .5 -.3 .5 -.1 1 -.4 .5 -.4 .5 -.4 .5 -.4 .6 -.4 1 -.4 .5 -.4 .5 -.4 .5 -.3 .6 .2 .6 -.4 .6 -.4 .5 -.3 .5 -.4 .5 -.8 .4 -.4 .5 -.4 .5 -.3 .6 -.4 .5 -.5 -.3 -.4 .5 -.4 .5 -.4 .5 -.4 .5 .2 1.2 -.4 .5 -.4 .5 -.4 .5 -.3 .5 -.9 -.1 -.4 .5 -.4 .5 -.4 .5 -.4 .5 -.7 .8 -.4 .5 -.4 .5 -.3 .5 -.4 .5 -.4 0 -.4 .5 -.4 .5 -.3 .5 -.4 .5 0 .9 -.3 .5 -.4 .5 -.4 .4 -.4 .5 -.4 .6 -.3 .5 -.4 .4 -.4 .5 -.4 .5 -.7 .5 -.4 .4 -.4 .5 -.4 .5 -.3 .4 -.2 .4 -.4 .4 -.4 .5 -.4 .5 -.4 .4 -.6 .2 -.3 .4 -.4 .5 -.4 .4 -.4 .5 -.2 .3 -.4 .4 -.4 .5 -.4 .4 -.4 .4 -.4 .9 -.4 .4 -.3 .4 -.4 .4 -.4 .5 -.4 .5 -.3 .4 -.4 .4 -.4 .4 -.4 .5 -.2 .7 -.4 .4 -.4 .4 -.4 .4 -.4 .4 -.5 0 -.4 .4 -.4 .4 -.4 .4 -.3 .5 -.4 .3 -.4 .4 -.4 .4 -.4 .4 -.3 .4 -.3 .6 -.4 .4 -.4 .3 -.4 .4 -.4 .4 .3 .7 -.4 .4 -.4 .4 -.3 .3 -.4 .4 -.8 .3 -.4 .3 -.4 .4 -.4 .4 -.3 .3 -1.2 -.6 -.4 .4 -.3 .4 -.4 .3 -.4 .4 .4 1.4 -.4 .4 -.4 .4 -.4 .3 -.3 .4 -.6 0 -.3 .3 -.4 .4 -.4 .3 -.4 .4 .1 .9 -.4 .3 -.3 .4 -.4 .3 -.4 .4 -.9 -.2 -.3 .3 -.4 .3 -.4 .4 -.4 .3 -1 -.2 -.4 .3 -.4 .3 -.3 .3 -.4 .4 -.1 .3 -.3 .3 -.4 .3 -.4 .3 -.4 .4 .4 1.2 -.4 .3 -.4 .4 -.4 .3 -.4 .3 -.5 .3 -.4 .3 -.4 .3 -.3 .3 -.4 .3 -.4 .3 -.4 .3 -.4 .3 -.4 .3 -.3 .3 .1 1 -.4 .3 -.4 .3 -.3 .3 -.4 .3 -1.4 -.8 -.4 .3 -.4 .3 -.3 .3 -.4 .3 -.2 0 -.4 .3 -.4 .3 -.3 .2 -.4 .3 -.1 .7 -.4 .2 -.4 .3 -.3 .3 -.4 .3 -.9 -.3 -.3 .3 -.4 .2 -.4 .3 -.4 .2 -.2 .6 -.4 .3 -.3 .2 -.4 .3 -.4 .2 -.3 .1 -.4 .3 -.4 .2 -.3 .3 -.4 .2 -.5 .3 -.4 .2 -.3 .3 -.4 .2 -.4 .2 -.3 .3 -.4 .2 -.4 .2 -.3 .3 -.4 .2 -.5 .2 -.3 .2 -.4 .2 -.4 .2 -.4 .2 -.1 .4 -.3 .2 -.4 .2 -.4 .2 -.4 .2 -.6 -.2 -.4 .2 -.4 .2 -.3 .2 -.4 .2 -.1 1 -.4 .2 -.4 .2 -.3 .2 -.4 .2 -.5 .1 -.3 .2 -.4 .2 -.4 .2 -.4 .1 -.3 .4 -.3 .2 -.4 .1 -.4 .2 -.4 .2 -.4 -.3 -.4 .1 -.4 .2 -.3 .2 -.4 .1 -.1 1.1 -.4 .1 -.3 .2 -.4 .1 -.4 .2 -.5 -.4 -.4 .2 -.3 .1 -.4 .2 -.4 .1 -.3 .5 -.4 .1 -.4 .1 -.3 .2 -.4 .1 -.2 -.1 -.4 .2 -.4 .1 -.4 .1 -.3 .1 -.7 .1 -.4 .1 -.3 .1 -.4 .1 -.4 .1 0 1.1 -.4 .1 -.4 .2 -.3 .1 -.4 .1 -.4 -.5 -.4 .1 -.4 .1 -.4 .1 -.3 .1 -.6 -1.1 -.4 .1 -.4 0 -.3 .1 -.4 .1 -.3 .7 -.3 .1 -.4 .1 -.3 0 -.4 .1 -.2 .7 -.4 .1 -.4 0 -.3 .1 -.4 .1 -.7 -1.3 -.4 .1 -.3 0 -.4 .1 -.3 .1 -.2 .8 -.3 0 -.4 .1 -.4 0 -.3 .1 -.5 .4 -.3 0 -.4 .1 -.4 0 -.3 .1 -.3 .2 -.4 0 -.4 0 -.3 .1 -.4 0 -.4 -.2 -.3 .1 -.4 0 -.4 0 -.3 0 -.4 0 -.3 0 -.4 0 -.4 0 -.3 0 -.4 -.4 -.4 0 -.3 0 -.4 0 -.4 0 -.3 -.3 -.4 0 -.3 0 -.4 0 -.4 0 -.3 .5 -.4 0 -.4 0 -.3 -.1 -.4 0 -.4 .4 -.3 0 -.4 0 -.4 0 -.3 -.1 -.4 -.5 -.3 0 -.4 -.1 -.4 0 -.3 0 -.4 .2 -.3 -.1 -.4 0 -.4 -.1 -.3 0 -.4 -.1 -.3 0 -.4 -.1 -.4 0 -.3 -.1 -.4 .2 -.4 -.1 -.3 -.1 -.4 0 -.4 -.1 -.4 -.3 -.3 -.1 -.4 0 -.4 -.1 -.3 -.1 -.5 .8 -.4 -.1 -.4 0 -.3 -.1 -.4 -.1 -.1 -1 -.4 -.1 -.4 -.1 -.3 -.1 -.4 0 -.5 .5 -.4 -.1 -.4 -.1 -.3 -.1 -.4 -.1 -.1 -1.1 -.4 -.1 -.3 -.1 -.4 -.1 -.3 -.1 -.6 .1 -.3 -.1 -.4 -.1 -.4 -.2 -.3 -.1 -.2 -.6 -.3 -.1 -.4 -.1 -.3 -.1 -.4 -.2 -.5 1 -.4 -.1 -.4 -.2 -.3 -.1 -.4 -.1 -.4 -.3 -.4 -.1 -.4 -.2 -.3 -.1 -.4 -.2 -.6 .2 -.4 -.2 -.4 -.1 -.3 -.2 -.4 -.1 -.1 -.6 -.3 -.1 -.4 -.2 -.4 -.1 -.4 -.2 -.8 .4 -.4 -.2 -.4 -.2 -.3 -.1 -.4 -.2 0 -.9 -.4 -.2 -.4 -.2 -.3 -.1 -.4 -.2 -.3 -.2 -.4 -.2 -.3 -.2 -.4 -.2 -.4 -.2 -.5 0 -.4 -.2 -.3 -.2 -.4 -.2 -.4 -.2 -.2 -.7 -.4 -.2 -.3 -.2 -.4 -.2 -.4 -.3 .2 -.6 -.4 -.2 -.4 -.2 -.3 -.3 -.4 -.2 -.7 0 -.4 -.2 -.3 -.3 -.4 -.2 -.4 -.2 -.7 .2 -.3 -.3 -.4 -.2 -.4 -.3 -.4 -.2 -.5 .1 -.4 -.3 -.4 -.2 -.3 -.3 -.4 -.2 .4 -1.5 -.4 -.3 -.4 -.2 -.3 -.3 -.4 -.3 -1 .7 -.3 -.2 -.4 -.3 -.4 -.3 -.4 -.3 -.4 -.2 -.4 -.3 -.4 -.3 -.4 -.3 -.3 -.3 -.3 -.3 -.4 -.3 -.4 -.3 -.3 -.3 -.4 -.3 .3 -1.1 -.4 -.3 -.4 -.3 -.3 -.3 -.4 -.3 -1.1 .4 -.4 -.3 -.4 -.4 -.4 -.3 -.3 -.3 -.6 .1 -.4 -.3 -.3 -.3 -.4 -.3 -.4 -.4 -.3 -.9 -.4 -.3 -.3 -.3 -.4 -.3 -.4 -.4 -.4 -.1 -.3 -.4 -.4 -.3 -.4 -.4 -.4 -.3 -.4 .2 -.4 -.4 -.3 -.3 -.4 -.4 -.4 -.3 0 -1 -.4 -.3 -.4 -.4 -.4 -.3 -.3 -.4 -.3 -.7 -.4 -.4 -.4 -.4 -.4 -.3 -.3 -.4 -.7 -.1 -.4 -.3 -.4 -.4 -.4 -.4 -.4 -.4 -.7 0 -.4 -.3 -.3 -.4 -.4 -.4 -.4 -.4 -.7 .1 -.3 -.4 -.4 -.4 -.4 -.4 -.4 -.4 -.2 -.8 -.4 -.4 -.4 -.4 -.4 -.4 -.4 -.4 .1 -.9 -.4 -.4 -.4 -.5 -.4 -.4 -.3 -.4 -.3 -.5 -.3 -.4 -.4 -.4 -.4 -.4 -.4 -.4 -.6 -.7 -.3 -.4 -.4 -.5 -.4 -.4 -.4 -.4 -.7 .4 -.3 -.4 -.4 -.5 -.4 -.4 -.4 -.4 .2 -1.3 -.4 -.4 -.4 -.5 -.3 -.4 -.4 -.4 -.4 -.5 -.4 -.4 -.4 -.5 -.4 -.4 -.3 -.5 -.8 -.2 -.4 -.5 -.3 -.5 -.4 -.4 -.4 -.5 -.6 .1 -.4 -.5 -.4 -.5 -.4 -.4 -.3 -.5 -.1 -.8 -.4 -.5 -.3 -.4 -.4 -.5 -.4 -.5 -.9 0 -.4 -.5 -.4 -.5 -.3 -.5 -.4 -.5 .4 -1.3 -.4 -.5 -.4 -.5 -.4 -.5 -.4 -.5 0 -.7 -.4 -.5 -.4 -.5 -.4 -.5 -.4 -.5 -.7 0 -.4 -.5 -.4 -.5 -.4 -.5 -.4 -.5 -.7 -.4 -.3 -.5 -.4 -.5 -.4 -.5 -.4 -.6 0 -.7 -.4 -.5 -.4 -.5 -.3 -.6 -.4 -.5 -.2 -.9 -.4 -.6 -.3 -.5 -.4 -.5 -.4 -.6 -.7 -.1 -.4 -.6 -.4 -.5 -.4 -.6 -.3 -.5 -.4 -.2 -.4 -.6 -.4 -.5 -.3 -.6 -.4 -.5 -.9 -.6 -.3 -.5 -.4 -.6 -.4 -.6 -.4 -.5 .2 -1.1 -.4 -.6 -.4 -.6 -.3 -.5 -.4 -.6 -.3 -.5 -.4 -.6 -.4 -.6 -.4 -.6 -.3 -.5 -.7 -.5 -.4 -.5 -.4 -.6 -.4 -.6 -.3 -.6 -.8 0 -.4 -.6 -.4 -.6 -.4 -.6 -.4 -.6 0 -1.3 -.4 -.6 -.4 -.6 -.4 -.6 -.4 -.6 -.3 -.1 -.4 -.6 -.4 -.6 -.4 -.6 -.4 -.6 -.4 -.9 -.4 -.6 -.4 -.6 -.4 -.6 -.3 -.6 -.4 -1.1 -.4 -.6 -.3 -.7 -.4 -.6 -.4 -.6 -.6 .2 -.4 -.6 -.3 -.6 -.4 -.7 -.4 -.6 0 -.9 -.4 -.7 -.4 -.6 -.4 -.6 -.4 -.7 -.2 -.8 -.4 -.6 -.3 -.7 -.4 -.6 -.4 -.7 -.2 -.5 -.3 -.7 -.4 -.6 -.4 -.7 -.4 -.6 -.9 -.2 -.4 -.7 -.4 -.6 -.3 -.7 -.4 -.7 -.4 -1.1 -.4 -.7 -.4 -.6 -.4 -.7 -.3 -.6 -.4 -.5 -.4 -.7 -.4 -.6 -.4 -.7 -.3 -.7 .4 -1.1 -.4 -.7 -.4 -.7 -.3 -.7 -.4 -.6 -.4 -.7 -.4 -.6 -.4 -.7 -.4 -.7 -.3 -.7 -1.3 -.3 -.4 -.7 -.4 -.7 -.4 -.6 -.4 -.7 .5 -1.2 -.4 -.7 -.4 -.7 -.3 -.7 -.4 -.7 -1.7 -.2 -.3 -.7 -.4 -.7 -.4 -.7 -.4 -.6 .9 -.7 -.4 -.7 -.4 -.7 -.4 -.7 -.3 -.7 -.9 -.7 -.4 -.7 -.4 -.7 -.4 -.7 -.4 -.7 -.7 -.3 -.4 -.7 -.4 -.8 -.3 -.7 -.4 -.7 0 -1.3 -.3 -.7 -.4 -.7 -.4 -.8 -.4 -.7 -1 -.2 -.4 -.7 -.3 -.7 -.4 -.7 -.4 -.7 .1 -.8 -.4 -.7 -.4 -.7 -.4 -.8 -.3 -.7 -.8 -.7 -.4 -.7 -.4 -.7 -.4 -.8 -.4 -.7 -.2 -.9 -.4 -.7 -.4 -.8 -.4 -.7 -.4 -.8 -.1 -.5 -.4 -.8 -.4 -.7 -.4 -.7 -.4 -.8 -.4 -.6 -.4 -.8 -.4 -.7 -.3 -.8 -.4 -.7 -.7 -.8 -.4 -.7 -.4 -.8 -.4 -.7 -.4 -.8 -.4 -.4 -.4 -.7 -.4 -.8 -.4 -.7 -.3 -.8 0 -1.1 -.4 -.8 -.3 -.8 -.4 -.7 -.4 -.8 .2 -1.2 -.4 -.7 -.3 -.8 -.4 -.8 -.4 -.7 -.2 -.9 -.4 -.8 -.4 -.8 -.3 -.7 -.4 -.8 -1.2 -.5 -.4 -.7 -.4 -.8 -.3 -.8 -.4 -.8 -.8 -.8 -.3 -.8 -.4 -.8 -.4 -.7 -.4 -.8 .1 -.5 -.3 -.8 -.4 -.8 -.4 -.8 -.4 -.8 -.6 -.8 -.4 -.8 -.3 -.8 -.4 -.8 -.4 -.8 -.5 -.5 -.4 -.8 -.4 -.8 -.4 -.8 -.3 -.8 -.1 -1.2 -.4 -.8 -.4 -.8 -.3 -.8 -.4 -.7 -.4 -.9 -.4 -.8 -.4 -.8 -.4 -.8 -.4 -.7 -.8 -.5 -.4 -.8 -.3 -.8 -.4 -.8 -.4 -.8 -.1 -.9 -.3 -.8 -.4 -.8 -.4 -.8 -.4 -.8 -.7 -.5 -.4 -.8 -.4 -.8 -.4 -.8 -.3 -.9 -.5 -1.3 -.4 -.8 -.4 -.8 -.4 -.8 -.4 -.8 -.5 -.4 -.4 -.8 -.4 -.8 -.4 -.8 -.4 -.8 0 -.9 -.4 -.8 -.4 -.8 -.4 -.8 -.3 -.8 -.9 -.7 -.4 -.8 -.3 -.8 -.4 -.8 -.4 -.8 .2 -1.3 -.4 -.8 -.3 -.8 -.4 -.8 -.4 -.8 -.5 -.6 -.4 -.9 -.4 -.8 -.3 -.8 -.4 -.8 -.1 -1.1 -.4 -.8 -.4 -.8 -.3 -.8 -.4 -.8 -.6 -.6 -.3 -.8 -.4 -.8 -.4 -.9 -.4 -.8 -.6 -.7 -.4 -.8 -.4 -.8 -.3 -.8 -.4 -.8 0 -.8 -.4 -.8 -.4 -.8 -.4 -.8 -.3 -.8 -.8 -.4 -.3 -.7 -.4 -.8 -.4 -.8 -.4 -.8 -.5 -.8 -.4 -.8 -.4 -.8 -.4 -.8 -.4 -.8 .6 -1.4 -.4 -.8 -.4 -.8 -.4 -.8 -.3 -.8 -.9 -.5 -.4 -.8 -.4 -.8 -.4 -.8 -.4 -.7 -.5 -1.1 -.4 -.7 -.4 -.8 -.4 -.8 -.4 -.8 0 -.2 -.4 -.8 -.4 -.8 -.4 -.8 -.4 -.7 -.8 -.7 -.3 -.8 -.4 -.7 -.4 -.8 -.4 -.8 .3 -1.1 -.4 -.8 -.4 -.8 -.4 -.7 -.4 -.8 -.8 -.6 -.4 -.7 -.4 -.8 -.4 -.8 -.3 -.7 -.5 -1 -.4 -.7 -.3 -.8 -.4 -.8 -.4 -.8 -.2 -.8 -.4 -.8 -.4 -.8 -.4 -.7 -.4 -.8 -.3 -.6 -.4 -.7 -.3 -.8 -.4 -.8 -.4 -.8 -.7 -.8 -.4 -.8 -.4 -.7 -.4 -.8 -.3 -.8 -.2 -.7 -.4 -.8 -.4 -.7 -.4 -.8 -.3 -.8 -.4 -.9 -.4 -.8 -.4 -.8 -.4 -.7 -.4 -.8 -.7 -.6 -.3 -.8 -.4 -.8 -.4 -.8 -.4 -.8 0 -.8 -.4 -.8 -.3 -.7 -.4 -.8 -.4 -.8 .4 -1.4 -.4 -.8 -.4 -.8 -.4 -.8 -.4 -.8 -1.4 -.1 -.4 -.7 -.3 -.8 -.4 -.8 -.4 -.8 -.6 -.7 -.4 -.8 -.4 -.8 -.4 -.8 -.4 -.8 .4 -1.1 -.4 -.8 -.4 -.8 -.4 -.8 -.4 -.8 -.5 -.8 -.4 -.8 -.4 -.8 -.4 -.8 -.4 -.8 -.3 -.6 -.4 -.8 -.4 -.8 -.3 -.8 -.4 -.8 -.8 -.5 -.4 -.8 -.4 -.8 -.4 -.8 -.4 -.8 -.1 -1 -.4 -.7 -.4 -.8 -.4 -.8 -.4 -.8 -.5 -.7 -.4 -.8 -.4 -.8 -.4 -.8 -.4 -.7 -.5 -.2 -.4 -.8 -.3 -.7 -.4 -.8 -.4 -.8 .3 -1.4 -.4 -.8 -.4 -.8 -.4 -.7 -.4 -.8 -.3 -.7 -.4 -.7 -.4 -.8 -.3 -.7 -.4 -.8 -1.2 -.6 -.4 -.7 -.4 -.8 -.4 -.7 -.4 -.8 .5 -1 -.4 -.8 -.4 -.7 -.4 -.8 -.4 -.7 -.5 -.7 -.4 -.7 -.4 -.8 -.3 -.7 -.4 -.8 -1 -.6 -.4 -.7 -.4 -.8 -.4 -.7 -.3 -.8 .2 -.7 -.4 -.7 -.3 -.8 -.4 -.7 -.4 -.7 -1 -.8 -.3 -.7 -.4 -.7 -.4 -.8 -.4 -.7 .5 -.8 -.4 -.8 -.4 -.7 -.4 -.7 -.4 -.7 -1 -.2 -.4 -.7 -.4 -.7 -.4 -.7 -.4 -.7 -.5 -1.5 -.4 -.7 -.3 -.7 -.4 -.7 -.4 -.7 .1 -.5 -.4 -.7 -.4 -.7 -.4 -.7 -.4 -.7 -.2 -.7 -.3 -.7 -.4 -.7 -.4 -.7 -.4 -.7 -.8 -.7 -.4 -.7 -.4 -.7 -.4 -.7 -.3 -.7 -1.1 -.2 -.4 -.7 -.4 -.7 -.3 -.6 -.4 -.7 .5 -.8 -.4 -.7 -.4 -.7 -.4 -.6 -.3 -.7 -.4 -1.2 -.4 -.6 -.3 -.7 -.4 -.6 -.4 -.7 -.9 -.2 -.3 -.6 -.4 -.7 -.4 -.6 -.4 -.7 .6 -1.4 -.4 -.7 -.4 -.6 -.4 -.7 -.4 -.6 -1.3 0 -.3 -.6 -.4 -.7 -.4 -.6 -.4 -.6 -.2 -1 -.4 -.6 -.3 -.7 -.4 -.6 -.4 -.6 -.4 -.3 -.4 -.6 -.4 -.7 -.4 -.6 -.3 -.6 0 -.7 -.3 -.6 -.4 -.6 -.4 -.6 -.4 -.7 -.8 -.3 -.4 -.6 -.3 -.6 -.4 -.6 -.4 -.6 -.2 -1.1 -.4 -.6 -.4 -.6 -.4 -.6 -.4 -.6 -.3 -.5 -.4 -.6 -.3 -.6 -.4 -.6 -.4 -.6 -.7 -.2 -.4 -.6 -.3 -.5 -.4 -.6 -.4 -.6 0 -.9 -.3 -.6 -.4 -.6 -.4 -.6 -.4 -.6 -.6 -.5 -.3 -.6 -.4 -.5 -.4 -.6 -.4 -.6 -.4 -.5 -.3 -.6 -.4 -.6 -.4 -.6 -.4 -.5 -.3 -1 -.4 -.6 -.3 -.6 -.4 -.6 -.4 -.5 -.7 0 -.4 -.5 -.4 -.6 -.4 -.6 -.4 -.5 -.4 -.7 -.3 -.6 -.4 -.6 -.4 -.5 -.4 -.6 -.2 -.7 -.4 -.6 -.4 -.6 -.4 -.5 -.3 -.6 -.4 -.6 -.3 -.5 -.4 -.6 -.4 -.5 -.4 -.6 -.7 -.5 -.4 -.6 -.4 -.5 -.4 -.6 -.4 -.5 0 -.2 -.4 -.6 -.4 -.5 -.4 -.6 -.4 -.5 -.2 -1.1 -.4 -.6 -.3 -.5 -.4 -.5 -.4 -.6 -.8 -.2 -.4 -.6 -.3 -.5 -.4 -.5 -.4 -.6 .3 -.8 -.4 -.5 -.4 -.6 -.4 -.5 -.4 -.5 -.6 -.3 -.4 -.5 -.4 -.5 -.4 -.6 -.4 -.5 .1 -1 -.4 -.5 -.4 -.5 -.4 -.5 -.3 -.5 -1.3 .3 -.4 -.5 -.4 -.5 -.3 -.5 -.4 -.5 -.6 -.2 -.4 -.5 -.4 -.5 -.4 -.5 -.3 -.5 -.2 -.7 -.4 -.5 -.4 -.5 -.4 -.4 -.4 -.5 -.2 -.2 -.4 -.5 -.4 -.4 -.3 -.5 -.4 -.5 -.3 -1 -.4 -.5 -.4 -.4 -.4 -.5 -.4 -.5 .1 -1 -.4 -.4 -.3 -.5 -.4 -.4 -.4 -.5 -.8 .4 -.3 -.4 -.4 -.5 -.4 -.4 -.4 -.5 -.5 -.2 -.4 -.4 -.4 -.4 -.4 -.5 -.4 -.4 .2 -1.2 -.4 -.5 -.4 -.4 -.4 -.4 -.4 -.4 -.8 0 -.4 -.4 -.4 -.4 -.4 -.4 -.4 -.4 -.1 -.6 -.3 -.4 -.4 -.4 -.4 -.4 -.4 -.4 -.5 -.3 -.4 -.4 -.4 -.4 -.4 -.4 -.4 -.4 -.2 -.7 -.4 -.4 -.4 -.4 -.4 -.4 -.4 -.3 -.4 .1 -.4 -.4 -.3 -.4 -.4 -.4 -.4 -.3 -.2 -.8 -.4 -.3 -.4 -.4 -.4 -.4 -.4 -.3 -.5 .2 -.4 -.3 -.4 -.4 -.4 -.3 -.4 -.3 -.6 -.2 -.4 -.3 -.4 -.3 -.4 -.4 -.4 -.3 0 -.9 -.4 -.3 -.4 -.3 -.4 -.4 -.4 -.3 -.6 0 -.4 -.3 -.4 -.3 -.4 -.3 -.4 -.3 -1 .7 -.4 -.2 -.4 -.3 -.4 -.3 -.4 -.3 .2 -1.5 -.4 -.3 -.4 -.3 -.4 -.3 -.3 -.2 -1 .5 -.4 -.2 -.4 -.3 -.4 -.3 -.4 -.2 .3 -1.5 -.4 -.2 -.4 -.3 -.4 -.3 -.4 -.2 -.7 .7 -.4 -.2 -.4 -.2 -.4 -.3 -.4 -.2 -.5 -.4 -.4 -.2 -.4 -.2 -.4 -.3 -.4 -.2 .4 -1.1 -.3 -.2 -.4 -.3 -.4 -.2 -.4 -.2 -1 .7 -.4 -.2 -.4 -.2 -.4 -.3 -.4 -.2 -.2 -.5 -.4 -.2 -.4 -.2 -.4 -.2 -.4 -.2 -.4 -.4 -.4 -.1 -.4 -.2 -.4 -.2 -.4 -.2 -.2 -.1 -.4 -.2 -.4 -.2 -.4 -.1 -.4 -.2 -.7 -.1 -.4 -.2 -.4 -.2 -.4 -.1 -.3 -.2 -.3 -.1 -.4 -.2 -.4 -.1 -.4 -.2 -.4 -.2 -.4 -.2 -.4 -.1 -.4 -.2 -.4 -.1 -.4 -.2 -.4 -.3 -.4 -.2 -.4 -.1 -.4 -.1 -.4 -.2 -.3 .1 -.4 -.1 -.4 -.1 -.4 -.2 -.4 -.1 -.6 .2 -.4 -.1 -.4 -.1 -.4 -.1 -.4 -.1 -.5 .2 -.4 -.1 -.4 -.1 -.4 -.1 -.4 -.1 -.4 -.1 -.4 -.1 -.4 -.1 -.4 0 -.4 -.1 -.3 -.4 -.4 -.1 -.4 0 -.4 -.1 -.4 -.1 -.4 -.3 -.4 -.1 -.4 0 -.4 -.1 -.4 -.1 -.4 .2 -.4 -.1 -.4 0 -.4 -.1 -.4 0 -.5 .5 -.4 0 -.4 -.1 -.4 0 -.4 0 -.3 -.7 -.5 -.1 -.4 0 -.4 0 -.4 0 -.4 .3 -.4 0 -.4 0 -.4 0 -.4 0 -.4 -.7 -.4 0 -.4 0 -.4 0 -.4 0 -.4 .3 -.4 0 -.4 0 -.4 0 -.4 0 -.4 .1 -.5 0 -.4 0 -.4 0 -.4 .1 -.4 -.1 -.4 0 -.4 0 -.4 .1 -.4 0 -.4 .9 -.4 0 -.4 .1 -.4 0 -.4 .1 -.4 -.8 -.4 .1 -.4 0 -.4 .1 -.4 .1 -.5 .1 -.4 .1 -.4 .1 -.4 .1 -.4 .1 -.3 .3 -.4 .1 -.4 0 -.4 .1 -.4 .1 -.5 0 -.4 .1 -.4 .1 -.4 .1 -.4 .1 -.2 .3 -.4 .1 -.4 .2 -.4 .1 -.4 .1 -.6 -.5 -.4 .2 -.4 .1 -.4 .1 -.4 .1 -.5 .3 -.4 .1 -.4 .2 -.4 .1 -.4 .1 -.3 .8 -.4 .1 -.4 .2 -.4 .1 -.4 .2 -.3 .1 -.4 .2 -.4 .2 -.4 .1 -.4 .2 -.2 .7 -.4 .2 -.4 .2 -.4 .1 -.3 .2 -.7 -.5 -.4 .2 -.4 .2 -.4 .2 -.4 .1 -.3 .1 -.4 .2 -.4 .2 -.4 .2 -.4 .2 -.5 .3 -.4 .2 -.4 .2 -.4 .2 -.4 .2 -.2 .6 -.4 .2 -.4 .2 -.4 .3 -.4 .2 -.4 .4 -.4 .2 -.4 .2 -.4 .3 -.3 .2 -.4 .2 -.4 .2 -.4 .3 -.4 .3 -.4 .2 -.4 .4 -.4 .2 -.4 .3 -.4 .3 -.4 .2 -.8 -.4 -.4 .3 -.4 .3 -.4 .2 -.4 .3 0 .9 -.4 .3 -.4 .3 -.4 .3 -.4 .3 -.3 .2 -.4 .3 -.4 .3 -.4 .3 -.3 .3 -.8 -.1 -.4 .3 -.4 .3 -.4 .3 -.4 .4 -.7 0 -.4 .3 -.4 .4 -.4 .3 -.3 .4 0 .8 -.4 .3 -.4 .4 -.3 .3 -.4 .4 -.4 .2 -.4 .3 -.3 .4 -.4 .3 -.4 .4 -.7 .3 -.4 .3 -.4 .4 -.4 .4 -.4 .4 -.2 .1 -.4 .4 -.4 .4 -.4 .4 -.4 .4 -.1 .7 -.4 .4 -.4 .4 -.4 .4 -.4 .4 -.8 .2 -.4 .4 -.4 .4 -.4 .4 -.4 .4 .2 .9 -.4 .4 -.4 .5 -.4 .4 -.3 .4 -.4 0 -.4 .4 -.4 .4 -.4 .4 -.4 .4 -1.1 .1 -.3 .4 -.4 .4 -.4 .5 -.4 .4 .4 .9 -.4 .4 -.3 .4 -.4 .5 -.4 .4 -.3 1.1 -.4 .5 -.4 .4 -.3 .5 -.4 .5 -.8 .2 -.4 .5 -.4 .5 -.4 .4 -.4 .5 0 .3 -.4 .4 -.4 .5 -.4 .5 -.3 .5 -1.3 .3 -.3 .4 -.4 .5 -.4 .5 -.4 .5 .3 .7 -.4 .5 -.4 .5 -.3 .5 -.4 .6 -.3 .7 -.4 .5 -.3 .5 -.4 .5 -.4 .5 -.9 0 -.4 .5 -.4 .5 -.4 .6 -.3 .5 .1 1.1 -.4 .5 -.4 .6 -.4 .5 -.4 .6 -.4 .7 -.4 .5 -.4 .6 -.4 .5 -.4 .6 .3 1.3 -.4 .5 -.4 .6 -.4 .6 -.3 .5 -1.2 -.4 -.4 .6 -.4 .6 -.3 .6 -.4 .6 -.6 .4 -.3 .6 -.4 .6 -.4 .6 -.4 .6 -.5 .6 -.4 .6 -.3 .6 -.4 .6 -.4 .6 -.2 1.1 -.4 .6 -.3 .6 -.4 .7 -.4 .6 0 .5 -.4 .6 -.4 .7 -.4 .6 -.3 .7 -.9 .7 -.4 .6 -.4 .7 -.3 .7 -.4 .6 .4 1.1 -.4 .7 -.4 .6 -.4 .7 -.3 .7 -.8 .5 -.4 .7 -.4 .7 -.4 .7 -.3 .7 -.4 .9 -.4 .7 -.4 .7 -.3 .7 -.4 .7 -.4 .6 -.4 .7 -.4 .7 -.3 .7 -.4 .7 -.3 .9 -.4 .7 -.4 .8 -.4 .7 -.4 .7 -.5 .5 -.4 .7 -.4 .7 -.4 .8 -.4 .7 -.8 .4 -.4 .8 -.4 .7 -.4 .8 -.4 .7 -.1 1 -.4 .8 -.3 .8 -.4 .7 -.4 .8 -.1 .9 -.3 .8 -.4 .8 -.4 .7 -.4 .8 -.6 .7 -.4 .7 -.4 .8 -.4 .8 -.3 .8 -.8 .8 -.4 .8 -.3 .8 -.4 .8 -.4 .8 .2 .8 -.4 .8 -.4 .8 -.4 .8 -.3 .8 -1 .2 -.4 .8 -.4 .8 -.4 .8 -.4 .8 .5 1.7 -.4 .9 -.4 .8 -.4 .8 -.4 .8 -.2 .7 -.4 .8 -.3 .8 -.4 .8 -.4 .9 -.8 .6 -.4 .8 -.4 .9 -.4 .8 -.3 .8 -.5 1 -.4 .9 -.3 .8 -.4 .9 -.4 .8 -1 .3 -.4 .9 -.3 .8 -.4 .8 -.4 .9 .1 1.3 -.4 .8 -.3 .9 -.4 .8 -.4 .9 -.8 .7 -.4 .9 -.4 .8 -.4 .9 -.4 .8 -.2 .9 -.3 .9 -.4 .8 -.4 .9 -.4 .9 -.5 .6 -.4 .9 -.4 .8 -.4 .9 -.4 .9 .5 1.5 -.4 .9 -.4 .9 -.4 .9 -.4 .9 -.3 1 -.4 .9 -.4 .9 -.3 .9 -.4 .9 -1.7 .2 -.4 .9 -.4 .9 -.3 1 -.4 .9 -.3 .7 -.3 .9 -.4 .9 -.4 .9 -.4 1 0 1.1 -.4 .9 -.4 .9 -.4 .9 -.3 .9 0 1.1 -.4 1 -.4 .9 -.3 .9 -.4 .9 -.4 .6 -.4 .9 -.4 1 -.4 .9 -.4 .9 -1.1 1 -.4 .9 -.4 1 -.4 .9 -.4 1 .5 1.3 -.4 .9 -.4 1 -.4 .9 -.3 1 -.6 .8 -.4 1 -.3 .9 -.4 1 -.4 .9 -.4 1.3 -.4 .9 -.4 1 -.4 1 -.4 .9 -.8 1 -.4 1 -.4 1 -.3 .9 -.4 1 0 .6 -.3 1 -.4 .9 -.4 1 -.4 1 -.5 1.2 -.4 .9 -.3 1 -.4 1 -.4 1 .1 .9 -.4 .9 -.3 1 -.4 1 -.4 1 -1.3 1 -.4 1 -.3 1.1 -.4 1 -.4 1 1.1 1.2 -.3 1 -.4 1 -.4 1 -.4 1 -.9 .9 -.4 1 -.4 1 -.4 1 -.3 1 -1.2 1.2 -.4 1 -.3 1 -.4 1 -.4 1 .4 1.2 -.4 1.1 -.4 1 -.4 1 -.4 1.1 -.6 1.1 -.4 1 -.4 1.1 -.4 1 -.3 1 -.7 .9 -.4 1.1 -.3 1 -.4 1.1 -.4 1 -.5 1.1 -.4 1.1 -.4 1 -.4 1.1 -.3 1 .4 1 -.4 1.1 -.4 1 -.3 1.1 -.4 1 -.2 1.1 -.4 1 -.3 1.1 -.4 1.1 -.4 1 -1.4 .8 -.4 1.1 -.4 1.1 -.4 1 -.4 1.1 .4 1.3 -.3 1 -.4 1.1 -.4 1.1 -.4 1 -.8 .7 -.4 1 -.4 1.1 -.4 1.1 -.3 1 .1 1.5 -.4 1.1 -.4 1.1 -.4 1 -.3 1.1 -.9 1.1 -.3 1.1 -.4 1.1 -.4 1.1 -.4 1 -.5 1.1 -.4 1.1 -.4 1.1 -.3 1 -.4 1.1 -.4 1.3 -.4 1.1 -.4 1.1 -.3 1.1 -.4 1.1 -.3 .9 -.4 1.1 -.4 1 -.3 0 1.6 -1.8 -.3 .1 -.4 0 -.4 0 -.4 0 -.1 0Z" fill="#0000ff"/>
</g>
<text x="117.55" y="782.1" font-family="Liberation Sans, sans-serif" font-size="31" text-anchor="middle">0</text>
<text x="300.55" y="782.1" font-family="Liberation Sans, sans-serif" font-size="31" text-anchor="middle">30</text>
<text x="483.55" y="782.1" font-family="Liberation Sans, sans-serif" font-size="31" text-anchor="middle">60</text>
<text x="666.55" y="782.1" font-family="Liberation Sans, sans-serif" font-size="31" text-anchor="middle">90</text>
<text x="849.55" y="782.1" font-family="Liberation Sans, sans-serif" font-size="31" text-anchor="middle">120</text>
<text x="1032.55" y="782.1" font-family="Liberation Sans, sans-serif" font-size="31" text-anchor="middle">150</text>
<text x="100.5" y="114.98" font-family="Liberation Sans, sans-serif" font-size="31" text-anchor="end">60</text>
<text x="100.5" y="261.88" font-family="Liberation Sans, sans-serif" font-size="31" text-anchor="end">30</text>
<text x="100.5" y="408.78" font-family="Liberation Sans, sans-serif" font-size="31" text-anchor="end">0</text>
<text x="100.5" y="555.68" font-family="Liberation Sans, sans-serif" font-size="31" text-anchor="end">-30</text>
<text x="100.5" y="702.58" font-family="Liberation Sans, sans-serif" font-size="31" text-anchor="end">-60</text>
<text x="581" y="833.5" font-family="Liberation Serif, serif" font-size="40" text-anchor="middle">Time(<tspan font-family="Liberation Sans, sans-serif" font-size="35">μs</tspan>)</text>
<text transform="translate(34,400.3) rotate(-90)" font-family="Liberation Serif, serif" font-size="39" letter-spacing="-0.22" text-anchor="middle">Discharge current(kA)</text>
<line x1="752" y1="85.3" x2="837" y2="85.3" stroke="#000000" stroke-width="3.5" stroke-linecap="round"/>
<text x="848" y="98.1" font-family="Liberation Serif, serif" font-size="37">9kV</text>
<line x1="752" y1="131.9" x2="837" y2="131.9" stroke="#ff0000" stroke-width="3.5" stroke-linecap="round"/>
<text x="848" y="144.7" font-family="Liberation Serif, serif" font-size="37">10kV</text>
<line x1="752" y1="179.5" x2="837" y2="179.5" stroke="#0000ff" stroke-width="3.5" stroke-linecap="round"/>
<text x="848" y="192.3" font-family="Liberation Serif, serif" font-size="37">11kV</text>
</svg>
</body></html>
